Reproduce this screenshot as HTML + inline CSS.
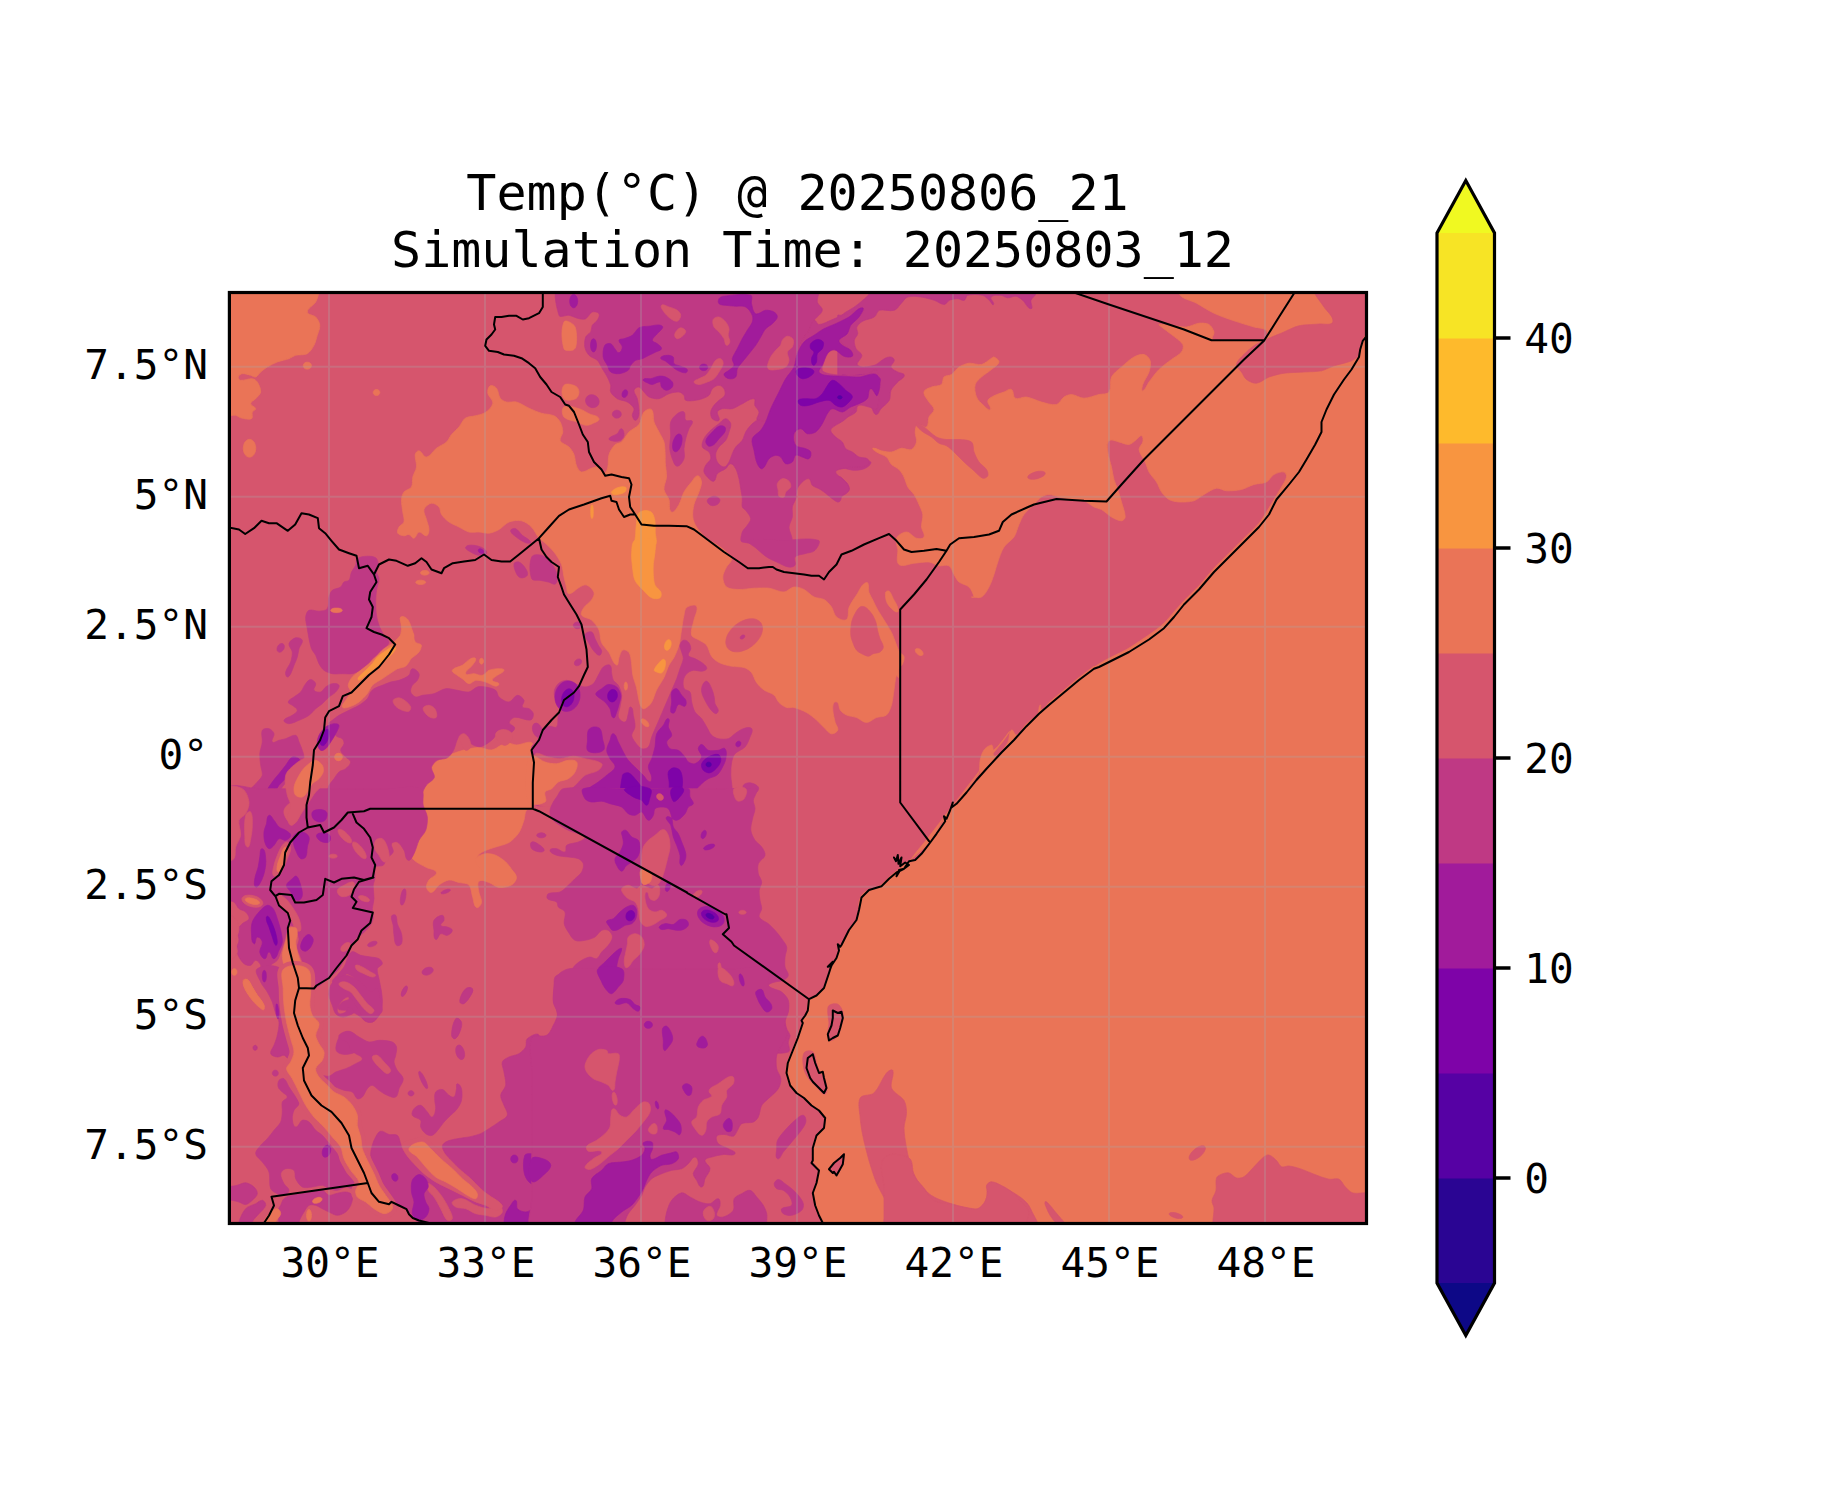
<!DOCTYPE html><html><head><meta charset="utf-8"><title>Temp map</title>
<style>html,body{margin:0;padding:0;background:#fff}svg{display:block}text{font-family:"DejaVu Sans Mono","Liberation Mono",monospace;fill:#000}</style></head><body>
<svg width="1833" height="1500" viewBox="0 0 1833 1500">
<rect width="1833" height="1500" fill="#fff"/>
<defs><clipPath id="mc"><rect x="229.4" y="292.5" width="1137.1" height="931.0"/></clipPath></defs>
<g clip-path="url(#mc)">
<rect x="229.4" y="292.5" width="1137.1" height="931.0" fill="#d6556d"/>
<path d="M994.0,357.0C995.9,357.9 999.4,359.9 999.0,362.0C998.4,365.1 993.9,367.4 991.5,369.5C988.7,371.9 984.3,374.5 981.5,377.0C979.3,379.0 976.0,381.7 975.2,384.5C974.3,388.2 975.1,393.5 976.5,397.0C977.8,400.2 981.4,403.4 984.0,405.8C985.6,407.2 988.9,411.2 990.2,409.5C991.9,407.3 987.0,403.4 987.8,400.8C988.4,398.4 991.9,396.9 994.0,395.8C996.8,394.2 1001.0,393.1 1004.0,392.0C1006.2,391.2 1009.4,388.3 1011.5,389.5C1014.0,390.9 1012.7,397.0 1015.2,398.2C1018.3,399.8 1023.1,396.5 1026.5,397.0C1031.2,397.7 1036.9,400.8 1041.5,402.0C1045.9,403.1 1052.0,405.5 1056.5,404.5C1059.6,403.8 1061.4,398.8 1064.0,397.0C1066.0,395.7 1069.1,394.4 1071.5,394.5C1075.4,394.7 1080.1,398.2 1084.0,398.2C1088.6,398.2 1094.5,395.6 1099.0,394.5C1102.0,393.8 1107.2,394.5 1109.0,392.0C1111.7,388.3 1109.5,381.1 1111.5,377.0C1113.4,373.2 1118.3,369.8 1121.5,367.0C1125.1,363.8 1129.8,359.3 1134.0,357.0C1136.7,355.5 1141.0,353.8 1144.0,354.5C1146.6,355.1 1149.5,358.2 1150.2,360.8C1151.2,364.0 1150.0,368.8 1149.0,372.0C1147.7,376.0 1144.1,380.5 1142.8,384.5C1142.2,386.3 1141.0,391.4 1142.8,390.8C1145.7,389.6 1147.0,384.6 1149.0,382.0C1151.9,378.2 1155.6,372.9 1159.0,369.5C1162.4,366.1 1167.7,362.4 1171.5,359.5C1174.5,357.2 1179.2,355.0 1181.5,352.0C1182.9,350.2 1183.9,346.5 1182.8,344.5C1180.5,340.6 1175.0,337.4 1171.5,334.5C1168.6,332.1 1164.4,329.3 1161.5,327.0C1160.7,326.3 1157.9,324.6 1159.0,324.5C1163.5,324.1 1169.5,325.3 1174.0,325.8C1177.8,326.1 1182.8,327.4 1186.5,327.0C1190.4,326.6 1195.1,323.7 1199.0,323.2C1202.0,322.9 1206.4,323.0 1209.0,324.5C1211.3,325.9 1213.3,329.4 1214.0,332.0C1214.6,334.2 1210.7,338.6 1212.8,339.5C1218.6,342.0 1227.6,340.4 1234.0,340.5C1243.0,340.6 1255.4,342.8 1264.0,340.2C1266.8,339.4 1268.3,333.1 1266.5,330.8C1264.1,327.6 1257.7,328.2 1254.0,327.0C1248.0,325.2 1239.9,322.8 1234.0,320.8C1227.9,318.7 1219.8,316.0 1214.0,313.2C1208.5,310.7 1201.8,306.2 1196.5,303.2C1191.2,300.2 1180.9,299.0 1179.0,293.2C1174.9,280.9 1171.6,260.6 1179.0,250.0C1184.2,242.6 1200.1,250.0 1209.1,250.0C1218.2,250.0 1230.2,250.0 1239.2,250.0C1248.3,250.0 1260.3,250.0 1269.4,250.0C1278.4,250.0 1290.5,250.0 1299.5,250.0C1308.5,250.0 1320.6,250.0 1329.6,250.0C1338.7,250.0 1350.7,250.0 1359.8,250.0C1368.8,250.0 1380.8,250.0 1389.9,250.0C1398.9,250.0 1413.6,243.6 1420.0,250.0C1426.4,256.4 1420.0,271.2 1420.0,280.3C1420.0,289.4 1420.0,301.5 1420.0,310.6C1420.0,319.7 1420.0,331.8 1420.0,340.9C1420.0,350.0 1420.0,362.1 1420.0,371.2C1420.0,380.3 1420.0,392.4 1420.0,401.5C1420.0,410.6 1420.0,422.7 1420.0,431.8C1420.0,440.9 1420.0,453.0 1420.0,462.1C1420.0,471.1 1420.0,483.3 1420.0,492.4C1420.0,501.4 1420.0,513.6 1420.0,522.6C1420.0,531.7 1420.0,543.9 1420.0,552.9C1420.0,562.0 1420.0,574.1 1420.0,583.2C1420.0,592.3 1420.0,604.4 1420.0,613.5C1420.0,622.6 1420.0,634.7 1420.0,643.8C1420.0,652.9 1420.0,665.0 1420.0,674.1C1420.0,683.2 1420.0,695.3 1420.0,704.4C1420.0,713.5 1420.0,725.6 1420.0,734.7C1420.0,743.8 1420.0,755.9 1420.0,765.0C1420.0,774.1 1420.0,786.2 1420.0,795.3C1420.0,804.4 1420.0,816.5 1420.0,825.6C1420.0,834.7 1420.0,846.8 1420.0,855.9C1420.0,865.0 1420.0,877.1 1420.0,886.2C1420.0,895.3 1420.0,907.4 1420.0,916.5C1420.0,925.6 1420.0,937.7 1420.0,946.8C1420.0,955.9 1420.0,968.0 1420.0,977.1C1420.0,986.1 1420.0,998.3 1420.0,1007.4C1420.0,1016.4 1420.0,1028.6 1420.0,1037.6C1420.0,1046.7 1420.0,1058.9 1420.0,1067.9C1420.0,1077.0 1420.0,1089.1 1420.0,1098.2C1420.0,1107.3 1420.0,1119.4 1420.0,1128.5C1420.0,1137.6 1420.0,1149.7 1420.0,1158.8C1420.0,1167.9 1420.0,1180.0 1420.0,1189.1C1420.0,1198.2 1420.0,1210.3 1420.0,1219.4C1420.0,1228.5 1420.0,1240.6 1420.0,1249.7C1420.0,1258.8 1426.7,1273.9 1420.0,1280.0C1413.0,1286.4 1398.0,1278.8 1388.6,1278.3C1379.1,1277.8 1366.6,1277.1 1357.1,1276.6C1347.7,1276.1 1335.1,1275.5 1325.7,1274.9C1316.3,1274.4 1303.7,1273.8 1294.3,1273.3C1284.8,1272.8 1272.3,1272.1 1262.8,1271.6C1253.4,1271.1 1240.8,1270.4 1231.4,1269.9C1222.0,1269.4 1209.4,1268.7 1200.0,1268.2C1190.5,1267.7 1178.0,1267.0 1168.5,1266.5C1159.1,1266.0 1146.5,1265.3 1137.1,1264.8C1127.7,1264.3 1115.1,1263.7 1105.7,1263.2C1096.2,1262.7 1083.7,1262.0 1074.2,1261.5C1064.8,1261.0 1052.2,1260.3 1042.8,1259.8C1033.4,1259.3 1020.8,1258.6 1011.4,1258.1C1001.9,1257.6 989.4,1256.9 979.9,1256.4C970.5,1255.9 957.9,1255.2 948.5,1254.7C939.1,1254.2 926.5,1253.6 917.1,1253.1C907.6,1252.5 895.0,1251.9 885.6,1251.4C876.2,1250.9 863.6,1250.2 854.2,1249.7C844.8,1249.2 829.9,1254.1 822.8,1248.0C817.0,1243.1 823.6,1230.5 822.8,1223.0C822.5,1220.5 820.0,1217.8 819.0,1215.5C817.7,1212.6 816.1,1208.6 815.2,1205.5C814.2,1201.8 812.5,1196.8 812.8,1193.0C812.9,1189.8 815.6,1186.1 816.5,1183.0C817.5,1179.3 819.6,1174.3 819.0,1170.5C818.4,1167.0 813.7,1163.9 812.8,1160.5C811.7,1156.9 812.2,1151.7 812.8,1148.0C813.3,1144.1 814.6,1138.9 816.5,1135.5C818.1,1132.7 822.6,1130.8 824.0,1128.0C825.4,1125.3 826.1,1120.9 825.2,1118.0C824.4,1115.2 821.2,1112.5 819.0,1110.5C817.0,1108.7 813.6,1107.2 811.5,1105.5C809.1,1103.5 806.5,1100.0 804.0,1098.0C801.8,1096.2 798.1,1094.9 796.0,1093.0C793.8,1091.1 791.1,1088.1 789.8,1085.5C788.0,1082.0 786.4,1076.9 786.0,1073.0C785.7,1070.0 786.4,1065.9 787.2,1063.0C788.3,1059.1 790.8,1054.2 792.2,1050.5C793.8,1046.8 795.9,1041.8 797.2,1038.0C798.9,1033.5 800.6,1027.5 802.2,1023.0C803.6,1019.2 806.1,1014.4 807.2,1010.5C808.2,1007.2 807.2,1002.2 809.0,999.2C810.3,997.1 814.5,997.0 816.5,995.5C819.0,993.6 822.5,990.8 824.0,988.0C826.3,983.9 827.2,977.4 829.0,973.0C830.9,968.4 834.4,962.6 836.5,958.0C838.2,954.2 839.9,948.9 841.5,945.0C842.1,943.5 843.2,941.5 844.0,940.0C846.2,936.2 849.2,931.2 851.5,927.5C853.8,923.8 857.7,919.2 859.0,915.0C860.1,911.4 858.2,906.2 859.0,902.5C859.7,899.2 861.4,894.6 864.0,892.5C867.8,889.4 874.9,888.9 879.0,886.2C883.3,883.5 887.7,878.3 891.5,875.0C895.2,871.9 900.3,868.0 904.0,865.0C908.5,861.3 914.7,856.4 919.0,852.5C922.9,848.9 928.4,844.3 931.5,840.0C936.0,833.7 939.9,824.1 944.0,817.5C946.7,813.2 950.8,807.7 954.0,803.8C956.8,800.2 960.9,795.8 964.0,792.5C968.4,787.9 976.0,783.1 979.0,777.5C981.5,772.8 980.1,765.1 981.5,760.0C982.4,756.8 984.6,752.8 986.5,750.0C987.7,748.2 989.4,745.0 991.5,745.0C993.2,745.0 992.6,751.0 994.0,750.0C999.6,746.0 1012.5,726.5 1009.0,732.5C1004.0,741.0 995.0,750.7 989.0,758.5C983.0,766.3 975.0,776.7 969.0,784.5C963.0,792.3 955.0,802.7 949.0,810.5C943.0,818.3 935.0,828.7 929.0,836.5C923.0,844.3 914.0,854.0 909.0,862.5C908.0,864.2 913.6,861.2 915.2,860.0C917.4,858.5 919.8,855.8 921.5,853.8C924.3,850.5 927.8,846.0 930.2,842.5C932.3,839.6 934.6,835.5 936.5,832.5C938.4,829.5 941.3,825.7 942.8,822.5C943.6,820.8 943.0,817.9 944.0,816.2C945.0,814.7 947.7,813.9 949.0,812.5C951.5,809.7 954.2,805.5 956.5,802.5C959.4,798.7 963.5,793.8 966.5,790.0C969.1,786.6 972.8,782.2 975.2,778.8C976.5,777.0 978.4,774.6 979.0,772.5C980.0,768.9 979.4,763.7 980.2,760.0C980.9,756.9 982.1,752.6 984.0,750.0C985.3,748.2 988.3,745.2 990.2,746.2C993.2,747.9 992.0,757.0 995.2,756.2C1000.7,755.1 1004.8,747.2 1007.8,742.5C1009.8,739.2 1008.5,732.5 1011.5,730.0C1013.1,728.6 1014.5,735.8 1016.5,735.0C1020.7,733.3 1023.3,726.9 1026.5,723.8C1029.7,720.6 1035.1,717.4 1037.8,713.8C1039.4,711.5 1038.3,706.9 1040.2,705.0C1041.3,703.9 1040.0,710.4 1041.5,710.0C1044.6,709.1 1046.6,704.6 1049.0,702.5C1053.4,698.6 1059.5,693.8 1064.0,690.0C1068.5,686.2 1074.4,681.1 1079.0,677.5C1083.4,674.0 1089.4,669.5 1094.0,666.2C1094.2,666.1 1093.8,667.1 1094.0,667.0C1097.8,664.9 1102.6,661.6 1106.5,659.5C1112.4,656.3 1120.7,652.8 1126.5,649.5C1131.9,646.4 1138.8,641.7 1144.0,638.2C1147.8,635.7 1152.8,632.2 1156.5,629.5C1158.8,627.7 1161.9,625.3 1164.0,623.2C1167.2,620.1 1171.0,615.4 1174.0,612.0C1177.0,608.6 1180.9,604.0 1184.0,600.8C1188.4,596.1 1194.7,590.4 1199.0,585.8C1203.7,580.7 1209.3,573.3 1214.0,568.2C1218.3,563.6 1224.5,557.8 1229.0,553.2C1233.5,548.8 1239.5,542.8 1244.0,538.2C1248.5,533.8 1254.9,528.1 1259.0,523.2C1261.6,520.2 1264.3,515.4 1266.5,512.0C1268.8,508.3 1271.8,503.2 1274.0,499.5C1276.2,495.8 1279.4,490.8 1281.5,487.0C1283.1,484.1 1285.9,480.3 1286.5,477.0C1286.8,475.3 1285.6,472.3 1284.0,472.0C1281.0,471.4 1276.7,473.0 1274.0,474.5C1271.2,476.1 1269.3,480.6 1266.5,482.0C1263.1,483.7 1257.7,483.4 1254.0,484.5C1250.1,485.7 1245.4,488.6 1241.5,489.5C1237.1,490.5 1231.0,491.0 1226.5,490.8C1223.4,490.6 1219.6,487.7 1216.5,488.2C1212.4,488.9 1207.7,492.5 1204.0,494.5C1200.9,496.2 1197.4,499.7 1194.0,500.8C1189.7,502.0 1183.5,502.2 1179.0,502.0C1175.9,501.8 1171.7,501.0 1169.0,499.5C1166.2,497.9 1163.3,494.6 1161.5,492.0C1159.6,489.3 1158.3,484.8 1156.5,482.0C1154.5,478.8 1150.8,475.3 1149.0,472.0C1147.4,469.2 1146.6,464.9 1145.2,462.0C1143.5,458.2 1139.5,453.7 1139.0,449.5C1138.7,447.0 1142.3,444.5 1142.8,442.0C1143.1,440.1 1143.3,436.5 1141.5,435.8C1139.8,435.1 1138.0,438.4 1136.5,439.5C1134.3,441.1 1131.7,444.1 1129.0,444.5C1125.9,444.9 1122.0,442.6 1119.0,442.0C1116.0,441.4 1111.3,438.7 1109.0,440.8C1106.5,443.0 1107.4,448.6 1107.8,452.0C1108.2,456.6 1110.5,462.5 1111.5,467.0C1112.3,470.7 1113.0,475.8 1114.0,479.5C1114.9,482.6 1116.7,486.5 1117.8,489.5C1119.0,493.2 1120.5,498.2 1121.5,502.0C1122.7,506.5 1125.2,512.4 1125.2,517.0C1125.2,518.6 1123.1,520.8 1121.5,520.8C1118.3,520.8 1114.3,518.6 1111.5,517.0C1108.2,515.2 1104.8,511.4 1101.5,509.5C1099.4,508.3 1096.1,508.1 1094.0,507.0C1090.8,505.4 1087.4,501.9 1084.0,500.8C1080.4,499.6 1075.2,500.1 1071.5,499.5C1067.7,498.9 1062.7,497.8 1059.0,497.0C1056.0,496.3 1052.1,494.5 1049.0,494.5C1046.6,494.5 1043.5,495.7 1041.5,497.0C1038.9,498.8 1036.2,502.2 1034.0,504.5C1031.0,507.5 1026.5,511.1 1024.0,514.5C1022.0,517.2 1020.4,521.4 1019.0,524.5C1017.4,528.2 1016.2,533.6 1014.0,537.0C1011.6,540.5 1006.3,543.4 1004.0,547.0C1001.3,551.1 999.4,557.4 997.8,562.0C996.4,565.7 995.3,570.8 994.0,574.5C992.7,578.3 991.0,583.5 989.0,587.0C987.2,590.3 984.8,595.1 981.5,597.0C978.9,598.5 974.5,597.0 971.5,597.0C970.8,597.0 974.2,597.7 974.0,597.0C973.2,593.7 971.4,589.4 969.0,587.0C966.6,584.6 961.6,584.1 959.0,582.0C956.9,580.3 955.4,576.8 954.0,574.5C952.4,571.9 951.6,567.3 949.0,565.8C946.4,564.2 941.9,566.3 939.0,565.8C935.9,565.2 932.2,562.3 929.0,562.0C924.5,561.6 918.5,562.9 914.0,563.2C909.5,563.6 902.4,567.4 899.0,564.5C895.6,561.6 898.2,554.0 897.8,549.5C897.4,546.1 895.0,541.3 896.5,538.2C898.1,535.1 903.0,532.0 906.5,532.0C910.0,532.0 913.1,537.3 916.5,538.2C918.7,538.9 923.1,539.1 924.0,537.0C925.3,534.2 921.7,530.1 921.5,527.0C921.3,523.2 923.2,518.2 922.8,514.5C922.4,511.3 920.3,507.4 919.0,504.5C917.7,501.4 915.8,497.3 914.0,494.5C912.4,492.0 909.2,489.5 907.8,487.0C906.2,484.2 905.4,479.9 904.0,477.0C902.8,474.6 900.9,471.4 899.0,469.5C897.1,467.6 893.4,466.4 891.5,464.5C889.6,462.6 888.6,458.7 886.5,457.0C883.9,454.9 879.3,453.8 876.5,452.0C875.2,451.1 871.2,448.6 872.8,448.2C875.4,447.6 878.8,450.2 881.5,450.8C884.5,451.3 888.5,452.4 891.5,452.0C894.7,451.6 898.3,448.6 901.5,448.2C904.5,447.9 908.7,450.7 911.5,449.5C914.0,448.5 915.9,444.6 916.5,442.0C917.1,439.0 915.0,435.0 915.2,432.0C915.4,429.6 915.6,425.5 917.8,424.5C920.2,423.4 924.2,428.5 926.5,427.0C929.1,425.3 927.8,419.8 929.0,417.0C930.1,414.5 934.0,412.2 934.0,409.5C934.0,406.8 930.3,404.3 929.0,402.0C927.3,399.1 923.4,395.3 924.0,392.0C924.4,389.3 929.0,388.1 931.5,387.0C934.3,385.8 939.1,386.4 941.5,384.5C943.4,383.0 942.3,378.7 944.0,377.0C945.7,375.3 949.5,375.8 951.5,374.5C954.1,372.7 956.3,368.7 959.0,367.0C961.7,365.3 965.8,363.6 969.0,363.2C972.7,362.8 977.8,365.3 981.5,364.5C985.0,363.7 988.5,360.1 991.5,358.2C992.2,357.8 993.2,356.6 994.0,357.0Z" fill="#ea7457" stroke="#ea7457" stroke-width="0.7"/>
<path d="M1236.5,364.5C1237.0,360.8 1241.4,357.2 1244.0,354.5C1246.7,351.6 1250.7,348.0 1254.0,345.8C1256.8,343.8 1261.0,342.2 1264.0,340.8C1265.5,340.0 1267.5,338.9 1269.0,338.2C1273.5,336.3 1279.5,333.9 1284.0,332.0C1288.5,330.1 1294.2,326.8 1299.0,325.8C1304.9,324.4 1313.0,324.7 1319.0,324.0C1323.1,323.5 1331.6,326.0 1332.8,322.0C1334.2,317.0 1326.8,311.4 1324.0,307.0C1321.1,302.4 1316.1,297.0 1314.0,292.0C1312.2,287.8 1307.3,278.9 1311.5,277.0C1321.4,272.6 1336.9,277.0 1347.8,277.0C1358.6,277.0 1378.1,267.9 1384.0,277.0C1393.1,291.2 1388.9,317.1 1384.0,333.2C1382.5,338.1 1371.8,331.6 1367.0,333.2C1364.4,334.1 1363.1,338.3 1362.0,340.8C1360.9,343.2 1360.4,346.9 1359.8,349.5C1359.3,351.4 1359.6,354.2 1358.5,355.8C1357.0,357.8 1353.8,359.6 1351.5,360.8C1349.4,361.8 1346.3,362.6 1344.0,363.2C1341.0,364.1 1336.9,364.8 1334.0,365.8C1330.2,367.0 1325.5,369.9 1321.5,370.8C1316.3,371.8 1309.3,371.6 1304.0,372.0C1298.0,372.4 1290.0,372.4 1284.0,373.2C1279.4,373.9 1273.4,375.4 1269.0,377.0C1265.1,378.4 1260.7,382.8 1256.5,383.2C1253.3,383.6 1249.1,381.4 1246.5,379.5C1244.3,377.9 1243.0,374.2 1241.5,372.0C1240.0,369.8 1236.1,367.2 1236.5,364.5Z" fill="#d6556d" stroke="#d6556d" stroke-width="0.7"/>
<path d="M916.5,423.2C917.9,421.2 921.9,425.6 924.0,427.0C928.0,429.7 932.3,434.7 936.5,437.0C939.2,438.5 943.4,439.2 946.5,439.5C950.2,439.9 955.3,439.1 959.0,439.5C962.8,439.9 968.6,439.6 971.5,442.0C973.9,444.0 972.9,449.1 974.0,452.0C975.2,455.1 977.1,459.3 979.0,462.0C980.8,464.6 984.8,466.8 986.5,469.5C987.5,471.1 988.5,474.0 987.8,475.8C987.1,477.3 984.3,478.8 982.8,478.2C979.5,477.1 976.6,473.0 974.0,470.8C971.0,468.1 966.9,464.7 964.0,462.0C960.9,459.1 957.1,454.9 954.0,452.0C951.9,450.0 949.0,447.2 946.5,445.8C944.5,444.6 941.0,444.4 939.0,443.2C936.5,441.8 933.9,438.7 931.5,437.0C928.6,434.9 924.1,433.1 921.5,430.8C919.5,428.9 915.0,425.5 916.5,423.2Z" fill="#d6556d" stroke="#d6556d" stroke-width="0.7"/>
<path d="M1045.2,472.9C1045.4,473.7 1044.7,474.8 1044.1,475.4C1043.0,476.3 1041.3,477.2 1040.0,477.7C1038.5,478.4 1036.3,479.0 1034.7,479.2C1033.3,479.4 1031.4,479.4 1030.0,479.1C1029.2,478.9 1028.0,478.4 1027.8,477.6C1027.6,476.8 1028.3,475.7 1028.9,475.1C1030.0,474.2 1031.7,473.3 1033.0,472.8C1034.5,472.1 1036.7,471.5 1038.3,471.3C1039.7,471.1 1041.6,471.1 1043.0,471.4C1043.8,471.6 1045.0,472.1 1045.2,472.9Z" fill="#d6556d" stroke="#d6556d" stroke-width="0.7"/>
<path d="M860.2,1098.0C862.4,1094.2 870.8,1096.0 874.0,1093.0C879.1,1088.1 882.0,1078.4 886.5,1073.0C887.8,1071.4 892.1,1068.6 892.8,1070.5C894.4,1075.5 889.7,1083.1 891.5,1088.0C893.4,1093.0 901.3,1096.0 904.0,1100.5C906.0,1103.8 906.5,1109.2 906.5,1113.0C906.5,1117.6 904.0,1123.4 904.0,1128.0C904.0,1134.0 905.4,1142.1 906.5,1148.0C907.6,1154.1 909.4,1162.2 911.5,1168.0C913.2,1172.7 916.0,1178.9 919.0,1183.0C922.1,1187.3 927.1,1192.6 931.5,1195.5C936.3,1198.7 943.6,1201.2 949.0,1203.0C954.9,1205.0 962.9,1207.1 969.0,1208.0C972.7,1208.6 978.2,1209.9 981.5,1208.0C984.4,1206.3 985.5,1201.2 986.5,1198.0C987.8,1193.6 985.8,1186.2 989.0,1183.0C991.2,1180.8 996.1,1184.4 999.0,1185.5C1003.7,1187.4 1009.7,1190.3 1014.0,1193.0C1018.2,1195.6 1023.7,1199.3 1027.0,1203.0C1029.9,1206.2 1031.9,1211.8 1034.0,1215.5C1037.0,1220.8 1039.9,1228.5 1044.0,1233.0C1047.6,1237.0 1057.1,1237.9 1059.0,1243.0C1062.2,1251.4 1065.7,1267.0 1059.0,1273.0C1051.5,1279.7 1035.5,1273.0 1025.5,1273.0C1015.5,1273.0 1002.0,1273.0 992.0,1273.0C982.0,1273.0 968.5,1273.0 958.5,1273.0C948.5,1273.0 935.0,1273.0 925.0,1273.0C915.0,1273.0 897.1,1281.3 891.5,1273.0C883.2,1260.5 892.6,1238.0 891.5,1223.0C891.1,1216.8 888.7,1208.8 886.5,1203.0C884.1,1196.7 879.1,1189.2 876.5,1183.0C873.8,1176.4 871.0,1167.3 869.0,1160.5C866.9,1153.1 864.3,1143.1 862.8,1135.5C861.7,1130.3 860.6,1123.3 860.2,1118.0C859.9,1112.0 857.4,1103.3 860.2,1098.0Z" fill="#d6556d" stroke="#d6556d" stroke-width="0.7"/>
<path d="M909.0,1158.0C913.7,1160.8 911.6,1170.6 914.0,1175.5C916.1,1179.8 921.0,1184.2 924.0,1188.0C927.0,1191.8 929.9,1198.1 934.0,1200.5C938.6,1203.2 946.3,1203.0 951.5,1204.2C956.0,1205.3 962.0,1207.1 966.5,1208.0C969.5,1208.6 973.6,1210.1 976.5,1209.2C979.3,1208.4 982.3,1205.4 984.0,1203.0C985.8,1200.4 987.3,1196.2 987.8,1193.0C988.1,1190.7 985.8,1187.7 986.5,1185.5C987.1,1183.7 989.6,1181.8 991.5,1181.8C994.7,1181.8 998.6,1184.1 1001.5,1185.5C1004.7,1187.1 1008.8,1189.5 1011.5,1191.8C1014.8,1194.4 1018.7,1198.6 1021.5,1201.8C1024.0,1204.6 1028.1,1208.1 1029.0,1211.8C1029.8,1215.1 1026.7,1219.6 1026.5,1223.0C1026.0,1230.5 1032.6,1243.7 1026.5,1248.0C1017.8,1254.1 1001.6,1248.0 990.9,1248.0C980.2,1248.0 965.9,1248.0 955.2,1248.0C944.6,1248.0 930.3,1248.0 919.6,1248.0C908.9,1248.0 892.2,1254.9 884.0,1248.0C877.1,1242.2 884.0,1227.0 884.0,1218.0C884.0,1209.0 884.0,1197.0 884.0,1188.0C884.0,1179.0 878.2,1164.9 884.0,1158.0C888.8,1152.2 902.5,1154.2 909.0,1158.0Z" fill="#d6556d" stroke="#d6556d" stroke-width="0.7"/>
<path d="M1045.2,1201.8C1046.0,1200.6 1048.0,1203.3 1049.0,1204.2C1051.1,1206.3 1053.4,1209.5 1055.2,1211.8C1057.1,1214.0 1059.7,1216.9 1061.5,1219.2C1062.3,1220.3 1065.1,1222.2 1064.0,1223.0C1062.2,1224.3 1058.5,1224.1 1056.5,1223.0C1053.9,1221.6 1051.9,1217.9 1050.2,1215.5C1048.9,1213.4 1047.4,1210.4 1046.5,1208.0C1045.8,1206.2 1044.2,1203.3 1045.2,1201.8Z" fill="#d6556d" stroke="#d6556d" stroke-width="0.7"/>
<path d="M1216.5,1178.0C1217.1,1176.2 1219.8,1174.9 1221.5,1174.2C1223.6,1173.4 1226.8,1172.4 1229.0,1173.0C1231.6,1173.7 1233.9,1177.3 1236.5,1178.0C1238.7,1178.6 1242.1,1178.0 1244.0,1176.8C1247.6,1174.5 1251.0,1169.8 1254.0,1166.8C1257.0,1163.8 1260.7,1159.4 1264.0,1156.8C1265.3,1155.8 1267.5,1154.5 1269.0,1155.0C1271.7,1155.8 1274.5,1158.6 1276.5,1160.5C1278.2,1162.1 1279.3,1165.8 1281.5,1166.8C1283.6,1167.7 1286.8,1165.7 1289.0,1166.0C1292.8,1166.5 1297.8,1168.0 1301.5,1169.2C1305.3,1170.5 1310.2,1172.9 1314.0,1174.2C1318.5,1175.9 1324.3,1178.3 1329.0,1179.2C1331.9,1179.8 1336.3,1178.0 1339.0,1179.2C1341.7,1180.5 1343.2,1184.7 1345.2,1186.8C1347.3,1188.8 1349.9,1192.3 1352.8,1193.0C1356.9,1194.1 1362.7,1192.6 1367.0,1192.5C1372.1,1192.4 1382.5,1187.6 1384.0,1192.5C1388.9,1208.4 1392.7,1233.8 1384.0,1248.0C1378.6,1256.7 1360.0,1248.0 1349.8,1248.0C1339.5,1248.0 1325.8,1248.0 1315.5,1248.0C1305.2,1248.0 1291.5,1248.0 1281.2,1248.0C1271.0,1248.0 1257.3,1248.0 1247.0,1248.0C1236.7,1248.0 1221.0,1254.1 1212.8,1248.0C1206.7,1243.6 1212.5,1230.5 1212.8,1223.0C1212.9,1218.5 1214.2,1212.5 1214.0,1208.0C1213.9,1205.7 1211.7,1202.8 1212.0,1200.5C1212.4,1197.3 1215.4,1193.7 1216.0,1190.5C1216.7,1186.8 1215.3,1181.6 1216.5,1178.0Z" fill="#d6556d" stroke="#d6556d" stroke-width="0.7"/>
<path d="M1204.9,1146.6C1205.5,1147.3 1205.5,1148.9 1205.1,1149.8C1204.7,1151.3 1203.4,1153.1 1202.4,1154.3C1201.1,1155.7 1199.2,1157.3 1197.6,1158.3C1196.3,1159.1 1194.3,1160.0 1192.8,1160.2C1191.8,1160.4 1190.2,1160.2 1189.6,1159.4C1189.0,1158.7 1189.0,1157.1 1189.4,1156.2C1189.8,1154.7 1191.1,1152.9 1192.1,1151.7C1193.4,1150.3 1195.3,1148.7 1196.9,1147.7C1198.2,1146.9 1200.2,1146.0 1201.7,1145.8C1202.7,1145.6 1204.3,1145.8 1204.9,1146.6Z" fill="#d6556d" stroke="#d6556d" stroke-width="0.7"/>
<path d="M1182.8,1217.3C1182.6,1217.9 1181.7,1218.3 1181.1,1218.4C1180.0,1218.6 1178.5,1218.5 1177.5,1218.4C1176.2,1218.2 1174.5,1217.7 1173.3,1217.2C1172.3,1216.8 1171.0,1216.2 1170.1,1215.5C1169.7,1215.1 1169.1,1214.3 1169.2,1213.7C1169.4,1213.1 1170.3,1212.7 1170.9,1212.6C1172.0,1212.4 1173.5,1212.5 1174.5,1212.6C1175.8,1212.8 1177.5,1213.3 1178.7,1213.8C1179.7,1214.2 1181.0,1214.8 1181.9,1215.5C1182.3,1215.9 1182.9,1216.7 1182.8,1217.3Z" fill="#d6556d" stroke="#d6556d" stroke-width="0.7"/>
<path d="M465.2,418.2C467.8,416.5 472.3,416.5 475.2,415.8C477.9,415.0 481.6,414.5 484.0,413.2C486.1,412.2 488.8,410.1 490.2,408.2C491.5,406.7 493.1,404.0 492.8,402.0C492.3,399.0 488.2,396.2 487.8,393.2C487.4,390.9 488.2,386.9 490.2,385.8C492.0,384.7 495.2,386.7 496.5,388.2C498.5,390.8 498.4,395.7 500.2,398.2C501.5,400.0 504.4,401.5 506.5,402.0C509.4,402.7 513.6,401.2 516.5,402.0C520.5,403.1 525.2,406.5 529.0,408.2C532.7,409.9 537.6,412.1 541.5,413.2C545.2,414.3 550.5,414.1 554.0,415.8C556.4,416.9 559.0,419.7 560.2,422.0C561.7,424.7 562.8,428.9 562.8,432.0C562.8,434.7 559.2,438.2 560.2,440.8C561.5,443.7 566.7,444.7 569.0,447.0C570.9,448.9 573.0,452.0 574.0,454.5C575.3,457.7 575.1,462.6 576.5,465.8C577.4,468.0 579.1,471.6 581.5,472.0C584.7,472.5 588.4,469.1 591.5,468.2C593.7,467.6 596.9,466.2 599.0,467.0C601.2,467.9 601.6,473.2 604.0,473.2C606.2,473.2 607.2,469.1 607.8,467.0C608.7,463.4 607.8,458.1 609.0,454.5C610.1,451.1 612.7,447.0 615.2,444.5C616.7,443.1 620.0,443.4 621.5,442.0C624.3,439.5 626.3,434.7 629.0,432.0C631.7,429.3 636.8,427.5 639.0,424.5C641.4,421.3 641.4,415.1 644.0,412.0C645.5,410.2 649.8,407.8 651.5,409.5C654.2,412.2 652.8,418.4 654.0,422.0C655.1,425.2 657.5,429.0 659.0,432.0C660.5,435.0 663.1,438.8 664.0,442.0C665.0,445.6 665.0,450.7 665.2,454.5C665.4,456.7 665.1,459.8 665.2,462.0C665.5,466.5 666.7,472.5 666.5,477.0C666.3,480.8 663.6,485.7 664.0,489.5C664.4,492.8 667.9,496.3 669.0,499.5C670.2,503.1 668.1,510.3 671.5,512.0C674.3,513.4 677.3,507.2 679.0,504.5C681.1,501.1 682.0,495.5 684.0,492.0C685.8,488.7 689.1,484.9 691.5,482.0C693.2,480.0 695.1,475.8 697.8,475.8C699.9,475.8 701.3,479.8 701.5,482.0C701.7,485.1 700.0,489.1 699.0,492.0C697.7,495.8 695.0,500.6 694.0,504.5C693.1,508.2 692.3,513.3 692.8,517.0C693.1,520.2 694.8,524.3 696.5,527.0C699.0,530.8 703.1,535.3 706.5,538.2C709.2,540.6 713.6,542.5 716.5,544.5C719.6,546.6 723.8,549.3 726.5,552.0C728.4,553.9 731.5,556.8 731.5,559.5C731.5,562.2 727.7,564.6 726.5,567.0C725.1,569.9 722.8,573.8 722.8,577.0C722.8,580.2 724.0,585.0 726.5,587.0C729.5,589.3 735.2,589.3 739.0,589.5C743.5,589.7 749.5,588.4 754.0,588.2C758.5,588.1 764.5,587.7 769.0,588.2C773.6,588.8 779.4,592.2 784.0,592.0C787.3,591.8 790.7,587.4 794.0,587.0C797.1,586.6 801.2,588.1 804.0,589.5C807.4,591.2 810.6,595.3 814.0,597.0C816.8,598.4 821.3,598.0 824.0,599.5C826.8,601.1 829.7,604.4 831.5,607.0C833.4,609.7 833.9,614.9 836.5,617.0C838.9,619.0 844.0,621.4 846.5,619.5C849.4,617.3 847.6,610.9 849.0,607.5C850.7,603.5 854.0,598.6 856.5,595.0C859.3,591.1 861.8,583.4 866.5,582.5C869.5,581.9 868.0,589.6 869.0,592.5C869.8,594.9 871.6,597.8 872.8,600.0C874.2,603.0 876.1,607.1 877.8,610.0C879.5,613.1 882.2,617.0 884.0,620.0C886.3,623.7 889.5,628.6 891.5,632.5C893.3,636.1 895.0,641.3 896.5,645.0C897.4,647.1 898.3,650.1 899.5,652.0C900.5,653.6 903.5,654.6 904.0,656.5C904.6,658.7 903.4,661.9 902.5,664.0C901.8,665.7 899.5,667.2 899.0,669.0C898.3,671.4 899.5,675.1 898.5,677.5C898.1,678.4 896.8,674.1 896.5,675.0C895.0,679.3 894.8,685.5 894.0,690.0C893.2,694.5 892.8,700.6 891.5,705.0C890.5,708.2 889.1,712.9 886.5,715.0C884.1,717.0 879.4,716.4 876.5,717.5C873.4,718.7 869.9,722.5 866.5,722.5C863.1,722.5 859.6,718.7 856.5,717.5C853.6,716.4 849.3,716.3 846.5,715.0C844.3,714.0 841.6,712.0 840.2,710.0C838.9,708.1 839.3,704.3 837.8,702.5C837.0,701.6 834.6,701.6 834.0,702.5C832.7,704.4 832.6,707.7 832.8,710.0C833.0,713.8 834.3,718.8 835.2,722.5C835.8,724.8 838.5,727.8 837.8,730.0C837.1,732.1 833.7,734.1 831.5,733.8C828.6,733.2 826.2,729.5 824.0,727.5C821.7,725.3 818.9,722.1 816.5,720.0C813.7,717.6 809.8,714.3 806.5,712.5C803.0,710.5 797.9,708.5 794.0,707.5C791.8,707.0 788.6,708.2 786.5,707.5C783.9,706.6 780.9,704.4 779.0,702.5C777.1,700.6 776.1,696.7 774.0,695.0C771.4,692.9 766.7,691.9 764.0,690.0C761.4,688.2 758.3,685.1 756.5,682.5C754.6,679.8 753.6,675.1 751.5,672.5C749.8,670.4 746.6,668.3 744.0,667.5C740.4,666.4 735.2,667.0 731.5,666.2C727.7,665.5 722.5,664.3 719.0,662.5C716.4,661.2 713.2,658.6 711.5,656.2C709.4,653.2 708.8,647.9 706.5,645.0C704.9,642.9 701.2,641.5 699.0,640.0C696.8,638.5 692.2,637.6 691.5,635.0C690.4,630.6 693.2,624.5 694.0,620.0C694.7,615.9 698.7,609.8 696.5,606.2C694.9,603.7 689.0,605.8 686.5,607.5C684.6,608.9 684.5,612.7 684.0,615.0C683.0,619.5 682.2,625.5 681.5,630.0C680.8,634.5 680.2,640.6 679.0,645.0C677.9,648.9 675.8,653.9 674.0,657.5C672.8,659.9 670.2,662.6 669.0,665.0C667.2,668.6 665.8,673.9 664.0,677.5C662.0,681.4 658.5,686.1 656.5,690.0C654.7,693.6 653.7,699.1 651.5,702.5C649.9,704.9 646.9,708.1 644.0,708.8C642.4,709.1 640.8,706.5 640.2,705.0C638.5,699.9 637.8,692.7 636.5,687.5C635.6,683.7 633.5,678.8 632.8,675.0C632.0,671.3 632.1,666.2 631.5,662.5C631.0,659.4 630.8,655.0 629.0,652.5C627.8,650.8 624.6,649.1 622.8,650.0C620.5,651.1 620.0,655.2 619.0,657.5C618.1,659.7 618.6,666.1 616.5,665.0C612.6,663.0 611.4,656.1 609.0,652.5C606.9,649.4 603.0,645.9 601.5,642.5C599.9,639.0 600.6,633.5 599.0,630.0C597.5,626.6 594.3,622.4 591.5,620.0C589.0,617.8 583.2,617.9 581.5,615.0C580.3,613.0 582.7,609.5 584.0,607.5C585.8,604.9 589.7,602.6 591.5,600.0C592.8,598.0 594.8,594.8 594.0,592.5C593.0,589.5 589.5,586.0 586.5,585.0C584.2,584.2 581.1,586.4 579.0,587.5C575.8,589.1 572.5,593.9 569.0,593.8C566.8,593.7 567.1,589.1 566.5,587.0C565.6,584.0 564.7,580.0 564.0,577.0C563.2,573.3 562.9,568.1 561.5,564.5C559.9,560.4 556.7,555.5 554.0,552.0C551.4,548.7 547.1,544.9 544.0,542.0C542.6,540.7 540.2,539.7 539.0,538.2C536.4,535.1 534.4,529.9 531.5,527.0C529.0,524.5 525.0,521.5 521.5,520.8C517.8,519.9 512.5,520.6 509.0,522.0C505.5,523.4 502.3,527.7 499.0,529.5C496.2,531.1 492.2,532.9 489.0,533.2C486.0,533.6 482.0,532.2 479.0,532.0C476.0,531.8 471.9,532.7 469.0,532.0C465.7,531.2 462.0,528.5 459.0,527.0C456.0,525.5 451.7,523.9 449.0,522.0C446.4,520.2 443.3,517.1 441.5,514.5C440.2,512.5 440.6,508.8 439.0,507.0C437.3,505.1 434.0,502.8 431.5,503.2C428.6,503.7 424.9,506.7 424.0,509.5C423.1,512.5 425.8,516.5 426.5,519.5C427.2,522.5 429.0,526.4 429.0,529.5C429.0,531.5 428.5,535.3 426.5,535.8C424.1,536.4 421.5,531.5 419.0,532.0C416.6,532.5 416.3,537.7 414.0,538.2C412.2,538.7 410.8,535.0 409.0,534.5C407.5,534.1 405.5,535.9 404.0,535.8C402.0,535.5 398.8,535.0 397.8,533.2C396.8,531.6 398.1,528.7 399.0,527.0C400.0,525.1 403.5,524.1 404.0,522.0C404.7,519.1 403.1,515.0 402.8,512.0C402.3,508.3 401.3,503.3 401.5,499.5C401.6,497.1 402.5,493.9 404.0,492.0C405.7,489.9 410.1,489.3 411.5,487.0C413.0,484.4 412.0,479.9 412.8,477.0C413.5,473.9 416.1,470.2 416.5,467.0C416.9,463.3 414.7,458.2 415.2,454.5C415.5,452.9 417.4,450.4 419.0,450.8C421.9,451.4 423.6,457.4 426.5,457.0C430.4,456.4 433.3,450.6 436.5,448.2C439.3,446.1 443.9,444.4 446.5,442.0C448.5,440.2 449.8,436.6 451.5,434.5C453.5,432.1 456.9,429.4 459.0,427.0C461.1,424.5 462.6,420.1 465.2,418.2Z" fill="#ea7457" stroke="#ea7457" stroke-width="0.7"/>
<path d="M219.0,282.0C226.2,274.9 242.5,282.0 252.6,282.0C262.7,282.0 276.1,282.0 286.2,282.0C296.3,282.0 310.2,279.1 319.8,282.0C322.7,282.9 319.6,289.1 319.0,292.0C318.4,295.1 317.3,299.3 315.7,302.0C313.7,305.4 307.3,308.1 307.3,312.0C307.3,314.9 313.7,314.9 315.7,317.0C317.6,319.0 319.6,322.5 319.8,325.3C320.1,328.4 318.2,332.4 317.3,335.3C316.4,338.4 315.5,342.6 314.0,345.3C312.5,348.1 310.1,352.1 307.3,353.7C304.2,355.4 299.1,354.4 295.7,355.3C293.5,355.9 291.1,357.9 289.0,358.7C285.6,359.9 280.7,360.7 277.3,362.0C274.2,363.2 270.2,365.3 267.3,367.0C265.2,368.3 262.6,370.4 260.7,372.0C259.1,373.4 257.7,376.3 255.7,377.0C254.2,377.5 252.2,375.7 250.7,375.3C248.2,374.7 244.9,373.3 242.3,373.7C240.7,373.9 238.6,375.4 238.2,377.0C237.9,378.2 239.4,380.2 240.7,380.3C244.2,380.7 248.8,378.3 252.3,378.7C254.1,378.8 256.4,380.5 257.3,382.0C259.0,384.7 261.0,388.9 260.7,392.0C260.4,394.5 257.3,396.8 255.7,398.7C254.3,400.3 250.7,401.5 250.7,403.7C250.7,405.8 255.3,406.6 255.7,408.7C255.9,410.1 252.9,410.7 252.3,412.0C251.6,413.9 253.3,417.8 251.5,418.7C248.6,420.1 243.9,418.5 240.7,417.8C239.0,417.5 237.3,415.5 235.7,415.3C230.7,414.8 221.2,419.8 219.0,415.3C214.5,406.4 219.0,392.0 219.0,382.0C219.0,372.0 219.0,358.7 219.0,348.7C219.0,338.7 219.0,325.3 219.0,315.3C219.0,305.3 211.9,289.0 219.0,282.0Z" fill="#ea7457" stroke="#ea7457" stroke-width="0.7"/>
<path d="M311.5,365.7C311.5,366.3 311.1,367.2 310.7,367.7C310.2,368.3 309.3,368.8 308.6,369.0C307.9,369.2 306.8,369.2 306.0,369.0C305.3,368.8 304.4,368.3 304.0,367.7C303.5,367.2 303.2,366.3 303.2,365.7C303.2,365.0 303.5,364.1 304.0,363.6C304.4,363.1 305.3,362.5 306.0,362.3C306.8,362.1 307.9,362.1 308.6,362.3C309.3,362.5 310.2,363.1 310.7,363.6C311.1,364.1 311.5,365.0 311.5,365.7Z" fill="#ea7457" stroke="#ea7457" stroke-width="0.7"/>
<path d="M379.8,392.5C379.8,393.1 379.6,393.8 379.2,394.3C378.8,394.7 378.1,395.2 377.5,395.4C376.9,395.5 376.1,395.5 375.5,395.4C374.9,395.2 374.2,394.7 373.8,394.3C373.4,393.8 373.2,393.1 373.2,392.5C373.2,391.9 373.4,391.2 373.8,390.7C374.2,390.3 374.9,389.8 375.5,389.6C376.1,389.5 376.9,389.5 377.5,389.6C378.1,389.8 378.8,390.3 379.2,390.7C379.6,391.2 379.8,391.9 379.8,392.5Z" fill="#ea7457" stroke="#ea7457" stroke-width="0.7"/>
<path d="M510.7,530.3C511.1,528.8 514.2,528.0 515.7,528.7C518.3,529.8 520.2,533.5 522.3,535.3C524.7,537.5 529.4,539.1 530.7,542.0C531.3,543.4 527.1,543.4 525.7,542.8C521.8,541.3 517.2,538.0 514.0,535.3C512.6,534.2 510.2,532.1 510.7,530.3Z" fill="#bf3984" stroke="#bf3984" stroke-width="0.7"/>
<path d="M255.8,448.2C255.8,449.9 255.3,452.1 254.6,453.5C253.9,454.8 252.7,456.2 251.4,456.8C250.4,457.3 248.6,457.3 247.6,456.8C246.3,456.2 245.1,454.8 244.4,453.5C243.7,452.1 243.2,449.9 243.2,448.2C243.2,446.6 243.7,444.4 244.4,443.0C245.1,441.7 246.3,440.3 247.6,439.7C248.6,439.2 250.4,439.2 251.4,439.7C252.7,440.3 253.9,441.7 254.6,443.0C255.3,444.4 255.8,446.6 255.8,448.2Z" fill="#ea7457" stroke="#ea7457" stroke-width="0.7"/>
<path d="M401.5,617.0C402.6,615.3 406.5,617.9 407.8,619.5C410.2,622.7 411.5,628.2 412.8,632.0C413.7,634.9 413.6,639.4 415.2,642.0C416.4,643.8 421.8,643.6 421.5,645.8C421.1,648.7 415.8,649.7 414.0,652.0C412.0,654.7 410.9,659.2 409.0,662.0C407.8,663.8 406.1,666.5 404.0,667.0C399.6,668.1 391.8,670.5 389.0,667.0C386.5,663.8 392.5,658.2 394.0,654.5C395.5,650.8 397.8,645.9 399.0,642.0C400.1,638.3 401.1,633.3 401.5,629.5C401.9,625.8 399.5,620.2 401.5,617.0Z" fill="#ea7457" stroke="#ea7457" stroke-width="0.7"/>
<path d="M851.7,622.0C852.2,619.4 853.7,616.0 855.0,613.7C856.2,611.5 857.9,608.4 860.0,607.0C861.2,606.2 863.7,606.3 865.0,607.0C867.5,608.4 870.0,611.4 871.7,613.7C873.3,615.9 874.9,619.4 875.8,622.0C876.7,624.4 876.9,627.9 877.5,630.3C878.1,632.9 879.1,636.2 880.0,638.7C880.9,641.2 883.3,644.3 883.3,647.0C883.3,648.8 881.5,651.0 880.0,652.0C878.3,653.1 875.3,653.0 873.3,653.7C871.8,654.2 870.0,656.2 868.3,656.2C866.2,656.2 863.6,654.6 861.7,653.7C860.1,652.9 857.8,651.7 856.7,650.3C855.2,648.6 854.1,645.8 853.3,643.7C852.4,641.2 851.0,637.9 850.8,635.3C850.5,631.3 850.9,625.9 851.7,622.0Z" fill="#d6556d" stroke="#d6556d" stroke-width="0.7"/>
<path d="M885.8,592.0C886.3,591.1 888.4,590.5 889.2,591.2C891.1,592.9 892.1,596.4 893.3,598.7C894.6,601.1 896.7,604.3 897.5,607.0C897.9,608.4 898.9,611.6 897.5,612.0C895.6,612.6 893.2,610.0 891.7,608.7C890.2,607.4 888.5,605.4 887.5,603.7C886.7,602.3 886.1,600.2 885.8,598.7C885.6,596.7 885.0,593.8 885.8,592.0Z" fill="#ea7457" stroke="#ea7457" stroke-width="0.7"/>
<path d="M922.7,655.0C922.4,655.4 921.6,655.6 921.1,655.6C920.3,655.6 919.3,655.2 918.6,654.9C917.9,654.4 917.0,653.7 916.4,653.0C915.9,652.4 915.4,651.5 915.3,650.8C915.2,650.2 915.2,649.4 915.6,649.0C915.9,648.6 916.7,648.4 917.3,648.4C918.0,648.4 919.0,648.8 919.7,649.1C920.4,649.6 921.4,650.3 921.9,651.0C922.4,651.6 922.9,652.5 923.1,653.2C923.2,653.8 923.1,654.6 922.7,655.0Z" fill="#ea7457" stroke="#ea7457" stroke-width="0.7"/>
<path d="M837.7,315.3C837.8,314.3 840.1,315.7 841.0,315.3C842.7,314.7 844.5,313.0 846.0,312.0C848.5,310.5 851.9,308.7 854.3,307.0C857.0,305.2 860.3,302.5 862.7,300.3C864.8,298.5 867.9,296.1 869.3,293.7C870.1,292.4 867.8,288.9 869.3,288.7C879.2,287.2 892.7,288.7 902.7,288.7C912.7,288.7 926.0,288.7 936.0,288.7C946.0,288.7 959.3,288.7 969.3,288.7C979.3,288.7 992.7,288.7 1002.7,288.7C1012.7,288.7 1026.1,287.2 1036.0,288.7C1037.5,288.9 1036.6,292.3 1036.0,293.7C1035.0,296.0 1031.8,298.0 1031.0,300.3C1030.2,302.7 1033.5,308.7 1031.0,308.7C1027.5,308.7 1025.4,302.6 1022.7,300.3C1020.9,298.8 1018.3,296.6 1016.0,296.2C1013.5,295.7 1010.2,298.0 1007.7,297.8C1005.5,297.7 1003.1,295.4 1001.0,295.3C998.0,295.2 992.9,294.6 991.0,297.0C989.5,298.8 994.6,302.4 993.5,304.5C992.7,306.1 990.7,301.5 989.3,300.3C987.4,298.7 985.1,295.9 982.7,295.3C978.3,294.3 972.0,294.1 967.7,295.3C965.9,295.8 966.0,299.8 964.3,300.3C962.4,301.0 959.7,298.7 957.7,298.7C955.1,298.7 951.7,299.3 949.3,300.3C947.5,301.1 946.3,304.5 944.3,304.5C941.1,304.5 937.4,301.3 934.3,300.3C930.4,299.1 925.1,297.5 921.0,297.0C917.0,296.5 911.5,295.7 907.7,297.0C905.0,297.9 903.0,301.7 901.0,303.7C899.0,305.7 897.0,309.5 894.3,310.3C890.0,311.7 883.6,308.9 879.3,310.3C877.0,311.1 876.4,315.6 874.3,317.0C871.2,319.0 865.9,319.3 862.7,321.2C860.5,322.4 857.8,324.7 856.8,327.0C856.1,328.9 858.0,331.7 857.7,333.7C857.3,335.9 854.6,338.1 854.3,340.3C854.1,342.9 854.9,346.4 856.0,348.7C857.2,351.0 861.6,352.7 861.8,355.3C862.2,358.6 855.1,363.3 857.7,365.3C861.6,368.5 869.5,366.5 874.3,365.3C877.8,364.5 881.1,360.3 884.3,358.7C886.2,357.7 889.0,356.7 891.0,357.0C892.4,357.2 894.3,358.9 894.3,360.3C894.3,362.6 890.4,364.8 891.0,367.0C891.7,369.4 895.5,370.7 897.7,372.0C899.6,373.2 904.3,373.1 904.3,375.3C904.3,378.2 899.5,379.9 897.7,382.0C895.5,384.4 892.3,387.4 891.0,390.3C889.7,393.1 890.8,397.7 889.3,400.3C887.6,403.4 883.4,406.1 881.0,408.7C879.4,410.3 878.3,414.9 876.0,414.5C873.3,414.1 873.0,408.8 871.0,407.0C869.4,405.5 866.6,403.9 864.3,403.7C862.3,403.4 859.1,403.9 857.7,405.3C856.2,406.8 857.3,410.4 856.0,412.0C854.1,414.2 850.2,415.6 847.7,417.0C844.7,418.6 838.7,425.2 837.7,422.0C834.3,411.9 837.7,397.1 837.7,386.4C837.7,375.8 837.7,361.6 837.7,350.9C837.7,340.2 836.7,326.0 837.7,315.3Z" fill="#bf3984" stroke="#bf3984" stroke-width="0.7"/>
<path d="M837.7,450.3C839.8,447.8 844.6,454.0 847.7,455.3C850.6,456.5 854.6,457.8 857.7,458.7C860.1,459.3 863.6,459.6 866.0,460.3C867.6,460.8 871.3,461.2 871.0,462.8C870.5,465.4 866.8,467.6 864.3,468.7C861.6,469.9 857.4,470.3 854.3,470.3C851.8,470.3 848.5,469.2 846.0,468.7C843.5,468.2 838.7,469.3 837.7,467.0C835.6,462.4 834.4,454.1 837.7,450.3Z" fill="#bf3984" stroke="#bf3984" stroke-width="0.7"/>
<path d="M837.7,477.0C839.1,474.5 843.9,479.9 846.0,482.0C847.6,483.6 849.3,486.4 849.3,488.7C849.3,490.5 847.5,492.7 846.0,493.7C843.8,495.1 838.8,498.5 837.7,496.2C835.1,491.0 834.8,482.0 837.7,477.0Z" fill="#bf3984" stroke="#bf3984" stroke-width="0.7"/>
<path d="M841.0,376.2C842.7,373.7 848.0,376.4 851.0,376.2C854.5,375.9 859.1,374.6 862.7,374.5C866.2,374.4 870.9,374.5 874.3,375.3C876.3,375.8 879.3,376.8 880.2,378.7C880.9,380.3 879.7,383.2 878.5,384.5C876.8,386.4 872.3,386.4 871.0,388.7C869.5,391.3 871.4,395.9 870.2,398.7C869.6,399.9 867.3,400.6 866.0,400.3C864.2,400.0 862.8,396.7 861.0,397.0C858.5,397.4 856.2,400.4 854.3,402.0C852.2,403.9 850.0,407.1 847.7,408.7C845.9,409.8 841.9,412.6 841.0,410.7C838.7,405.6 840.2,397.6 840.2,392.0C840.2,387.2 838.3,380.1 841.0,376.2Z" fill="#a11b9b" stroke="#a11b9b" stroke-width="0.7"/>
<path d="M564.0,385.3C566.4,382.8 572.5,384.7 575.7,386.2C577.5,387.0 579.0,390.0 579.0,392.0C579.0,394.2 577.7,397.8 575.7,398.7C572.5,400.1 566.3,401.3 564.0,398.7C561.4,395.7 561.3,388.3 564.0,385.3Z" fill="#ea7457" stroke="#ea7457" stroke-width="0.7"/>
<path d="M564.0,407.0C568.0,404.8 574.6,407.5 579.0,408.7C582.2,409.5 586.0,412.2 589.0,413.7C592.0,415.2 597.9,415.5 599.0,418.7C599.8,421.0 594.6,422.5 592.3,423.7C590.5,424.6 587.7,425.6 585.7,425.3C583.0,425.0 579.8,423.0 577.3,422.0C573.3,420.5 566.8,420.2 564.0,417.0C562.0,414.8 561.4,408.5 564.0,407.0Z" fill="#ea7457" stroke="#ea7457" stroke-width="0.7"/>
<path d="M564.0,322.0C565.2,319.1 571.8,323.0 574.0,325.3C576.1,327.6 576.3,332.3 576.5,335.3C576.8,338.8 576.6,343.6 575.7,347.0C575.3,348.4 573.7,350.1 572.3,350.3C569.8,350.7 564.7,351.1 564.0,348.7C561.7,341.0 560.8,329.4 564.0,322.0Z" fill="#ea7457" stroke="#ea7457" stroke-width="0.7"/>
<path d="M559.0,282.0C565.8,275.0 581.8,282.0 591.5,282.0C601.2,282.0 614.2,282.0 624.0,282.0C633.8,282.0 646.8,282.0 656.5,282.0C666.2,282.0 679.2,282.0 689.0,282.0C698.8,282.0 711.8,282.0 721.5,282.0C731.2,282.0 744.2,282.0 754.0,282.0C763.8,282.0 776.8,282.0 786.5,282.0C796.2,282.0 809.7,279.1 819.0,282.0C821.9,282.9 819.2,289.0 819.0,292.0C818.7,295.0 816.8,299.0 817.3,302.0C817.9,304.9 822.9,307.5 822.3,310.3C821.6,314.2 816.2,317.1 814.0,320.3C812.1,323.1 810.7,327.4 809.0,330.3C807.2,333.4 803.9,337.1 802.3,340.3C800.3,344.6 798.8,350.8 797.3,355.3C795.8,359.8 794.3,366.0 792.3,370.3C790.2,375.0 786.4,380.8 784.0,385.3C781.4,390.3 778.1,397.0 775.7,402.0C773.1,407.5 771.6,416.1 767.3,420.3C765.2,422.5 759.5,422.5 757.3,420.3C755.5,418.5 759.4,414.5 759.0,412.0C758.6,409.7 755.7,407.5 754.8,405.3C754.1,403.4 756.0,398.9 754.0,398.7C750.2,398.2 745.8,402.1 742.3,403.7C739.3,405.1 735.6,407.9 732.3,408.7C729.4,409.4 725.3,408.0 722.3,408.7C720.6,409.1 717.8,410.3 717.3,412.0C716.6,414.5 720.5,418.3 719.0,420.3C717.8,422.0 713.8,420.1 712.3,418.7C710.9,417.2 710.4,414.0 710.7,412.0C710.9,409.8 712.7,407.2 714.0,405.3C715.2,403.6 717.4,401.8 719.0,400.3C720.7,398.8 723.9,397.5 724.8,395.3C725.6,393.5 725.0,390.4 724.0,388.7C723.1,387.1 720.8,385.3 719.0,385.3C716.8,385.3 713.9,387.1 712.3,388.7C710.8,390.2 710.6,393.8 709.0,395.3C707.4,396.9 704.4,397.9 702.3,398.7C700.4,399.4 697.7,400.1 695.7,400.3C692.7,400.6 688.4,401.5 685.7,400.3C684.2,399.7 685.0,396.6 684.0,395.3C682.9,393.9 680.8,392.2 679.0,392.0C676.0,391.7 671.9,392.7 669.0,393.7C665.8,394.7 662.3,398.1 659.0,398.7C656.0,399.2 651.8,398.2 649.0,397.0C647.1,396.1 645.5,393.5 644.0,392.0C642.5,390.5 641.1,387.3 639.0,387.0C637.2,386.7 634.3,388.5 634.0,390.3C633.6,393.0 636.8,396.0 637.3,398.7C638.3,403.1 639.3,409.2 639.0,413.7C638.8,415.9 637.8,419.8 635.7,420.3C633.9,420.8 632.6,417.1 632.3,415.3C632.0,413.3 634.7,410.6 634.0,408.7C633.0,406.0 629.8,403.5 627.3,402.0C624.6,400.4 620.0,400.3 617.3,398.7C614.9,397.2 611.9,394.5 610.7,392.0C609.8,390.2 611.1,387.3 610.7,385.3C610.1,382.7 608.5,379.4 607.3,377.0C606.0,374.4 603.8,371.2 602.3,368.7C600.8,366.2 599.4,362.4 597.3,360.3C595.3,358.3 591.0,357.5 589.0,355.3C587.1,353.3 585.3,349.8 584.8,347.0C584.3,344.0 584.6,339.8 585.7,337.0C586.4,335.0 589.6,333.8 590.7,332.0C591.7,330.2 591.3,327.1 592.3,325.3C593.4,323.5 596.3,322.2 597.3,320.3C598.4,318.5 600.1,315.4 599.0,313.7C597.9,311.9 594.3,311.3 592.3,312.0C589.7,313.0 588.2,317.4 585.7,318.7C583.9,319.6 581.0,319.1 579.0,318.7C575.9,318.0 572.1,315.9 569.0,315.3C566.0,314.8 559.9,318.2 559.0,315.3C556.1,305.8 552.0,289.2 559.0,282.0Z" fill="#bf3984" stroke="#bf3984" stroke-width="0.7"/>
<path d="M767.3,420.3C771.6,416.1 773.1,407.5 775.7,402.0C778.1,397.0 781.4,390.3 784.0,385.3C786.4,380.8 790.2,375.0 792.3,370.3C794.3,366.0 795.8,359.8 797.3,355.3C798.8,350.8 800.3,344.6 802.3,340.3C803.9,337.1 807.2,333.4 809.0,330.3C810.7,327.4 811.1,322.0 814.0,320.3C815.7,319.3 817.0,324.5 819.0,324.5C822.7,324.5 827.2,321.7 830.7,320.3C834.2,318.9 838.8,316.7 842.3,315.3C845.3,314.2 849.4,313.1 852.3,312.0C855.4,310.9 859.1,308.3 862.3,307.8C863.2,307.7 864.3,309.5 864.0,310.3C863.1,312.7 860.6,315.1 859.0,317.0C857.1,319.1 854.1,321.4 852.3,323.7C850.5,326.0 849.1,329.7 847.3,332.0C845.6,334.2 841.8,336.1 840.7,338.7C840.0,340.1 841.3,342.5 842.3,343.7C843.9,345.6 847.4,346.8 849.0,348.7C850.5,350.4 853.2,353.3 852.3,355.3C851.6,357.2 847.6,357.6 845.7,357.0C842.2,356.0 839.1,351.4 835.7,350.3C833.7,349.7 830.5,350.5 829.0,352.0C826.6,354.4 825.1,358.8 824.0,362.0C823.1,364.4 821.3,368.0 822.3,370.3C823.2,372.4 826.8,373.1 829.0,373.7C832.9,374.6 838.3,375.1 842.3,375.3C846.3,375.6 851.7,375.6 855.7,375.3C859.2,375.1 863.9,374.5 867.3,373.7C870.4,373.0 876.5,367.3 877.3,370.3C880.5,381.4 879.9,397.5 877.3,408.7C876.8,411.2 871.5,407.5 869.0,407.0C866.0,406.5 861.9,404.5 859.0,405.3C856.3,406.1 854.3,410.0 852.3,412.0C849.8,414.5 846.8,418.1 844.0,420.3C841.7,422.2 838.0,423.6 835.7,425.3C834.0,426.6 830.7,428.2 830.7,430.3C830.7,432.8 833.9,435.2 835.7,437.0C837.4,438.8 840.7,440.1 842.3,442.0C843.8,443.7 844.1,447.1 845.7,448.7C847.2,450.2 850.4,450.8 852.3,452.0C854.5,453.3 856.7,456.0 859.0,457.0C861.3,458.0 865.2,457.3 867.3,458.7C868.6,459.5 869.8,462.3 869.0,463.7C867.8,465.6 864.5,466.6 862.3,467.0C859.4,467.6 855.3,466.8 852.3,467.0C849.3,467.3 845.2,467.8 842.3,468.7C840.2,469.3 835.7,469.8 835.7,472.0C835.7,474.8 840.3,476.7 842.3,478.7C843.8,480.2 846.3,481.8 847.3,483.7C848.4,485.5 849.8,488.4 849.0,490.3C848.0,492.6 844.0,493.4 842.3,495.3C840.9,497.0 841.1,501.3 839.0,502.0C836.9,502.7 834.2,499.9 832.3,498.7C829.7,496.9 826.6,493.9 824.0,492.0C822.6,490.9 820.6,489.6 819.0,488.7C817.1,487.6 813.9,486.9 812.3,485.3C810.8,483.8 811.1,479.4 809.0,478.7C806.9,478.0 804.0,480.5 802.3,482.0C800.4,483.6 798.3,486.3 797.3,488.7C796.2,491.5 796.5,495.7 795.7,498.7C795.0,501.3 792.8,504.4 792.3,507.0C791.8,510.0 792.8,514.0 792.3,517.0C791.8,520.1 789.2,523.8 789.0,527.0C788.7,531.5 795.0,540.6 790.7,542.0C776.9,546.4 756.5,544.9 742.3,542.0C739.4,541.4 741.5,534.9 742.3,532.0C743.1,529.6 746.0,527.5 747.3,525.3C748.5,523.4 750.9,520.9 750.7,518.7C750.3,515.8 747.4,512.7 745.7,510.3C744.8,509.2 742.7,508.4 742.3,507.0C741.6,504.6 742.6,501.2 742.3,498.7C742.1,495.6 741.2,491.7 740.7,488.7C740.2,485.7 739.7,481.6 739.0,478.7C738.2,475.6 737.2,471.4 735.7,468.7C734.6,466.8 732.8,463.7 730.7,463.7C728.5,463.7 727.4,467.4 725.7,468.7C723.3,470.4 719.3,471.5 717.3,473.7C715.7,475.5 716.1,479.9 714.0,481.2C712.6,482.0 710.2,479.8 709.0,478.7C707.2,477.0 704.6,474.4 704.0,472.0C703.5,470.0 704.7,467.2 705.7,465.3C706.8,463.1 710.1,461.1 710.7,458.7C711.2,456.7 710.2,453.7 709.0,452.0C707.5,450.0 703.2,449.3 702.3,447.0C701.4,444.6 702.9,440.9 704.0,438.7C705.4,435.8 708.4,432.6 710.7,430.3C712.9,428.1 716.5,425.6 719.0,423.7C721.0,422.1 723.2,418.7 725.7,418.7C727.8,418.7 730.2,421.6 730.7,423.7C731.3,426.1 729.7,429.6 729.0,432.0C728.2,434.6 727.2,438.1 725.7,440.3C724.1,442.7 720.7,444.7 719.0,447.0C717.7,448.8 715.9,451.4 715.7,453.7C715.4,456.2 716.0,459.8 717.3,462.0C718.7,464.1 721.5,467.0 724.0,467.0C726.1,467.0 727.9,463.8 729.0,462.0C730.4,459.7 731.2,456.1 732.3,453.7C733.2,451.6 734.3,448.8 735.7,447.0C737.4,444.7 740.8,442.7 742.3,440.3C743.8,438.1 744.4,434.4 745.7,432.0C746.9,429.8 748.9,427.1 750.7,425.3C752.4,423.6 754.9,421.1 757.3,420.3C760.2,419.5 765.2,422.5 767.3,420.3Z" fill="#bf3984" stroke="#bf3984" stroke-width="0.7"/>
<path d="M598.4,404.7C597.8,405.7 596.5,406.8 595.4,407.2C594.2,407.7 592.4,407.8 591.2,407.5C589.9,407.2 588.3,406.2 587.4,405.3C586.6,404.4 585.8,402.8 585.6,401.6C585.4,400.4 585.7,398.7 586.3,397.7C586.9,396.6 588.2,395.5 589.3,395.1C590.5,394.7 592.3,394.6 593.5,394.9C594.7,395.2 596.3,396.1 597.2,397.0C598.1,397.9 598.9,399.5 599.1,400.8C599.3,401.9 599.0,403.6 598.4,404.7Z" fill="#bf3984" stroke="#bf3984" stroke-width="0.7"/>
<path d="M621.3,414.2C621.3,414.9 620.9,415.9 620.5,416.5C620.0,417.1 619.0,417.7 618.2,418.0C617.4,418.2 616.2,418.2 615.4,418.0C614.7,417.7 613.7,417.1 613.2,416.5C612.7,415.9 612.3,414.9 612.3,414.2C612.3,413.4 612.7,412.4 613.2,411.8C613.7,411.2 614.7,410.6 615.4,410.4C616.2,410.1 617.4,410.1 618.2,410.4C619.0,410.6 620.0,411.2 620.5,411.8C620.9,412.4 621.3,413.4 621.3,414.2Z" fill="#bf3984" stroke="#bf3984" stroke-width="0.7"/>
<path d="M609.0,438.7C610.2,436.0 615.1,435.5 617.3,433.7C618.9,432.4 619.6,428.2 621.5,428.7C623.6,429.2 624.2,433.2 624.0,435.3C623.9,437.1 622.2,439.4 620.7,440.3C618.9,441.3 616.0,441.5 614.0,441.2C612.3,440.9 608.3,440.2 609.0,438.7Z" fill="#bf3984" stroke="#bf3984" stroke-width="0.7"/>
<path d="M670.7,422.0C671.6,418.9 674.8,415.6 677.3,413.7C679.0,412.4 682.4,410.7 684.0,412.0C686.0,413.6 684.0,418.4 685.7,420.3C687.0,421.8 691.6,419.3 692.3,421.2C693.2,423.5 689.9,426.4 689.0,428.7C687.9,431.6 686.4,435.6 685.7,438.7C684.9,441.6 684.3,445.6 684.0,448.7C683.8,451.7 685.1,455.9 684.0,458.7C682.9,461.5 680.3,466.2 677.3,466.2C674.6,466.2 673.4,461.2 672.3,458.7C671.1,455.8 670.1,451.8 669.8,448.7C669.5,444.7 670.5,439.3 670.7,435.3C670.8,431.3 669.5,425.8 670.7,422.0Z" fill="#bf3984" stroke="#bf3984" stroke-width="0.7"/>
<path d="M707.3,500.3C708.1,498.1 711.6,496.3 714.0,496.2C716.0,496.0 719.1,497.6 719.8,499.5C720.5,501.1 718.7,503.6 717.3,504.5C715.6,505.6 712.5,506.1 710.7,505.3C709.0,504.6 706.7,502.0 707.3,500.3Z" fill="#bf3984" stroke="#bf3984" stroke-width="0.7"/>
<path d="M661.5,305.3C663.1,303.7 666.8,306.3 669.0,307.0C671.6,307.8 675.1,308.8 677.3,310.3C678.8,311.4 680.7,313.5 680.7,315.3C680.7,317.3 679.2,320.5 677.3,321.2C675.3,321.8 672.4,319.9 670.7,318.7C668.3,317.1 665.6,314.3 664.0,312.0C662.8,310.2 660.0,306.8 661.5,305.3Z" fill="#d6556d" stroke="#d6556d" stroke-width="0.7"/>
<path d="M713.2,319.5C714.0,317.8 717.1,316.6 719.0,317.0C721.5,317.5 724.0,320.1 725.7,322.0C727.1,323.7 728.6,326.5 729.0,328.7C729.4,330.6 728.0,333.3 728.2,335.3C728.3,337.4 730.2,340.0 729.8,342.0C729.6,343.4 727.7,346.0 726.5,345.3C724.6,344.3 725.0,340.5 724.0,338.7C722.8,336.5 720.6,333.9 719.0,332.0C717.6,330.4 714.9,328.9 714.0,327.0C713.0,324.9 712.2,321.5 713.2,319.5Z" fill="#d6556d" stroke="#d6556d" stroke-width="0.7"/>
<path d="M675.7,332.0C676.8,330.4 678.7,328.0 680.7,327.8C682.5,327.7 685.3,329.4 685.7,331.2C686.0,332.9 683.7,335.0 682.3,336.2C681.1,337.3 679.0,338.7 677.3,338.7C676.3,338.7 675.1,337.2 674.8,336.2C674.5,334.9 674.9,333.0 675.7,332.0Z" fill="#d6556d" stroke="#d6556d" stroke-width="0.7"/>
<path d="M782.3,340.3C783.5,338.8 785.4,336.3 787.3,336.2C789.3,336.0 792.3,337.7 793.2,339.5C794.1,341.6 793.3,344.9 792.3,347.0C791.4,348.9 787.8,349.9 787.3,352.0C786.7,354.5 789.3,357.8 789.0,360.3C788.8,362.6 787.4,365.6 785.7,367.0C783.6,368.6 779.9,369.3 777.3,369.5C774.6,369.8 769.7,370.9 768.2,368.7C766.4,366.2 768.7,361.5 769.8,358.7C771.0,355.8 773.7,352.7 775.7,350.3C777.0,348.7 779.5,347.1 780.7,345.3C781.5,344.0 781.4,341.6 782.3,340.3Z" fill="#d6556d" stroke="#d6556d" stroke-width="0.7"/>
<path d="M715.7,360.3C716.8,359.2 719.2,358.0 720.7,358.7C722.2,359.3 723.4,362.0 723.2,363.7C722.8,366.4 720.5,369.6 719.0,372.0C717.7,374.1 715.9,377.0 714.0,378.7C712.3,380.1 709.4,381.2 707.3,382.0C704.9,382.9 701.6,384.5 699.0,384.5C697.3,384.5 694.0,383.7 694.0,382.0C694.0,380.2 697.4,379.6 699.0,378.7C700.9,377.6 704.0,376.8 705.7,375.3C707.6,373.7 709.3,370.7 710.7,368.7C712.3,366.2 713.6,362.4 715.7,360.3Z" fill="#d6556d" stroke="#d6556d" stroke-width="0.7"/>
<path d="M777.3,483.7C778.0,481.7 780.3,479.1 782.3,478.7C784.4,478.2 787.5,479.7 789.0,481.2C790.3,482.5 791.2,485.3 790.7,487.0C790.0,489.0 786.8,490.2 785.7,492.0C784.8,493.3 785.3,496.2 784.0,497.0C782.7,497.8 780.0,497.3 779.0,496.2C777.8,494.8 778.4,492.1 778.2,490.3C777.9,488.3 776.7,485.6 777.3,483.7Z" fill="#d6556d" stroke="#d6556d" stroke-width="0.7"/>
<path d="M604.8,345.3C605.7,343.7 608.9,343.1 610.7,343.7C612.5,344.3 613.5,347.2 614.8,348.7C616.0,350.0 617.3,353.2 619.0,352.8C621.0,352.4 622.3,349.0 622.3,347.0C622.3,344.8 618.6,342.5 619.0,340.3C619.3,338.8 622.5,339.2 624.0,338.7C626.5,337.7 630.2,336.9 632.3,335.3C634.8,333.6 636.4,329.3 639.0,327.8C641.7,326.4 646.0,326.4 649.0,326.2C653.0,325.9 659.4,323.5 662.3,326.2C664.3,328.0 658.9,331.5 657.3,333.7C655.9,335.7 652.3,337.8 652.3,340.3C652.3,342.1 656.0,342.5 657.3,343.7C658.8,345.0 661.9,346.8 661.5,348.7C661.1,350.6 657.4,351.1 655.7,352.0C653.7,353.1 651.0,354.3 649.0,355.3C647.0,356.3 644.4,357.9 642.3,358.7C640.4,359.4 637.5,359.3 635.7,360.3C633.8,361.4 631.9,363.6 630.7,365.3C629.7,366.7 629.5,369.4 628.2,370.3C625.8,372.0 621.9,373.4 619.0,373.7C616.5,373.9 612.7,373.5 610.7,372.0C608.8,370.7 608.3,367.3 607.3,365.3C606.1,362.8 603.5,359.8 603.2,357.0C602.7,353.5 603.1,348.4 604.8,345.3Z" fill="#a11b9b" stroke="#a11b9b" stroke-width="0.7"/>
<path d="M596.5,345.3C596.5,346.5 596.3,348.1 595.9,349.3C595.7,350.1 595.1,351.2 594.4,351.7C594.0,352.0 593.0,352.0 592.6,351.7C591.9,351.2 591.3,350.1 591.1,349.3C590.7,348.1 590.5,346.5 590.5,345.3C590.5,344.1 590.7,342.5 591.1,341.4C591.3,340.6 591.9,339.5 592.6,339.0C593.0,338.7 594.0,338.7 594.4,339.0C595.1,339.5 595.7,340.6 595.9,341.4C596.3,342.5 596.5,344.1 596.5,345.3Z" fill="#a11b9b" stroke="#a11b9b" stroke-width="0.7"/>
<path d="M577.7,301.2C577.7,302.4 577.4,304.0 576.9,305.1C576.5,305.9 575.7,307.1 574.9,307.5C574.3,307.9 573.1,307.9 572.4,307.5C571.6,307.1 570.8,305.9 570.4,305.1C570.0,304.0 569.7,302.4 569.7,301.2C569.7,300.0 570.0,298.3 570.4,297.2C570.8,296.4 571.6,295.3 572.4,294.8C573.1,294.5 574.3,294.5 574.9,294.8C575.7,295.3 576.5,296.4 576.9,297.2C577.4,298.3 577.7,300.0 577.7,301.2Z" fill="#a11b9b" stroke="#a11b9b" stroke-width="0.7"/>
<path d="M719.0,298.7C719.9,297.3 722.3,296.3 724.0,296.2C732.0,295.3 742.9,293.2 750.7,295.3C753.1,296.0 750.8,301.2 751.5,303.7C752.4,306.8 752.7,312.3 755.7,313.7C758.5,315.0 762.5,310.6 765.7,310.3C768.2,310.1 771.8,310.7 774.0,312.0C775.6,312.9 777.6,315.2 777.3,317.0C777.0,319.5 774.1,321.9 772.3,323.7C770.6,325.4 767.3,326.8 765.7,328.7C763.7,330.9 762.2,334.5 760.7,337.0C759.2,339.5 757.3,342.9 755.7,345.3C753.8,348.0 751.0,351.2 749.0,353.7C747.0,356.2 744.3,359.5 742.3,362.0C740.8,364.0 738.3,366.4 737.3,368.7C736.3,371.0 737.3,375.0 735.7,377.0C734.3,378.6 731.0,379.1 729.0,378.7C727.1,378.3 724.0,376.5 724.0,374.5C724.0,372.5 727.6,371.7 729.0,370.3C730.6,368.9 733.4,367.4 734.0,365.3C734.6,363.4 731.9,360.7 732.3,358.7C733.0,355.4 735.8,351.7 737.3,348.7C738.8,345.7 740.7,341.6 742.3,338.7C743.7,336.1 745.8,332.8 747.3,330.3C748.8,327.8 751.4,324.8 752.3,322.0C753.0,320.1 753.1,317.2 752.3,315.3C751.0,312.4 748.5,308.5 745.7,307.0C743.0,305.5 738.7,306.4 735.7,306.2C732.7,305.9 728.6,305.8 725.7,305.3C723.6,305.0 720.5,305.1 719.0,303.7C717.9,302.6 718.2,299.9 719.0,298.7Z" fill="#a11b9b" stroke="#a11b9b" stroke-width="0.7"/>
<path d="M660.7,357.8C661.3,355.8 665.2,355.5 667.3,355.3C669.1,355.2 672.0,355.6 673.2,357.0C674.4,358.6 672.7,362.1 674.0,363.7C675.4,365.3 678.7,365.3 680.7,366.2C682.7,367.1 686.0,367.7 687.3,369.5C688.0,370.4 686.8,372.7 685.7,372.8C683.1,373.1 679.7,371.5 677.3,370.3C675.1,369.2 672.6,366.9 670.7,365.3C669.1,364.1 667.2,362.3 665.7,361.2C664.2,360.1 660.2,359.6 660.7,357.8Z" fill="#a11b9b" stroke="#a11b9b" stroke-width="0.7"/>
<path d="M643.2,379.5C644.6,377.7 648.5,379.1 650.7,378.7C653.2,378.1 656.4,376.5 659.0,376.2C661.0,375.9 663.8,376.2 665.7,377.0C668.0,378.0 670.9,379.9 672.3,382.0C673.2,383.2 673.2,385.8 672.3,387.0C671.2,388.7 668.5,390.3 666.5,390.3C664.7,390.3 662.6,388.4 661.5,387.0C660.5,385.8 661.4,382.4 659.8,382.0C657.5,381.4 654.7,384.3 652.3,384.5C650.8,384.6 648.7,383.6 647.3,382.8C645.9,382.1 642.2,380.8 643.2,379.5Z" fill="#a11b9b" stroke="#a11b9b" stroke-width="0.7"/>
<path d="M707.8,367.3C707.8,368.0 707.5,368.8 707.0,369.3C706.6,369.8 705.7,370.3 705.0,370.5C704.2,370.7 703.1,370.7 702.4,370.5C701.7,370.3 700.8,369.8 700.3,369.3C699.9,368.8 699.5,368.0 699.5,367.3C699.5,366.7 699.9,365.8 700.3,365.4C700.8,364.8 701.7,364.3 702.4,364.2C703.1,364.0 704.2,364.0 705.0,364.2C705.7,364.3 706.6,364.8 707.0,365.4C707.5,365.8 707.8,366.7 707.8,367.3Z" fill="#a11b9b" stroke="#a11b9b" stroke-width="0.7"/>
<path d="M757.3,463.7C755.6,459.9 754.8,454.4 754.0,450.3C753.3,446.9 751.2,442.0 752.3,438.7C753.5,435.3 758.5,433.1 760.7,430.3C762.5,428.1 764.4,424.6 765.7,422.0C767.5,418.1 768.9,412.6 770.7,408.7C772.9,403.6 776.5,397.0 779.0,392.0C781.0,388.0 783.4,382.5 785.7,378.7C787.9,375.0 792.2,370.9 794.0,367.0C795.7,363.3 795.8,357.5 797.3,353.7C798.8,349.9 801.3,345.0 804.0,342.0C806.4,339.3 811.0,337.3 814.0,335.3C817.0,333.3 820.8,330.4 824.0,328.7C827.4,326.9 832.2,325.3 835.7,323.7C839.7,321.8 845.2,319.3 849.0,317.0C853.2,314.5 857.5,307.8 862.3,307.8C865.3,307.8 860.6,314.6 859.0,317.0C857.0,319.9 852.7,322.4 850.7,325.3C849.1,327.5 849.0,331.5 847.3,333.7C845.4,336.2 840.3,337.4 839.0,340.3C838.3,342.0 841.0,344.2 842.3,345.3C844.5,347.2 848.7,348.2 850.7,350.3C851.9,351.7 853.7,355.0 852.3,356.2C850.5,357.8 846.3,357.0 844.0,356.2C840.6,354.9 837.6,350.0 834.0,349.5C831.7,349.2 828.7,351.8 827.3,353.7C825.1,356.7 823.9,361.9 822.3,365.3C821.4,367.4 818.3,369.9 819.0,372.0C819.7,374.1 823.5,374.9 825.7,375.3C830.6,376.2 837.3,375.9 842.3,376.2C847.3,376.4 854.0,377.1 859.0,377.0C864.5,376.9 873.4,371.4 877.3,375.3C881.6,379.6 880.0,390.0 877.3,395.3C876.1,397.9 873.3,387.8 870.7,388.7C867.7,389.7 869.3,396.2 867.3,398.7C865.5,401.0 861.6,402.4 859.0,403.7C856.6,404.9 853.1,405.8 850.7,407.0C848.1,408.3 845.2,411.7 842.3,412.0C839.2,412.3 835.5,408.3 832.3,408.7C830.2,408.9 828.5,411.9 827.3,413.7C825.5,416.5 824.1,420.8 822.3,423.7C820.6,426.4 818.3,430.2 815.7,432.0C813.5,433.4 809.8,434.2 807.3,433.7C804.9,433.1 803.2,428.7 800.7,428.7C798.2,428.7 794.7,431.3 794.0,433.7C793.0,437.1 793.5,442.5 795.7,445.3C797.6,447.8 802.8,447.4 805.7,448.7C807.3,449.4 810.1,450.3 810.7,452.0C811.3,454.0 810.8,457.6 809.0,458.7C807.2,459.7 804.3,457.5 802.3,457.0C800.3,456.5 797.5,454.4 795.7,455.3C793.7,456.3 794.1,460.6 792.3,462.0C790.7,463.3 787.6,464.5 785.7,463.7C783.4,462.7 782.6,458.6 780.7,457.0C779.5,456.0 777.2,455.1 775.7,455.3C773.5,455.6 770.6,457.1 769.0,458.7C766.5,461.2 765.6,467.2 762.3,468.7C760.4,469.5 758.2,465.6 757.3,463.7Z" fill="#a11b9b" stroke="#a11b9b" stroke-width="0.7"/>
<path d="M681.5,444.0C681.1,445.5 680.2,447.6 679.3,448.9C678.7,449.9 677.5,451.2 676.4,451.6C675.6,451.9 674.3,451.5 673.8,450.9C673.0,450.0 672.6,448.3 672.6,447.1C672.4,445.5 672.7,443.3 673.1,441.7C673.6,440.1 674.4,438.1 675.3,436.7C676.0,435.7 677.2,434.5 678.3,434.1C679.1,433.8 680.4,434.1 680.9,434.8C681.7,435.7 682.0,437.3 682.1,438.5C682.2,440.2 681.9,442.4 681.5,444.0Z" fill="#a11b9b" stroke="#a11b9b" stroke-width="0.7"/>
<path d="M706.5,438.7C707.8,436.4 710.5,433.9 712.3,432.0C714.2,430.1 716.5,427.2 719.0,426.2C720.6,425.5 723.6,425.8 724.8,427.0C725.9,428.1 725.5,430.7 724.8,432.0C723.6,434.4 720.7,436.7 719.0,438.7C717.5,440.4 715.8,443.1 714.0,444.5C712.7,445.4 710.5,446.5 709.0,446.2C707.7,445.9 706.4,444.1 706.0,442.8C705.6,441.6 705.9,439.8 706.5,438.7Z" fill="#a11b9b" stroke="#a11b9b" stroke-width="0.7"/>
<path d="M627.3,394.6C627.1,395.3 626.6,396.1 626.1,396.6C625.6,397.0 624.9,397.5 624.3,397.5C623.8,397.6 623.1,397.3 622.8,397.0C622.3,396.5 622.1,395.7 622.0,395.1C621.9,394.4 622.1,393.4 622.3,392.8C622.6,392.1 623.1,391.2 623.6,390.7C624.0,390.3 624.8,389.9 625.4,389.8C625.9,389.8 626.6,390.0 626.9,390.4C627.3,390.8 627.6,391.6 627.7,392.2C627.7,392.9 627.6,393.9 627.3,394.6Z" fill="#a11b9b" stroke="#a11b9b" stroke-width="0.7"/>
<path d="M810.7,343.7C812.1,341.8 815.0,339.8 817.3,339.5C819.2,339.2 822.3,340.3 823.2,342.0C824.1,343.8 823.2,346.9 822.3,348.7C821.4,350.6 818.2,351.7 817.3,353.7C816.3,356.0 817.3,359.6 816.5,362.0C816.0,363.3 814.3,366.1 813.2,365.3C811.5,364.2 811.4,360.7 811.5,358.7C811.6,356.5 814.2,354.1 814.0,352.0C813.9,350.6 811.2,350.0 810.7,348.7C810.1,347.3 809.8,344.9 810.7,343.7Z" fill="#7e03a8" stroke="#7e03a8" stroke-width="0.7"/>
<path d="M796.5,370.3C797.6,368.7 800.4,368.1 802.3,367.8C804.8,367.5 808.3,367.8 810.7,368.7C812.0,369.1 814.3,370.6 814.0,372.0C813.6,374.1 810.8,375.9 809.0,377.0C807.2,378.0 804.4,379.0 802.3,378.7C800.5,378.4 798.4,376.8 797.3,375.3C796.5,374.1 795.7,371.6 796.5,370.3Z" fill="#7e03a8" stroke="#7e03a8" stroke-width="0.7"/>
<path d="M798.2,400.3C799.5,398.5 803.4,398.9 805.7,398.7C808.7,398.4 812.8,399.5 815.7,398.7C818.1,397.9 820.6,395.5 822.3,393.7C823.9,391.9 825.1,388.9 826.5,387.0C828.1,384.9 829.8,381.0 832.3,380.3C834.5,379.8 837.2,382.3 839.0,383.7C841.3,385.4 843.6,388.4 845.7,390.3C847.6,392.2 851.6,393.6 852.3,396.2C852.9,398.1 850.4,400.5 849.0,402.0C847.3,403.8 844.8,406.4 842.3,407.0C840.3,407.5 837.5,406.3 835.7,405.3C833.4,404.2 831.5,400.8 829.0,400.3C826.0,399.7 822.0,401.3 819.0,402.0C815.9,402.8 812.1,404.8 809.0,405.3C806.5,405.8 802.9,406.4 800.7,405.3C799.1,404.6 797.2,401.7 798.2,400.3Z" fill="#7e03a8" stroke="#7e03a8" stroke-width="0.7"/>
<path d="M842.2,397.3C842.2,397.7 842.0,398.1 841.7,398.3C841.4,398.6 840.9,398.8 840.6,398.9C840.1,399.0 839.5,399.0 839.1,398.9C838.7,398.8 838.2,398.6 837.9,398.3C837.7,398.1 837.5,397.7 837.5,397.3C837.5,397.0 837.7,396.6 837.9,396.4C838.2,396.1 838.7,395.8 839.1,395.7C839.5,395.7 840.1,395.7 840.6,395.7C840.9,395.8 841.4,396.1 841.7,396.4C842.0,396.6 842.2,397.0 842.2,397.3Z" fill="#5601a4" stroke="#5601a4" stroke-width="0.7"/>
<path d="M638.2,513.7C639.2,512.0 642.0,510.9 644.0,510.7C646.3,510.4 649.8,510.8 651.5,512.3C653.4,514.1 654.4,517.8 654.8,520.3C655.5,523.8 655.2,528.5 655.2,532.0C655.2,536.0 658.1,543.0 654.8,545.3C650.4,548.5 641.2,548.2 636.5,545.3C633.5,543.5 635.7,537.2 635.7,533.7C635.7,530.7 636.1,526.7 636.5,523.7C636.9,520.6 636.6,516.3 638.2,513.7Z" fill="#f89540" stroke="#f89540" stroke-width="0.7"/>
<path d="M611.5,492.0C612.6,490.2 615.3,488.5 617.3,487.8C619.7,487.0 623.5,486.1 625.7,487.3C626.9,488.0 625.9,491.1 624.8,492.0C623.0,493.5 619.7,494.0 617.3,494.5C616.1,494.8 614.3,495.0 613.2,494.5C612.3,494.1 611.0,492.8 611.5,492.0Z" fill="#f89540" stroke="#f89540" stroke-width="0.7"/>
<path d="M593.3,511.7C593.3,512.9 593.2,514.6 593.1,515.8C593.0,516.6 592.8,517.6 592.4,518.3C592.3,518.5 591.7,518.5 591.6,518.3C591.2,517.6 591.0,516.6 590.9,515.8C590.8,514.6 590.7,512.9 590.7,511.7C590.7,510.4 590.8,508.8 590.9,507.6C591.0,506.8 591.2,505.7 591.6,505.0C591.7,504.8 592.3,504.8 592.4,505.0C592.8,505.7 593.0,506.8 593.1,507.6C593.2,508.8 593.3,510.4 593.3,511.7Z" fill="#f89540" stroke="#f89540" stroke-width="0.7"/>
<path d="M436.5,760.0C440.4,759.1 445.2,756.4 449.0,755.0C453.5,753.4 459.4,751.2 464.0,750.0C468.4,748.9 474.4,747.5 479.0,747.5C482.8,747.5 487.7,750.4 491.5,750.0C494.8,749.6 498.5,746.5 501.5,745.0C503.0,744.2 504.8,742.5 506.5,742.5C509.6,742.5 513.4,745.0 516.5,745.0C521.1,745.0 527.1,741.2 531.5,742.5C533.7,743.2 532.1,747.8 532.8,750.0C533.6,753.1 534.3,757.7 536.5,760.0C540.2,763.9 546.3,768.6 551.5,770.0C555.2,771.0 560.2,768.2 564.0,767.5C567.8,766.8 573.1,763.3 576.5,765.0C578.6,766.1 575.7,770.8 574.0,772.5C571.6,774.9 567.0,776.0 564.0,777.5C561.0,779.0 557.3,781.8 554.0,782.5C550.3,783.3 545.1,781.6 541.5,782.5C538.9,783.2 534.9,784.9 534.0,787.5C532.0,793.6 534.8,802.7 532.8,808.8C532.1,810.6 527.7,808.5 526.5,810.0C524.6,812.4 525.0,817.1 524.0,820.0C522.7,823.8 521.2,829.1 519.0,832.5C516.6,836.0 512.6,840.3 509.0,842.5C504.9,844.9 498.5,845.9 494.0,847.5C490.2,848.9 484.8,850.2 481.5,852.5C479.3,854.1 475.3,857.6 476.5,860.0C477.9,862.8 483.5,861.9 486.5,862.5C491.0,863.4 497.1,863.7 501.5,865.0C504.7,866.0 508.9,867.9 511.5,870.0C513.6,871.7 516.5,874.8 516.5,877.5C516.5,880.2 513.8,883.7 511.5,885.0C508.2,886.9 502.8,887.9 499.0,887.5C495.7,887.1 492.2,883.5 489.0,882.5C486.1,881.6 481.1,879.1 479.0,881.2C476.6,883.6 478.6,889.1 479.0,892.5C479.4,895.6 482.0,899.4 481.5,902.5C481.2,904.6 478.3,908.6 476.5,907.5C473.7,905.9 473.8,900.5 472.8,897.5C471.5,893.8 471.6,887.9 469.0,885.0C466.9,882.7 462.0,883.2 459.0,882.5C456.0,881.8 452.1,879.6 449.0,880.0C445.7,880.4 441.7,883.1 439.0,885.0C436.4,886.8 434.6,891.9 431.5,892.5C429.4,892.9 426.9,889.6 426.5,887.5C426.0,885.2 427.7,882.0 429.0,880.0C430.8,877.4 437.1,875.6 436.5,872.5C435.8,869.2 429.4,869.1 426.5,867.5C422.7,865.4 417.2,863.0 414.0,860.0C411.4,857.6 408.1,853.5 407.8,850.0C407.3,846.1 410.2,841.2 411.5,837.5C412.8,833.7 415.2,828.8 416.5,825.0C417.5,822.1 419.4,818.1 419.0,815.0C418.6,812.3 414.9,810.0 414.0,807.5C412.7,803.9 411.1,798.8 411.5,795.0C411.9,791.7 414.6,787.7 416.5,785.0C418.3,782.4 423.1,780.6 424.0,777.5C424.8,774.5 421.1,770.6 421.5,767.5C421.9,764.8 424.1,761.2 426.5,760.0C429.2,758.7 433.6,760.7 436.5,760.0Z" fill="#ea7457" stroke="#ea7457" stroke-width="0.7"/>
<path d="M357.3,558.7C359.8,556.8 364.2,556.3 367.3,556.2C369.9,556.1 373.6,556.4 375.7,557.8C377.2,558.9 378.1,561.8 378.2,563.7C378.3,566.2 376.4,569.5 376.5,572.0C376.6,574.1 379.0,576.5 379.0,578.7C379.0,582.2 377.0,586.8 376.5,590.3C376.0,593.8 375.7,598.5 375.7,602.0C375.7,606.0 375.9,611.4 376.5,615.3C376.9,618.4 377.9,622.4 379.0,625.3C380.2,628.5 382.3,632.5 384.0,635.3C385.3,637.5 388.6,639.5 389.0,642.0C389.3,643.8 386.8,645.6 385.7,647.0C383.8,649.1 381.1,651.8 379.0,653.7C377.1,655.3 374.1,656.9 372.3,658.7C370.6,660.4 369.1,663.6 367.3,665.3C365.6,667.1 362.9,669.1 360.7,670.3C358.3,671.6 355.0,673.2 352.3,673.7C349.4,674.2 345.3,673.7 342.3,673.7C339.3,673.7 335.3,674.2 332.3,673.7C329.7,673.2 326.2,671.9 324.0,670.3C322.0,668.8 320.2,665.9 319.0,663.7C317.7,661.3 316.9,657.7 315.7,655.3C314.6,653.2 312.4,650.9 311.5,648.7C310.4,645.8 309.6,641.7 309.0,638.7C308.4,635.7 307.8,631.7 307.3,628.7C306.8,625.2 305.3,620.5 305.7,617.0C305.9,614.8 307.0,611.2 309.0,610.3C311.8,609.1 316.0,611.4 319.0,611.2C321.6,610.9 325.8,610.8 327.3,608.7C329.4,605.8 328.1,600.4 329.0,597.0C329.6,594.8 330.6,591.8 332.3,590.3C334.4,588.6 338.5,588.6 340.7,587.0C342.1,586.0 342.6,583.1 344.0,582.0C345.2,581.0 348.1,581.6 349.0,580.3C350.6,578.2 350.4,574.4 351.5,572.0C352.5,569.8 354.7,567.5 355.7,565.3C356.5,563.4 355.7,559.9 357.3,558.7Z" fill="#bf3984" stroke="#bf3984" stroke-width="0.7"/>
<path d="M289.0,643.7C289.6,641.1 293.1,638.5 295.7,637.8C297.7,637.3 301.7,638.3 302.3,640.3C303.1,642.9 299.8,646.1 299.0,648.7C298.3,651.1 298.1,654.6 297.3,657.0C296.6,659.6 295.0,662.8 294.0,665.3C293.0,667.8 292.0,671.3 290.7,673.7C290.0,674.9 288.7,677.4 287.3,677.0C285.8,676.5 285.3,673.5 285.7,672.0C286.4,668.7 289.6,665.2 290.7,662.0C291.6,659.1 292.6,655.0 292.3,652.0C292.1,649.3 288.4,646.3 289.0,643.7Z" fill="#bf3984" stroke="#bf3984" stroke-width="0.7"/>
<path d="M283.6,649.5C283.1,650.2 282.3,651.1 281.6,651.6C281.0,651.9 280.0,652.3 279.3,652.2C278.7,652.1 277.9,651.7 277.6,651.2C277.1,650.6 276.9,649.6 277.0,648.9C277.0,648.0 277.4,646.9 277.8,646.2C278.2,645.4 279.0,644.6 279.7,644.1C280.3,643.7 281.3,643.4 282.0,643.5C282.6,643.5 283.4,644.0 283.8,644.5C284.2,645.1 284.4,646.1 284.4,646.8C284.3,647.7 284.0,648.8 283.6,649.5Z" fill="#bf3984" stroke="#bf3984" stroke-width="0.7"/>
<path d="M305.7,683.7C306.9,682.1 308.7,679.5 310.7,679.5C312.6,679.5 315.1,681.8 315.7,683.7C316.3,685.6 312.9,688.6 314.0,690.3C315.1,692.1 318.7,692.6 320.7,692.0C322.7,691.4 323.9,688.2 325.7,687.0C327.5,685.7 330.1,683.9 332.3,683.7C334.4,683.4 338.2,683.4 339.0,685.3C339.8,687.4 337.1,690.3 335.7,692.0C334.0,693.9 330.9,695.4 329.0,697.0C326.9,698.9 324.5,701.8 322.3,703.7C320.5,705.3 317.5,707.0 315.7,708.7C313.5,710.5 311.3,713.7 309.0,715.3C306.3,717.3 302.1,719.0 299.0,720.3C296.1,721.5 292.2,723.7 289.0,723.7C287.2,723.7 283.3,722.0 284.0,720.3C285.1,717.6 290.0,717.1 292.3,715.3C294.0,714.1 297.3,712.5 297.3,710.3C297.3,708.2 293.9,706.8 292.3,705.3C291.1,704.3 287.9,703.6 288.2,702.0C288.6,699.7 292.2,698.4 294.0,697.0C296.0,695.4 299.0,693.9 300.7,692.0C302.6,689.8 303.8,685.9 305.7,683.7Z" fill="#bf3984" stroke="#bf3984" stroke-width="0.7"/>
<path d="M370.7,692.0C371.5,690.8 372.8,689.4 374.0,688.7C376.3,687.3 379.8,686.3 382.3,685.3C384.8,684.3 388.1,682.8 390.7,682.0C393.1,681.3 396.6,681.2 399.0,680.3C402.2,679.2 406.5,677.5 409.0,675.3C410.7,673.9 410.1,669.0 412.3,668.7C414.8,668.3 418.0,671.4 419.0,673.7C419.8,675.6 418.4,678.5 417.3,680.3C416.3,682.2 413.4,683.5 412.3,685.3C411.3,687.1 410.1,690.0 410.7,692.0C411.2,694.0 413.6,696.4 415.7,697.0C417.6,697.6 420.3,695.7 422.3,695.3C425.8,694.7 430.6,694.6 434.0,693.7C437.7,692.6 441.9,689.2 445.7,688.7C449.2,688.2 453.8,689.8 457.3,690.3C460.8,690.8 465.5,692.6 469.0,692.0C471.9,691.5 474.5,687.8 477.3,687.0C479.7,686.3 483.2,686.6 485.7,687.0C488.8,687.6 493.1,688.4 495.7,690.3C497.5,691.7 497.3,695.5 499.0,697.0C501.5,699.2 505.7,702.3 509.0,702.0C512.2,701.7 514.2,695.7 517.3,695.3C519.8,695.1 523.0,698.0 524.0,700.3C524.8,702.2 521.3,705.2 522.3,707.0C523.4,708.8 527.2,707.6 529.0,708.7C530.7,709.7 533.0,711.7 533.3,713.7C533.6,715.7 532.7,719.6 530.7,720.0C525.9,720.9 519.5,716.7 514.7,717.3C512.4,717.6 509.3,720.4 509.3,722.7C509.3,724.9 514.7,725.7 514.7,728.0C514.7,730.3 511.6,733.0 509.3,733.3C506.1,733.9 501.8,729.6 498.7,730.7C495.9,731.6 495.5,736.8 493.3,738.7C489.8,741.7 484.6,746.2 480.0,746.7C475.7,747.1 470.5,743.4 466.7,741.3C464.4,740.1 462.1,734.5 460.0,736.0C456.0,738.8 455.8,746.5 453.3,750.7C451.9,753.1 449.7,756.4 447.3,757.8C444.7,759.4 440.0,758.7 437.3,760.3C435.0,761.8 432.0,764.8 431.5,767.5C431.0,770.6 435.2,774.5 434.3,777.5C433.4,780.6 428.4,782.4 426.5,785.0C424.5,787.7 422.6,791.8 421.5,795.0C420.8,797.0 422.7,801.5 420.7,802.0C411.5,804.0 398.9,802.0 389.6,802.0C380.2,802.0 367.8,802.0 358.4,802.0C349.1,802.0 336.2,804.9 327.3,802.0C324.5,801.1 327.0,795.0 327.3,792.0C327.5,789.9 328.1,787.2 329.0,785.3C330.1,783.1 332.5,780.7 334.0,778.7C335.5,776.7 337.1,773.6 339.0,772.0C340.7,770.5 344.0,770.1 345.7,768.7C347.6,767.0 350.7,764.5 350.7,762.0C350.7,759.9 347.0,758.6 345.7,757.0C344.0,755.1 341.0,752.8 340.7,750.3C340.4,748.1 343.7,745.9 344.0,743.7C344.2,742.1 343.5,739.8 342.3,738.7C340.8,737.1 336.4,737.5 335.7,735.3C335.0,733.2 338.7,730.9 339.0,728.7C339.2,727.1 338.7,724.4 337.3,723.7C335.1,722.5 331.1,725.1 329.0,723.7C327.8,722.9 331.2,721.2 332.3,720.3C334.3,718.7 336.9,716.6 339.0,715.3C341.9,713.6 346.0,711.8 349.0,710.3C352.0,708.8 356.2,707.1 359.0,705.3C361.7,703.6 365.2,701.1 367.3,698.7C368.8,697.0 369.4,693.9 370.7,692.0Z" fill="#bf3984" stroke="#bf3984" stroke-width="0.7"/>
<path d="M393.2,700.3C393.9,698.6 397.1,697.7 399.0,697.8C401.2,698.0 403.9,699.8 405.7,701.2C407.5,702.6 409.9,704.8 410.7,707.0C411.1,708.3 410.2,710.7 409.0,711.2C407.1,711.9 404.2,711.0 402.3,710.3C400.1,709.5 397.3,707.9 395.7,706.2C394.4,704.8 392.5,702.1 393.2,700.3Z" fill="#d6556d" stroke="#d6556d" stroke-width="0.7"/>
<path d="M423.2,707.8C423.9,706.1 427.1,705.2 429.0,705.3C431.0,705.5 433.7,707.0 434.8,708.7C436.2,710.8 437.4,714.6 436.5,717.0C436.0,718.4 433.0,718.3 431.5,717.8C429.4,717.2 427.0,715.3 425.7,713.7C424.4,712.2 422.5,709.6 423.2,707.8Z" fill="#d6556d" stroke="#d6556d" stroke-width="0.7"/>
<path d="M459.0,737.0C459.4,735.3 462.2,733.4 464.0,733.7C466.1,734.0 468.1,736.8 469.0,738.7C470.1,740.9 471.4,744.5 470.7,747.0C470.2,748.7 467.4,750.9 465.7,750.3C463.5,749.5 462.6,745.8 461.5,743.7C460.5,741.8 458.5,739.1 459.0,737.0Z" fill="#d6556d" stroke="#d6556d" stroke-width="0.7"/>
<path d="M495.7,733.7C496.3,731.4 500.0,729.8 502.3,729.5C504.9,729.2 508.7,730.2 510.7,732.0C512.2,733.4 513.1,736.7 512.3,738.7C511.3,741.3 508.4,744.6 505.7,745.3C503.5,745.9 500.5,743.7 499.0,742.0C497.2,740.0 495.0,736.3 495.7,733.7Z" fill="#d6556d" stroke="#d6556d" stroke-width="0.7"/>
<path d="M400.7,617.0C402.1,615.9 404.5,618.9 405.7,620.3C407.1,622.1 407.9,625.0 409.0,627.0C410.4,629.5 413.4,632.5 414.0,635.3C414.5,637.8 410.9,641.5 412.3,643.7C413.7,645.8 419.1,643.3 420.7,645.3C422.0,646.9 420.2,650.4 419.0,652.0C417.1,654.6 413.2,656.7 410.7,658.7C408.2,660.7 404.9,663.5 402.3,665.3C399.4,667.5 395.3,670.0 392.3,672.0C389.3,674.0 385.3,676.7 382.3,678.7C379.3,680.7 374.9,682.8 372.3,685.3C370.3,687.4 369.2,691.4 367.3,693.7C365.1,696.4 361.9,699.9 359.0,702.0C356.3,704.0 352.2,706.0 349.0,707.0C347.1,707.6 343.2,708.8 342.3,707.0C341.3,705.0 344.6,702.3 345.7,700.3C347.1,697.8 350.2,694.9 350.7,692.0C351.0,689.9 347.9,687.5 348.2,685.3C348.5,682.6 350.5,679.1 352.3,677.0C354.4,674.5 358.2,672.3 360.7,670.3C363.2,668.3 366.6,665.8 369.0,663.7C371.1,661.8 373.7,659.0 375.7,657.0C378.2,654.5 381.2,650.9 384.0,648.7C386.3,646.8 390.0,645.4 392.3,643.7C394.0,642.4 396.0,640.3 397.3,638.7C399.0,636.8 401.7,634.4 402.3,632.0C403.0,629.6 401.8,626.2 401.5,623.7C401.3,621.7 399.1,618.3 400.7,617.0Z" fill="#ea7457" stroke="#ea7457" stroke-width="0.7"/>
<path d="M377.3,657.0C379.1,655.2 381.9,653.4 384.0,652.0C386.7,650.2 390.0,647.1 393.2,646.2C394.2,645.9 396.0,647.7 395.7,648.7C394.5,651.7 391.3,654.7 389.0,657.0C386.7,659.3 383.2,661.7 380.7,663.7C378.2,665.7 374.9,668.4 372.3,670.3C370.4,671.9 367.7,673.8 365.7,675.3C363.7,676.8 361.4,679.5 359.0,680.3C358.2,680.6 357.7,678.5 358.2,677.8C359.9,675.2 363.4,672.6 365.7,670.3C367.7,668.3 370.5,665.8 372.3,663.7C374.0,661.8 375.6,658.8 377.3,657.0Z" fill="#f89540" stroke="#f89540" stroke-width="0.7"/>
<path d="M452.3,670.3C453.8,667.3 459.5,667.1 462.3,665.3C465.0,663.6 467.8,660.1 470.7,658.7C472.0,658.0 475.3,657.2 475.7,658.7C476.2,660.8 473.6,663.5 472.3,665.3C470.6,668.0 465.0,670.5 465.7,673.7C466.2,676.1 471.5,673.4 474.0,673.7C476.5,673.9 479.8,675.9 482.3,675.3C484.8,674.8 486.7,671.3 489.0,670.3C491.8,669.2 496.0,668.7 499.0,668.7C500.6,668.7 504.4,668.8 504.0,670.3C503.4,672.8 499.2,673.7 497.3,675.3C495.7,676.7 491.9,678.3 492.3,680.3C492.8,682.5 497.9,681.7 499.0,683.7C499.6,684.8 496.9,686.3 495.7,686.2C492.4,685.8 488.8,682.9 485.7,682.0C482.7,681.1 478.7,680.0 475.7,680.3C473.4,680.6 471.2,683.9 469.0,683.7C466.5,683.4 464.4,680.1 462.3,678.7C460.9,677.6 458.7,676.5 457.3,675.3C455.7,674.0 451.4,672.2 452.3,670.3Z" fill="#ea7457" stroke="#ea7457" stroke-width="0.7"/>
<path d="M429.2,572.8C429.2,573.3 428.7,573.9 428.3,574.2C427.8,574.6 426.9,574.9 426.2,575.1C425.4,575.2 424.3,575.2 423.5,575.1C422.8,574.9 421.9,574.6 421.3,574.2C420.9,573.9 420.5,573.3 420.5,572.8C420.5,572.4 420.9,571.7 421.3,571.5C421.9,571.0 422.8,570.7 423.5,570.6C424.3,570.5 425.4,570.5 426.2,570.6C426.9,570.7 427.8,571.0 428.3,571.5C428.7,571.7 429.2,572.4 429.2,572.8Z" fill="#ea7457" stroke="#ea7457" stroke-width="0.7"/>
<path d="M425.7,582.3C425.7,582.8 425.1,583.4 424.7,583.6C424.0,584.0 423.0,584.3 422.2,584.4C421.3,584.5 420.0,584.5 419.1,584.4C418.3,584.3 417.3,584.0 416.6,583.6C416.2,583.4 415.7,582.8 415.7,582.3C415.7,581.9 416.2,581.3 416.6,581.1C417.3,580.7 418.3,580.4 419.1,580.3C420.0,580.1 421.3,580.1 422.2,580.3C423.0,580.4 424.0,580.7 424.7,581.1C425.1,581.3 425.7,581.9 425.7,582.3Z" fill="#ea7457" stroke="#ea7457" stroke-width="0.7"/>
<path d="M342.3,610.3C342.3,610.9 341.7,611.4 341.2,611.7C340.4,612.1 339.2,612.4 338.3,612.6C337.2,612.7 335.8,612.7 334.7,612.6C333.8,612.4 332.6,612.1 331.8,611.7C331.3,611.4 330.7,610.9 330.7,610.3C330.7,609.8 331.3,609.2 331.8,609.0C332.6,608.5 333.8,608.2 334.7,608.1C335.8,608.0 337.2,608.0 338.3,608.1C339.2,608.2 340.4,608.5 341.2,609.0C341.7,609.2 342.3,609.8 342.3,610.3Z" fill="#ea7457" stroke="#ea7457" stroke-width="0.7"/>
<path d="M483.5,661.2C483.5,661.7 483.4,662.4 483.1,662.9C482.9,663.3 482.5,663.8 482.1,664.0C481.8,664.2 481.2,664.2 480.9,664.0C480.5,663.8 480.1,663.3 479.9,662.9C479.6,662.4 479.5,661.7 479.5,661.2C479.5,660.6 479.6,659.9 479.9,659.4C480.1,659.0 480.5,658.5 480.9,658.3C481.2,658.2 481.8,658.2 482.1,658.3C482.5,658.5 482.9,659.0 483.1,659.4C483.4,659.9 483.5,660.6 483.5,661.2Z" fill="#ea7457" stroke="#ea7457" stroke-width="0.7"/>
<path d="M319.0,735.3C320.4,732.5 323.1,729.0 325.7,727.0C327.8,725.3 331.3,724.0 334.0,723.7C335.6,723.5 338.7,723.8 339.0,725.3C339.4,728.0 336.9,731.3 335.7,733.7C334.4,736.3 332.3,739.6 330.7,742.0C329.3,744.1 327.6,747.1 325.7,748.7C324.5,749.7 322.0,751.1 320.7,750.3C318.7,749.2 317.6,745.9 317.3,743.7C317.1,741.1 317.9,737.6 319.0,735.3Z" fill="#a11b9b" stroke="#a11b9b" stroke-width="0.7"/>
<path d="M319.8,738.7C320.7,735.9 322.7,732.3 324.8,730.3C325.8,729.5 328.5,729.2 329.0,730.3C329.9,732.7 329.0,736.3 328.2,738.7C327.4,740.9 325.9,743.9 324.0,745.3C323.2,746.0 321.2,745.4 320.7,744.5C319.7,743.0 319.3,740.4 319.8,738.7Z" fill="#7e03a8" stroke="#7e03a8" stroke-width="0.7"/>
<path d="M262.3,730.3C263.3,728.5 267.0,728.1 269.0,728.7C271.0,729.2 273.5,731.6 274.0,733.7C274.6,736.1 270.8,740.0 272.3,742.0C273.6,743.6 277.0,740.8 279.0,740.3C281.0,739.8 283.7,739.3 285.7,738.7C288.7,737.8 292.6,734.6 295.7,735.3C297.8,735.9 298.1,740.0 299.0,742.0C300.1,744.5 301.6,747.8 302.3,750.3C303.1,752.8 304.3,756.1 304.0,758.7C303.8,760.9 301.9,763.4 300.7,765.3C299.3,767.5 297.3,770.1 295.7,772.0C293.8,774.1 290.9,776.6 289.0,778.7C286.9,781.1 284.3,784.4 282.3,787.0C281.3,788.4 280.8,791.7 279.0,792.0C270.6,793.3 258.4,795.6 250.7,792.0C247.4,790.5 255.3,785.0 257.3,782.0C258.8,780.0 261.8,777.8 262.3,775.3C262.9,772.4 261.0,768.4 260.7,765.3C260.3,761.8 259.6,757.2 259.8,753.7C260.1,750.1 262.0,745.6 262.3,742.0C262.7,738.5 260.8,733.5 262.3,730.3Z" fill="#bf3984" stroke="#bf3984" stroke-width="0.7"/>
<path d="M292.3,757.0C294.2,756.1 297.4,757.4 299.0,758.7C300.2,759.7 301.3,762.2 300.7,763.7C299.6,766.3 296.0,768.3 294.0,770.3C292.0,772.3 289.3,775.0 287.3,777.0C284.8,779.5 281.3,782.7 279.0,785.3C277.3,787.2 276.2,790.8 274.0,792.0C272.3,793.0 267.7,794.0 267.3,792.0C266.8,788.7 270.5,784.8 272.3,782.0C274.1,779.3 277.0,776.2 279.0,773.7C281.0,771.2 283.7,767.8 285.7,765.3C287.7,762.8 289.5,758.4 292.3,757.0Z" fill="#a11b9b" stroke="#a11b9b" stroke-width="0.7"/>
<path d="M342.2,757.0C342.2,757.7 341.9,758.6 341.5,759.2C341.1,759.7 340.3,760.3 339.6,760.5C339.0,760.7 338.0,760.7 337.4,760.5C336.7,760.3 335.9,759.7 335.5,759.2C335.1,758.6 334.8,757.7 334.8,757.0C334.8,756.3 335.1,755.4 335.5,754.8C335.9,754.3 336.7,753.7 337.4,753.5C338.0,753.3 339.0,753.3 339.6,753.5C340.3,753.7 341.1,754.3 341.5,754.8C341.9,755.4 342.2,756.3 342.2,757.0Z" fill="#ea7457" stroke="#ea7457" stroke-width="0.7"/>
<path d="M295.7,782.0C297.1,778.2 300.0,773.6 302.3,770.3C304.0,768.0 306.7,765.4 309.0,763.7C310.8,762.3 313.4,760.1 315.7,760.3C318.1,760.6 321.0,763.2 322.3,765.3C323.4,767.0 323.7,770.0 323.2,772.0C322.6,774.3 320.6,776.9 319.0,778.7C317.3,780.5 313.8,781.7 312.3,783.7C310.7,785.8 311.5,790.9 309.0,792.0C304.9,793.9 297.6,794.7 294.0,792.0C291.6,790.2 294.6,784.8 295.7,782.0Z" fill="#ea7457" stroke="#ea7457" stroke-width="0.7"/>
<path d="M465.7,547.0C466.8,544.7 471.5,545.1 474.0,545.3C477.1,545.6 481.4,546.9 484.0,548.7C485.4,549.6 487.5,552.3 486.5,553.7C485.1,555.5 481.3,555.6 479.0,555.3C476.3,555.1 472.9,553.4 470.7,552.0C468.9,550.9 464.7,548.9 465.7,547.0Z" fill="#bf3984" stroke="#bf3984" stroke-width="0.7"/>
<path d="M483.6,552.7C483.4,553.0 482.9,553.3 482.5,553.4C482.0,553.5 481.3,553.4 480.9,553.3C480.3,553.1 479.7,552.7 479.2,552.4C478.9,552.0 478.5,551.4 478.3,551.0C478.2,550.6 478.2,550.0 478.4,549.7C478.6,549.3 479.1,549.0 479.5,548.9C480.0,548.8 480.7,548.9 481.1,549.1C481.7,549.2 482.3,549.6 482.8,550.0C483.1,550.3 483.5,550.9 483.7,551.4C483.8,551.7 483.8,552.3 483.6,552.7Z" fill="#a11b9b" stroke="#a11b9b" stroke-width="0.7"/>
<path d="M514.0,563.7C514.3,562.1 517.5,561.4 519.0,562.0C521.6,563.1 524.2,566.3 525.7,568.7C526.8,570.4 528.3,573.5 527.3,575.3C526.3,577.2 522.8,578.2 520.7,577.8C518.9,577.6 517.3,575.3 516.5,573.7C515.2,570.9 513.4,566.7 514.0,563.7Z" fill="#bf3984" stroke="#bf3984" stroke-width="0.7"/>
<path d="M760.6,622.5C761.7,624.0 762.5,626.5 762.5,628.3C762.6,630.6 761.8,633.5 760.8,635.6C759.7,637.9 757.6,640.8 755.8,642.7C753.9,644.7 750.9,647.1 748.5,648.4C746.2,649.7 742.9,651.0 740.3,651.5C738.2,652.0 735.1,652.0 732.9,651.4C731.2,651.0 728.9,649.6 727.7,648.2C726.6,646.7 725.8,644.2 725.8,642.3C725.8,640.1 726.6,637.1 727.5,635.1C728.6,632.7 730.7,629.8 732.5,627.9C734.4,625.9 737.4,623.6 739.8,622.2C742.1,620.9 745.4,619.6 748.0,619.1C750.2,618.7 753.2,618.6 755.4,619.2C757.2,619.7 759.4,621.1 760.6,622.5Z" fill="#d6556d" stroke="#d6556d" stroke-width="0.7"/>
<path d="M744.5,635.3C744.8,635.5 744.8,636.0 744.8,636.4C744.7,636.8 744.4,637.3 744.2,637.7C743.8,638.1 743.3,638.5 742.9,638.7C742.5,639.0 741.9,639.1 741.5,639.1C741.1,639.1 740.7,639.0 740.5,638.7C740.2,638.5 740.2,638.0 740.2,637.6C740.3,637.2 740.6,636.7 740.8,636.3C741.2,635.9 741.7,635.5 742.1,635.3C742.5,635.0 743.1,634.9 743.5,634.9C743.9,634.9 744.3,635.0 744.5,635.3Z" fill="#bf3984" stroke="#bf3984" stroke-width="0.7"/>
<path d="M635.0,540.3C640.1,537.7 649.2,537.4 654.2,540.3C657.2,542.1 655.1,548.5 655.0,552.0C654.9,555.5 653.6,560.1 653.3,563.7C653.1,567.2 653.1,571.8 653.3,575.3C653.6,578.4 653.8,582.6 655.0,585.3C656.1,587.8 659.8,589.5 660.8,592.0C661.5,593.6 661.5,596.9 660.0,597.8C657.9,599.2 653.9,598.9 651.7,597.8C648.6,596.5 645.7,592.8 643.3,590.3C640.6,587.5 636.6,583.9 635.0,580.3C633.3,576.6 633.0,571.0 632.5,567.0C632.0,562.5 631.2,556.5 631.7,552.0C632.0,548.4 631.8,542.0 635.0,540.3Z" fill="#f89540" stroke="#f89540" stroke-width="0.7"/>
<path d="M670.9,645.8C670.6,646.8 670.1,648.0 669.5,648.8C669.0,649.4 668.2,650.1 667.4,650.3C666.9,650.5 666.0,650.2 665.5,649.8C665.0,649.3 664.6,648.2 664.5,647.5C664.4,646.5 664.5,645.1 664.8,644.2C665.0,643.2 665.6,642.0 666.2,641.2C666.7,640.6 667.5,639.9 668.2,639.7C668.8,639.5 669.7,639.8 670.1,640.2C670.7,640.7 671.0,641.8 671.1,642.5C671.3,643.5 671.1,644.9 670.9,645.8Z" fill="#f89540" stroke="#f89540" stroke-width="0.7"/>
<path d="M654.2,670.3C654.6,668.0 656.7,665.4 658.3,663.7C659.8,662.1 662.2,658.5 664.2,659.5C666.2,660.5 665.4,664.8 665.0,667.0C664.6,669.0 663.4,671.8 661.7,672.8C660.4,673.6 658.1,672.5 656.7,672.0C655.8,671.7 654.0,671.2 654.2,670.3Z" fill="#f89540" stroke="#f89540" stroke-width="0.7"/>
<path d="M627.5,686.2C627.5,686.9 627.4,687.9 627.2,688.6C627.0,689.1 626.8,689.8 626.3,690.1C626.1,690.3 625.6,690.3 625.3,690.1C624.9,689.8 624.6,689.1 624.5,688.6C624.3,687.9 624.2,686.9 624.2,686.2C624.2,685.4 624.3,684.4 624.5,683.7C624.6,683.2 624.9,682.5 625.3,682.2C625.6,682.0 626.1,682.0 626.3,682.2C626.8,682.5 627.0,683.2 627.2,683.7C627.4,684.4 627.5,685.4 627.5,686.2Z" fill="#ea7457" stroke="#ea7457" stroke-width="0.7"/>
<path d="M648.5,726.4C648.2,726.7 647.3,726.8 646.8,726.7C646.0,726.6 645.1,726.1 644.4,725.6C643.7,725.1 642.8,724.2 642.2,723.4C641.8,722.8 641.2,721.8 641.1,721.0C641.0,720.5 641.1,719.7 641.5,719.3C641.8,718.9 642.7,718.8 643.2,718.9C644.0,719.1 644.9,719.6 645.6,720.1C646.3,720.6 647.2,721.5 647.8,722.2C648.2,722.9 648.8,723.9 648.9,724.7C649.0,725.2 648.9,726.0 648.5,726.4Z" fill="#ea7457" stroke="#ea7457" stroke-width="0.7"/>
<path d="M531.7,557.0C532.9,554.2 538.8,554.4 541.7,555.3C545.4,556.6 549.2,560.6 551.7,563.7C553.8,566.3 556.0,570.4 556.7,573.7C557.3,576.6 558.0,581.5 555.8,583.7C554.2,585.3 550.6,582.5 548.3,582.0C545.8,581.5 542.5,580.8 540.0,580.3C537.5,579.8 532.5,581.1 531.7,578.7C529.5,572.5 529.1,563.0 531.7,557.0Z" fill="#bf3984" stroke="#bf3984" stroke-width="0.7"/>
<path d="M531.7,747.0C531.8,744.9 535.5,743.8 536.7,742.0C539.1,738.2 540.5,732.1 543.3,728.7C544.7,727.0 547.9,726.4 550.0,726.2C552.0,725.9 555.4,728.6 556.7,727.0C558.8,724.2 557.2,718.7 558.3,715.3C559.3,712.6 563.7,709.9 563.3,707.0C563.0,704.5 558.0,704.1 556.7,702.0C555.1,699.4 553.9,695.1 554.2,692.0C554.4,689.2 556.3,685.6 558.3,683.7C560.3,681.8 564.0,680.3 566.7,680.3C569.4,680.3 572.5,682.7 575.0,683.7C578.0,684.7 581.8,687.0 585.0,687.0C587.7,687.0 591.3,685.4 593.3,683.7C595.5,681.7 596.8,677.8 598.3,675.3C599.8,672.8 601.1,668.9 603.3,667.0C604.9,665.7 608.4,664.0 610.0,665.3C612.0,666.9 611.1,671.2 611.7,673.7C612.1,675.7 612.3,678.5 613.3,680.3C614.4,682.2 617.3,683.5 618.3,685.3C619.9,688.1 621.4,692.2 621.7,695.3C621.9,698.9 620.5,703.5 620.0,707.0C619.5,710.0 617.4,714.1 618.3,717.0C619.1,719.4 622.6,722.8 625.0,722.0C627.6,721.1 627.4,716.2 628.3,713.7C629.1,711.7 628.8,706.3 630.8,707.0C633.3,707.8 632.8,712.8 633.3,715.3C634.1,718.8 635.3,723.5 635.0,727.0C634.8,729.7 631.7,732.6 631.7,735.3C631.7,737.6 633.7,740.2 635.0,742.0C636.7,744.3 639.0,747.7 641.7,748.7C643.6,749.4 647.0,748.6 648.3,747.0C650.4,744.6 650.5,740.0 651.7,737.0C653.0,733.4 655.2,728.8 656.7,725.3C658.2,721.8 660.2,717.2 661.7,713.7C663.2,710.2 665.2,705.5 666.7,702.0C668.2,698.5 670.2,693.8 671.7,690.3C673.2,686.8 675.3,682.2 676.7,678.7C677.8,675.7 679.0,671.7 680.0,668.7C681.0,665.7 683.0,661.8 683.3,658.7C683.5,656.6 682.2,654.0 681.7,652.0C681.2,650.0 679.7,647.4 680.0,645.3C680.3,643.5 681.7,641.0 683.3,640.3C684.8,639.7 687.3,640.8 688.3,642.0C689.8,643.6 690.8,646.5 690.8,648.7C690.8,650.8 687.5,653.4 688.3,655.3C689.2,657.4 693.0,657.6 695.0,658.7C697.5,660.1 701.1,661.8 703.3,663.7C704.7,664.8 707.1,666.9 706.7,668.7C706.3,670.3 703.3,671.0 701.7,671.2C699.2,671.5 695.8,669.9 693.3,670.3C691.1,670.7 688.2,672.1 686.7,673.7C685.1,675.2 683.7,678.1 683.3,680.3C682.9,682.8 682.9,686.5 684.2,688.7C685.2,690.4 689.0,690.2 690.0,692.0C691.5,694.7 690.9,699.0 691.7,702.0C692.4,705.1 693.4,709.3 695.0,712.0C696.5,714.4 699.9,716.4 701.7,718.7C703.5,721.0 705.2,724.5 706.7,727.0C708.2,729.5 709.6,733.3 711.7,735.3C713.2,736.9 716.1,738.2 718.3,738.7C721.3,739.3 725.5,739.5 728.3,738.7C730.7,737.9 732.9,735.1 735.0,733.7C737.4,732.0 740.5,729.5 743.3,728.7C745.7,727.9 750.1,726.7 751.7,728.7C753.3,730.7 750.9,734.6 750.0,737.0C748.9,740.2 747.2,744.5 745.0,747.0C742.6,749.7 737.4,751.0 735.0,753.7C733.2,755.7 732.2,759.4 731.7,762.0C730.9,765.9 730.8,771.3 730.8,775.3C730.8,777.8 731.4,781.2 731.7,783.7C731.9,786.2 732.4,789.5 732.5,792.0C732.6,795.0 735.4,801.1 732.5,802.0C722.9,804.9 709.1,802.0 699.0,802.0C689.0,802.0 675.6,802.0 665.6,802.0C655.5,802.0 642.1,802.0 632.1,802.0C622.0,802.0 608.7,802.0 598.6,802.0C588.6,802.0 575.2,802.0 565.1,802.0C555.1,802.0 536.9,810.6 531.7,802.0C523.1,787.9 530.3,763.4 531.7,747.0Z" fill="#bf3984" stroke="#bf3984" stroke-width="0.7"/>
<path d="M702.5,685.3C703.2,683.7 705.0,680.6 706.7,681.2C709.2,682.1 710.5,686.2 711.7,688.7C712.8,691.0 713.6,694.5 714.2,697.0C714.6,699.0 714.4,701.7 715.0,703.7C715.7,705.8 718.1,708.1 718.3,710.3C718.4,711.6 717.1,713.9 715.8,713.7C713.6,713.2 711.5,710.5 710.0,708.7C708.2,706.4 706.3,702.9 705.0,700.3C703.8,697.9 702.1,694.7 701.7,692.0C701.3,690.0 701.7,687.2 702.5,685.3Z" fill="#bf3984" stroke="#bf3984" stroke-width="0.7"/>
<path d="M585.0,634.5C585.7,632.5 589.7,631.2 591.7,632.0C593.7,632.9 594.0,636.7 595.0,638.7C596.0,640.7 597.3,643.4 598.3,645.3C599.3,647.1 601.5,649.2 601.7,651.2C601.8,652.6 600.6,655.5 599.2,655.3C596.9,655.1 594.8,652.1 593.3,650.3C591.5,648.1 589.7,644.6 588.3,642.0C587.2,639.8 584.2,636.8 585.0,634.5Z" fill="#bf3984" stroke="#bf3984" stroke-width="0.7"/>
<path d="M581.7,625.3C581.7,626.0 581.3,626.8 580.9,627.3C580.4,627.8 579.5,628.3 578.8,628.5C578.0,628.7 577.0,628.7 576.2,628.5C575.5,628.3 574.6,627.8 574.1,627.3C573.7,626.8 573.3,626.0 573.3,625.3C573.3,624.7 573.7,623.8 574.1,623.4C574.6,622.8 575.5,622.3 576.2,622.2C577.0,622.0 578.0,622.0 578.8,622.2C579.5,622.3 580.4,622.8 580.9,623.4C581.3,623.8 581.7,624.7 581.7,625.3Z" fill="#bf3984" stroke="#bf3984" stroke-width="0.7"/>
<path d="M581.1,659.8C581.4,660.2 581.7,661.0 581.6,661.6C581.6,662.3 581.2,663.2 580.8,663.7C580.3,664.3 579.6,665.0 578.9,665.3C578.3,665.6 577.3,665.8 576.7,665.8C576.1,665.7 575.3,665.3 574.9,664.9C574.6,664.5 574.3,663.6 574.4,663.1C574.4,662.4 574.8,661.5 575.2,660.9C575.7,660.3 576.4,659.7 577.1,659.4C577.7,659.1 578.7,658.8 579.3,658.9C579.9,659.0 580.7,659.3 581.1,659.8Z" fill="#bf3984" stroke="#bf3984" stroke-width="0.7"/>
<path d="M748.3,540.3C745.0,541.4 754.1,546.3 756.7,548.7C759.6,551.3 763.4,554.8 766.7,557.0C769.5,558.9 773.6,560.6 776.7,562.0C780.1,563.6 784.6,566.3 788.3,567.0C790.4,567.4 793.9,567.0 795.0,565.3C796.4,563.3 793.4,558.9 795.0,557.0C797.1,554.6 802.0,554.7 805.0,553.7C808.0,552.7 812.8,552.6 815.0,550.3C817.2,548.1 821.3,541.3 818.3,540.3C808.3,537.2 793.8,540.3 783.3,540.3C772.8,540.3 758.4,537.2 748.3,540.3Z" fill="#bf3984" stroke="#bf3984" stroke-width="0.7"/>
<path d="M743.3,785.3C744.4,783.5 747.9,782.6 750.0,782.8C752.8,783.1 756.7,784.7 758.3,787.0C759.3,788.3 758.1,791.4 756.7,792.0C753.4,793.2 748.1,793.6 745.0,792.0C743.2,791.1 742.3,787.1 743.3,785.3Z" fill="#bf3984" stroke="#bf3984" stroke-width="0.7"/>
<path d="M541.9,728.7C542.3,730.0 542.7,731.8 542.6,733.2C542.5,734.3 542.0,735.7 541.3,736.5C540.7,737.2 539.4,737.6 538.6,737.5C537.5,737.4 536.2,736.5 535.5,735.8C534.5,734.8 533.6,733.2 533.1,731.9C532.7,730.7 532.3,728.8 532.4,727.5C532.5,726.4 533.0,724.9 533.7,724.1C534.3,723.5 535.6,723.0 536.4,723.1C537.5,723.3 538.8,724.1 539.5,724.9C540.5,725.9 541.4,727.5 541.9,728.7Z" fill="#bf3984" stroke="#bf3984" stroke-width="0.7"/>
<path d="M535.0,754.5C536.2,750.6 544.3,756.3 548.3,757.0C551.8,757.6 556.5,758.8 560.0,758.7C564.1,758.5 569.3,756.2 573.3,756.2C576.9,756.2 581.5,757.8 585.0,758.7C590.0,760.0 597.7,760.2 601.7,763.7C603.3,765.1 600.2,769.1 598.3,770.3C594.8,772.8 588.6,773.1 585.0,775.3C582.0,777.2 579.2,781.2 576.7,783.7C574.2,786.2 569.8,788.8 568.3,792.0C567.1,794.7 571.2,801.1 568.3,802.0C558.8,804.9 540.7,810.2 535.0,802.0C526.8,790.3 531.0,768.2 535.0,754.5Z" fill="#d6556d" stroke="#d6556d" stroke-width="0.7"/>
<path d="M528.3,753.7C528.6,751.6 533.1,755.2 535.0,756.2C538.1,757.7 541.7,760.9 545.0,762.0C548.3,763.2 553.1,763.9 556.7,763.7C560.3,763.4 564.7,760.6 568.3,760.3C570.9,760.1 575.4,759.8 576.7,762.0C578.2,764.6 576.4,769.3 575.0,772.0C573.7,774.5 570.8,777.2 568.3,778.7C565.6,780.3 561.0,780.4 558.3,782.0C555.9,783.5 553.9,787.0 551.7,788.7C549.9,790.0 546.0,790.0 545.0,792.0C543.7,794.7 547.6,800.5 545.0,802.0C540.7,804.6 530.0,806.7 528.3,802.0C523.6,788.3 526.2,768.0 528.3,753.7Z" fill="#ea7457" stroke="#ea7457" stroke-width="0.7"/>
<path d="M579.8,698.3C579.4,700.7 578.2,703.7 576.8,705.6C575.6,707.4 573.3,709.4 571.3,710.3C569.6,711.2 566.8,711.6 564.8,711.3C562.9,710.9 560.4,709.6 559.0,708.2C557.5,706.6 556.1,703.9 555.5,701.8C554.9,699.6 554.8,696.3 555.2,694.0C555.6,691.7 556.8,688.7 558.2,686.7C559.4,685.0 561.7,682.9 563.7,682.0C565.4,681.2 568.2,680.7 570.2,681.1C572.1,681.4 574.6,682.8 576.0,684.2C577.5,685.7 578.9,688.4 579.5,690.5C580.1,692.8 580.2,696.0 579.8,698.3Z" fill="#a11b9b" stroke="#a11b9b" stroke-width="0.7"/>
<path d="M595.8,693.7C596.4,691.4 599.8,690.0 601.7,688.7C603.6,687.3 606.0,684.8 608.3,684.5C610.9,684.2 614.7,685.3 616.7,687.0C618.8,688.8 620.4,692.6 620.8,695.3C621.2,697.9 619.8,701.2 619.2,703.7C618.5,706.2 617.7,709.6 616.7,712.0C615.9,713.9 615.1,718.7 613.3,717.8C610.7,716.5 611.4,711.3 610.0,708.7C608.8,706.5 606.8,703.8 605.0,702.0C603.5,700.5 600.8,699.3 599.2,697.8C598.0,696.8 595.4,695.2 595.8,693.7Z" fill="#a11b9b" stroke="#a11b9b" stroke-width="0.7"/>
<path d="M588.3,730.3C589.1,728.7 591.5,727.3 593.3,727.0C595.4,726.7 598.7,727.0 600.0,728.7C601.9,731.1 602.0,735.6 602.5,738.7C603.0,742.1 606.0,748.0 603.3,750.3C600.0,753.3 592.1,753.6 588.3,751.2C585.6,749.4 587.5,743.6 587.5,740.3C587.5,737.3 587.1,733.1 588.3,730.3Z" fill="#a11b9b" stroke="#a11b9b" stroke-width="0.7"/>
<path d="M606.7,750.3C606.7,747.2 608.8,743.3 610.0,740.3C610.8,738.3 611.1,733.2 613.3,733.7C616.2,734.2 616.9,739.4 618.3,742.0C619.9,744.9 621.7,749.1 623.3,752.0C624.7,754.6 626.5,758.1 628.3,760.3C630.5,763.1 634.2,766.2 636.7,768.7C638.7,770.7 641.3,773.3 643.3,775.3C645.3,777.3 647.2,781.4 650.0,782.0C651.6,782.3 651.8,778.6 651.7,777.0C651.3,773.9 648.3,770.2 648.3,767.0C648.3,764.3 650.8,761.2 651.7,758.7C652.8,755.2 654.3,750.6 655.0,747.0C655.8,743.0 655.2,737.4 656.7,733.7C657.8,730.7 661.4,727.9 663.3,725.3C664.9,723.4 666.0,717.9 668.3,718.7C670.7,719.5 667.8,724.5 668.3,727.0C668.9,729.6 672.0,732.7 671.7,735.3C671.4,737.8 667.0,739.5 666.7,742.0C666.4,744.2 668.2,747.4 670.0,748.7C672.1,750.1 676.1,749.1 678.3,750.3C680.8,751.7 683.2,754.9 685.0,757.0C686.2,758.4 686.8,761.0 688.3,762.0C690.0,763.1 693.1,764.4 695.0,763.7C697.6,762.7 701.1,759.8 701.7,757.0C702.3,754.4 698.3,751.4 698.3,748.7C698.3,747.1 700.1,744.2 701.7,744.5C704.3,744.9 705.8,749.5 708.3,750.3C711.2,751.3 715.3,750.6 718.3,750.3C720.4,750.1 723.6,747.1 725.0,748.7C727.0,750.9 726.3,755.7 725.8,758.7C725.3,761.9 723.2,765.8 721.7,768.7C720.5,770.9 718.7,773.8 716.7,775.3C714.5,776.9 710.7,777.4 708.3,778.7C706.1,779.9 703.4,781.9 701.7,783.7C699.4,785.9 696.1,789.0 695.0,792.0C694.0,794.8 697.9,801.2 695.0,802.0C684.4,804.9 669.3,802.0 658.3,802.0C647.3,802.0 632.7,802.0 621.7,802.0C610.7,802.0 595.6,804.9 585.0,802.0C582.1,801.2 583.3,794.5 585.0,792.0C587.8,787.8 594.4,785.0 598.3,782.0C600.9,780.0 604.3,777.5 606.7,775.3C609.3,773.0 614.3,770.5 615.0,767.0C615.6,764.1 611.3,761.3 610.0,758.7C608.8,756.3 606.7,753.0 606.7,750.3Z" fill="#a11b9b" stroke="#a11b9b" stroke-width="0.7"/>
<path d="M671.7,692.0C672.3,690.3 675.0,688.1 676.7,688.7C679.0,689.5 680.1,693.4 681.7,695.3C682.9,696.9 685.3,698.5 685.8,700.3C686.4,702.0 686.5,705.3 685.0,706.2C683.2,707.2 680.1,703.4 678.3,704.5C676.0,706.0 676.1,710.9 674.2,712.8C673.4,713.6 671.1,713.0 670.8,712.0C670.2,709.1 671.5,705.0 671.7,702.0C671.8,699.0 670.6,694.8 671.7,692.0Z" fill="#a11b9b" stroke="#a11b9b" stroke-width="0.7"/>
<path d="M740.4,745.2C740.1,745.6 739.6,746.2 739.1,746.5C738.7,746.7 738.0,746.9 737.5,746.8C737.1,746.8 736.5,746.5 736.3,746.1C736.0,745.7 735.8,745.1 735.8,744.6C735.8,744.0 736.0,743.3 736.3,742.8C736.6,742.4 737.1,741.8 737.6,741.5C738.0,741.3 738.7,741.1 739.1,741.2C739.6,741.2 740.1,741.5 740.4,741.9C740.7,742.3 740.9,742.9 740.8,743.4C740.8,744.0 740.6,744.7 740.4,745.2Z" fill="#a11b9b" stroke="#a11b9b" stroke-width="0.7"/>
<path d="M573.6,699.4C573.2,701.0 572.2,703.0 571.1,704.3C570.3,705.3 568.7,706.5 567.4,706.7C566.3,707.0 564.6,706.5 563.8,705.8C562.8,704.9 562.0,703.1 561.8,701.8C561.5,700.2 561.6,697.9 562.0,696.3C562.5,694.7 563.5,692.6 564.5,691.4C565.4,690.3 567.0,689.2 568.3,688.9C569.4,688.7 571.0,689.2 571.9,689.9C572.9,690.8 573.7,692.6 573.9,693.9C574.2,695.5 574.1,697.8 573.6,699.4Z" fill="#7e03a8" stroke="#7e03a8" stroke-width="0.7"/>
<path d="M617.3,696.5C617.1,697.6 616.4,699.1 615.7,700.0C615.1,700.8 613.9,701.6 612.9,701.9C612.1,702.1 610.7,701.8 610.0,701.3C609.1,700.8 608.3,699.6 608.0,698.7C607.6,697.6 607.5,696.0 607.7,694.8C607.9,693.7 608.6,692.2 609.3,691.3C609.9,690.5 611.1,689.7 612.1,689.5C612.9,689.3 614.3,689.5 615.0,690.0C615.9,690.5 616.7,691.7 617.0,692.7C617.4,693.8 617.5,695.4 617.3,696.5Z" fill="#7e03a8" stroke="#7e03a8" stroke-width="0.7"/>
<path d="M701.7,763.7C702.7,761.0 705.9,758.4 708.3,757.0C711.0,755.5 715.3,753.7 718.3,754.5C720.2,755.0 721.0,758.4 720.8,760.3C720.7,762.6 719.0,765.3 717.5,767.0C715.6,769.2 712.8,772.2 710.0,772.8C707.9,773.3 704.8,771.9 703.3,770.3C701.9,768.8 700.9,765.6 701.7,763.7Z" fill="#7e03a8" stroke="#7e03a8" stroke-width="0.7"/>
<path d="M622.5,775.3C622.8,773.5 626.5,772.3 628.3,772.8C630.9,773.5 633.2,776.7 635.0,778.7C637.2,781.0 639.7,784.4 641.7,787.0C642.7,788.4 644.6,790.2 645.0,792.0C645.7,794.9 647.7,800.7 645.0,802.0C639.1,804.7 627.5,807.0 623.3,802.0C618.2,795.9 621.1,783.2 622.5,775.3Z" fill="#7e03a8" stroke="#7e03a8" stroke-width="0.7"/>
<path d="M668.3,772.0C668.9,770.1 671.4,768.1 673.3,767.8C675.4,767.5 678.7,768.6 680.0,770.3C681.8,772.8 682.3,777.3 682.5,780.3C682.8,783.8 681.8,788.5 681.7,792.0C681.6,795.0 683.9,800.0 681.7,802.0C679.3,804.2 672.6,804.8 670.8,802.0C667.6,796.9 669.7,788.0 669.2,782.0C668.9,779.0 667.5,774.9 668.3,772.0Z" fill="#7e03a8" stroke="#7e03a8" stroke-width="0.7"/>
<path d="M711.3,764.5C711.3,764.9 711.1,765.5 710.8,765.9C710.5,766.2 709.9,766.6 709.5,766.7C709.0,766.9 708.3,766.9 707.8,766.7C707.4,766.6 706.8,766.2 706.5,765.9C706.2,765.5 706.0,764.9 706.0,764.5C706.0,764.1 706.2,763.5 706.5,763.1C706.8,762.8 707.4,762.4 707.8,762.3C708.3,762.1 709.0,762.1 709.5,762.3C709.9,762.4 710.5,762.8 710.8,763.1C711.1,763.5 711.3,764.1 711.3,764.5Z" fill="#5601a4" stroke="#5601a4" stroke-width="0.7"/>
<path d="M225.7,788.7C232.1,781.4 248.4,788.7 258.2,788.7C267.9,788.7 280.9,788.7 290.7,788.7C300.4,788.7 313.4,788.7 323.2,788.7C332.9,788.7 345.9,788.7 355.7,788.7C365.4,788.7 378.4,788.7 388.2,788.7C397.9,788.7 411.9,784.5 420.7,788.7C425.2,790.8 422.0,800.4 423.2,805.3C424.0,809.0 427.0,813.3 427.3,817.0C427.7,821.0 427.0,826.5 425.7,830.3C424.5,833.7 420.6,837.1 419.0,840.3C417.1,844.2 416.0,849.9 414.0,853.7C412.7,856.0 410.7,861.2 408.2,860.3C405.1,859.3 405.7,853.1 404.0,850.3C402.4,847.6 400.2,843.5 397.3,842.0C395.7,841.1 392.2,842.0 391.5,843.7C390.5,846.0 394.0,849.6 393.2,852.0C392.3,854.7 388.2,856.4 386.5,858.7C385.2,860.5 384.9,864.0 383.2,865.3C381.3,866.7 376.9,865.0 375.7,867.0C373.8,870.0 375.3,875.2 374.8,878.7C374.6,880.7 373.3,883.3 373.2,885.3C373.0,889.3 374.1,894.7 374.0,898.7C373.9,901.7 372.5,905.6 372.3,908.7C372.2,911.7 373.7,915.7 373.2,918.7C372.7,921.4 370.6,924.7 369.0,927.0C367.3,929.3 364.5,931.8 362.3,933.7C360.5,935.3 357.4,936.8 355.7,938.7C354.1,940.4 352.5,943.2 351.5,945.3C350.4,947.7 350.2,951.3 349.0,953.7C347.9,955.9 345.4,958.3 344.0,960.3C342.4,962.8 340.8,966.4 339.0,968.7C337.3,970.9 334.4,973.5 332.3,975.3C329.9,977.5 326.6,980.2 324.0,982.0C321.6,983.7 318.6,987.0 315.7,987.0C313.5,987.0 311.8,983.8 310.7,982.0C309.2,979.7 308.3,976.2 307.3,973.7C306.3,971.2 305.0,967.8 304.0,965.3C303.0,962.8 301.6,959.5 300.7,957.0C299.6,954.0 297.6,950.1 297.3,947.0C297.1,944.5 299.3,941.2 299.0,938.7C298.7,936.0 297.1,932.6 295.7,930.3C294.5,928.5 292.8,925.3 290.7,925.3C288.9,925.3 288.0,928.7 287.3,930.3C286.0,933.7 285.1,938.5 284.0,942.0C283.1,945.0 281.7,949.0 280.7,952.0C279.7,954.5 278.9,958.2 277.3,960.3C275.8,962.3 272.2,963.4 270.7,965.3C268.9,967.5 267.8,971.2 266.5,973.7C265.2,976.2 265.1,982.0 262.3,982.0C259.7,982.0 260.1,976.3 259.8,973.7C259.6,971.2 261.4,967.7 260.7,965.3C260.0,963.3 257.8,960.3 255.7,960.3C253.5,960.3 252.7,964.8 250.7,965.3C248.7,965.9 245.7,964.9 244.0,963.7C242.0,962.2 240.1,959.2 239.0,957.0C237.8,954.7 236.5,951.3 236.5,948.7C236.5,946.1 238.9,942.9 239.0,940.3C239.1,937.3 236.7,933.3 237.3,930.3C237.8,927.9 240.6,925.4 242.3,923.7C244.1,921.9 248.3,921.1 249.0,918.7C249.6,916.5 247.2,913.6 245.7,912.0C244.1,910.4 240.7,910.1 239.0,908.7C237.1,907.0 236.0,903.5 234.0,902.0C231.8,900.4 226.2,901.3 225.7,898.7C223.4,887.9 225.7,873.0 225.7,862.0C225.7,851.0 225.7,836.3 225.7,825.3C225.7,814.3 218.4,796.9 225.7,788.7Z" fill="#bf3984" stroke="#bf3984" stroke-width="0.7"/>
<path d="M225.7,788.7C227.8,784.1 238.0,786.2 242.3,788.7C246.2,790.9 248.4,797.6 249.0,802.0C249.5,805.6 247.4,810.5 245.7,813.7C244.3,816.1 239.6,817.6 239.0,820.3C238.0,824.7 241.2,830.8 240.7,835.3C240.2,839.1 236.7,843.3 235.7,847.0C234.7,850.4 236.1,855.8 234.0,858.7C232.5,860.7 226.3,862.8 225.7,860.3C223.1,849.9 225.7,835.2 225.7,824.5C225.7,813.8 221.1,798.4 225.7,788.7Z" fill="#d6556d" stroke="#d6556d" stroke-width="0.7"/>
<path d="M284.0,810.3C284.9,806.9 288.9,803.0 292.3,802.0C294.9,801.2 299.6,802.9 300.7,805.3C302.1,808.6 300.2,813.7 299.0,817.0C298.1,819.3 296.4,823.0 294.0,823.7C291.8,824.3 288.7,822.1 287.3,820.3C285.4,817.8 283.2,813.4 284.0,810.3Z" fill="#d6556d" stroke="#d6556d" stroke-width="0.7"/>
<path d="M292.3,788.7C294.0,786.2 300.0,786.7 302.3,788.7C304.3,790.3 303.7,794.9 302.3,797.0C301.2,798.7 297.3,800.0 295.7,798.7C293.2,796.6 290.6,791.3 292.3,788.7Z" fill="#d6556d" stroke="#d6556d" stroke-width="0.7"/>
<path d="M245.7,815.3C246.1,813.6 249.7,810.5 250.7,812.0C252.9,815.4 252.3,821.3 252.3,825.3C252.3,829.4 251.6,834.7 250.7,838.7C250.1,841.3 249.7,848.3 247.3,847.0C244.2,845.2 245.0,838.9 244.8,835.3C244.5,829.3 244.2,821.2 245.7,815.3Z" fill="#d6556d" stroke="#d6556d" stroke-width="0.7"/>
<path d="M351.3,842.6C350.8,843.2 349.4,843.0 348.7,842.8C347.3,842.3 345.7,841.3 344.6,840.4C343.3,839.4 341.6,837.7 340.6,836.4C339.7,835.3 338.7,833.7 338.2,832.3C338.0,831.6 337.8,830.2 338.4,829.7C338.9,829.1 340.2,829.3 341.0,829.5C342.3,830.0 344.0,831.0 345.1,831.9C346.4,833.0 348.0,834.6 349.1,835.9C350.0,837.0 351.0,838.7 351.5,840.0C351.7,840.8 351.9,842.1 351.3,842.6Z" fill="#d6556d" stroke="#d6556d" stroke-width="0.7"/>
<path d="M365.7,858.5C365.0,859.0 363.6,858.6 362.8,858.2C361.3,857.5 359.7,856.1 358.6,855.0C357.2,853.6 355.6,851.6 354.6,850.0C353.8,848.6 352.8,846.6 352.5,845.1C352.3,844.2 352.3,842.7 353.0,842.2C353.7,841.7 355.1,842.0 355.9,842.4C357.3,843.1 359.0,844.5 360.1,845.7C361.5,847.0 363.0,849.1 364.0,850.7C364.9,852.1 365.8,854.0 366.2,855.6C366.4,856.5 366.4,857.9 365.7,858.5Z" fill="#d6556d" stroke="#d6556d" stroke-width="0.7"/>
<path d="M337.3,856.2C337.3,856.6 336.9,857.1 336.5,857.3C336.0,857.7 335.1,858.0 334.5,858.1C333.7,858.2 332.6,858.2 331.9,858.1C331.2,858.0 330.3,857.7 329.8,857.3C329.4,857.1 329.0,856.6 329.0,856.2C329.0,855.7 329.4,855.2 329.8,855.0C330.3,854.6 331.2,854.4 331.9,854.3C332.6,854.1 333.7,854.1 334.5,854.3C335.1,854.4 336.0,854.6 336.5,855.0C336.9,855.2 337.3,855.7 337.3,856.2Z" fill="#d6556d" stroke="#d6556d" stroke-width="0.7"/>
<path d="M375.7,840.3C376.9,838.7 380.5,837.6 382.3,838.7C384.9,840.1 386.4,844.2 387.3,847.0C388.5,850.4 389.8,855.2 389.0,858.7C388.6,860.4 385.7,862.6 384.0,862.0C381.6,861.2 380.4,857.4 379.0,855.3C377.7,853.4 375.3,851.0 374.8,848.7C374.3,846.2 374.2,842.3 375.7,840.3Z" fill="#d6556d" stroke="#d6556d" stroke-width="0.7"/>
<path d="M337.3,890.3C338.1,887.9 341.8,886.5 344.0,885.3C346.6,884.0 350.4,881.1 353.2,882.0C355.1,882.6 354.6,886.7 354.0,888.7C353.3,891.1 351.2,894.1 349.0,895.3C346.8,896.6 343.0,897.2 340.7,896.2C338.8,895.4 336.7,892.3 337.3,890.3Z" fill="#d6556d" stroke="#d6556d" stroke-width="0.7"/>
<path d="M369.5,900.7C369.3,901.2 368.5,901.6 367.9,901.7C367.0,901.8 365.8,901.7 364.9,901.5C363.8,901.3 362.4,900.8 361.5,900.3C360.7,899.9 359.6,899.1 359.1,898.4C358.7,898.0 358.3,897.2 358.5,896.7C358.7,896.2 359.5,895.8 360.1,895.7C361.0,895.5 362.2,895.6 363.1,895.8C364.2,896.0 365.6,896.5 366.5,897.0C367.3,897.5 368.4,898.2 368.9,898.9C369.3,899.3 369.7,900.1 369.5,900.7Z" fill="#d6556d" stroke="#d6556d" stroke-width="0.7"/>
<path d="M350.1,943.3C350.6,943.8 350.7,944.8 350.5,945.5C350.3,946.4 349.7,947.5 349.1,948.3C348.4,949.1 347.3,950.1 346.3,950.6C345.5,951.1 344.3,951.5 343.3,951.5C342.6,951.6 341.6,951.3 341.2,950.7C340.8,950.2 340.7,949.2 340.8,948.5C341.0,947.6 341.6,946.5 342.2,945.7C342.9,944.9 344.1,943.9 345.0,943.4C345.8,942.9 347.1,942.5 348.0,942.5C348.7,942.4 349.7,942.7 350.1,943.3Z" fill="#d6556d" stroke="#d6556d" stroke-width="0.7"/>
<path d="M274.0,865.3C274.6,862.2 276.1,858.3 277.3,855.3C278.6,852.2 280.3,848.0 282.3,845.3C283.4,843.9 285.7,841.3 287.3,842.0C289.4,842.8 290.7,846.4 290.7,848.7C290.7,851.8 288.4,855.7 287.3,858.7C286.4,861.2 285.2,864.6 284.0,867.0C282.7,869.6 281.3,873.6 279.0,875.3C277.6,876.4 273.9,876.9 273.2,875.3C271.8,872.6 273.4,868.3 274.0,865.3Z" fill="#d6556d" stroke="#d6556d" stroke-width="0.7"/>
<path d="M277.3,865.3C277.8,862.2 279.5,858.3 280.7,855.3C281.7,852.7 282.6,848.7 284.8,847.0C285.8,846.2 287.3,849.1 287.3,850.3C287.3,852.9 285.7,856.2 284.8,858.7C283.9,861.2 282.7,864.6 281.5,867.0C280.7,868.6 279.8,872.7 278.2,872.0C276.3,871.3 277.0,867.3 277.3,865.3Z" fill="#ea7457" stroke="#ea7457" stroke-width="0.7"/>
<path d="M279.0,895.3C280.6,893.8 284.0,897.2 285.7,898.7C288.1,900.8 290.6,904.3 292.3,907.0C294.6,910.4 297.6,914.9 299.0,918.7C300.2,922.0 301.6,926.9 300.7,930.3C300.3,931.8 296.7,931.4 295.7,930.3C293.8,928.4 293.6,924.4 292.3,922.0C290.6,918.8 287.9,914.8 285.7,912.0C283.9,909.8 280.1,908.0 279.0,905.3C277.9,902.5 276.9,897.5 279.0,895.3Z" fill="#d6556d" stroke="#d6556d" stroke-width="0.7"/>
<path d="M262.8,904.0C262.5,905.1 261.0,906.2 259.9,906.7C258.3,907.3 255.9,907.4 254.2,907.2C252.2,907.1 249.5,906.3 247.7,905.5C246.1,904.8 244.1,903.5 243.0,902.1C242.3,901.2 241.6,899.5 241.9,898.4C242.2,897.2 243.6,896.1 244.7,895.7C246.4,895.1 248.8,894.9 250.5,895.1C252.5,895.3 255.1,896.0 257.0,896.8C258.5,897.6 260.6,898.9 261.7,900.2C262.4,901.1 263.1,902.8 262.8,904.0Z" fill="#d6556d" stroke="#d6556d" stroke-width="0.7"/>
<path d="M259.6,903.1C259.4,903.7 258.4,904.2 257.8,904.3C256.6,904.6 255.0,904.5 253.9,904.4C252.5,904.2 250.7,903.7 249.4,903.2C248.3,902.7 246.9,902.0 246.0,901.2C245.6,900.8 244.9,899.9 245.1,899.2C245.3,898.6 246.3,898.1 246.9,898.0C248.0,897.7 249.6,897.8 250.8,898.0C252.2,898.2 254.0,898.6 255.3,899.2C256.4,899.6 257.8,900.3 258.6,901.1C259.1,901.6 259.7,902.5 259.6,903.1Z" fill="#ea7457" stroke="#ea7457" stroke-width="0.7"/>
<path d="M225.7,915.3C226.4,912.3 233.4,916.4 235.7,918.7C237.9,920.9 239.0,925.5 239.0,928.7C239.0,932.8 236.0,937.9 235.7,942.0C235.4,945.0 237.9,949.0 237.3,952.0C236.8,954.5 234.5,957.4 232.3,958.7C230.6,959.7 226.0,960.6 225.7,958.7C223.7,945.8 222.5,927.9 225.7,915.3Z" fill="#d6556d" stroke="#d6556d" stroke-width="0.7"/>
<path d="M269.0,815.3C270.9,814.5 272.6,818.7 274.0,820.3C275.6,822.2 277.1,825.4 279.0,827.0C280.7,828.5 283.8,829.0 285.7,830.3C287.4,831.6 290.7,833.2 290.7,835.3C290.7,837.5 287.7,839.8 285.7,840.3C283.7,840.9 280.9,837.9 279.0,838.7C276.7,839.7 275.8,843.6 274.0,845.3C272.7,846.6 270.7,849.3 269.0,848.7C266.8,847.9 265.5,844.3 264.8,842.0C264.0,839.1 263.7,835.0 264.0,832.0C264.2,829.4 265.8,826.2 266.5,823.7C267.2,821.2 266.6,816.4 269.0,815.3Z" fill="#a11b9b" stroke="#a11b9b" stroke-width="0.7"/>
<path d="M294.0,835.3C295.8,833.3 299.7,831.7 302.3,832.0C304.8,832.3 308.2,834.6 309.0,837.0C310.0,839.9 307.8,844.0 307.3,847.0C306.8,850.0 307.2,854.4 305.7,857.0C304.9,858.4 302.0,859.5 300.7,858.7C298.2,857.0 296.9,853.0 295.7,850.3C294.6,848.0 293.5,844.6 293.2,842.0C292.9,840.0 292.6,836.8 294.0,835.3Z" fill="#a11b9b" stroke="#a11b9b" stroke-width="0.7"/>
<path d="M312.3,812.0C313.5,810.2 316.9,809.5 319.0,809.5C321.4,809.5 325.2,810.0 326.5,812.0C327.8,813.9 326.9,817.6 325.7,819.5C324.6,821.1 321.7,822.1 319.8,822.0C317.6,821.9 314.5,820.5 313.2,818.7C312.0,817.1 311.3,813.7 312.3,812.0Z" fill="#a11b9b" stroke="#a11b9b" stroke-width="0.7"/>
<path d="M316.5,835.3C316.9,833.5 320.4,832.8 322.3,832.8C324.7,832.8 328.4,833.4 329.8,835.3C331.0,837.0 330.7,840.9 329.0,842.0C326.9,843.3 322.9,842.3 320.7,841.2C318.8,840.2 316.1,837.4 316.5,835.3Z" fill="#a11b9b" stroke="#a11b9b" stroke-width="0.7"/>
<path d="M286.5,885.3C286.8,882.7 290.4,880.5 292.3,878.7C293.4,877.7 295.4,875.3 296.5,876.2C298.9,878.1 299.8,882.4 300.7,885.3C301.6,888.2 302.7,892.3 302.3,895.3C302.1,897.1 300.7,899.7 299.0,900.3C297.5,900.9 295.1,899.8 294.0,898.7C292.4,897.1 291.8,893.9 290.7,892.0C289.5,889.9 286.2,887.7 286.5,885.3Z" fill="#a11b9b" stroke="#a11b9b" stroke-width="0.7"/>
<path d="M252.3,922.0C253.5,918.6 256.6,914.7 259.0,912.0C261.1,909.6 264.2,906.1 267.3,905.3C269.3,904.9 272.0,907.1 273.2,908.7C275.1,911.3 276.3,915.6 277.3,918.7C278.5,922.1 279.9,926.8 280.7,930.3C281.4,933.8 282.6,938.5 282.3,942.0C282.1,944.7 280.2,947.9 279.0,950.3C277.7,952.9 276.9,958.2 274.0,958.7C271.5,959.1 271.5,952.0 269.0,952.0C266.6,952.0 267.2,958.7 264.8,958.7C262.3,958.7 260.2,954.5 259.8,952.0C259.4,948.9 262.8,945.1 262.3,942.0C262.0,939.9 259.4,936.6 257.3,937.0C255.1,937.4 255.9,944.8 254.0,943.7C251.3,942.1 251.7,936.7 251.5,933.7C251.2,930.2 251.2,925.3 252.3,922.0Z" fill="#a11b9b" stroke="#a11b9b" stroke-width="0.7"/>
<path d="M267.3,916.2C268.9,916.2 269.9,918.9 270.7,920.3C272.2,923.2 273.9,927.2 274.8,930.3C275.9,933.8 277.1,938.4 277.3,942.0C277.4,943.1 276.5,946.1 275.7,945.3C273.8,943.4 273.3,939.5 272.3,937.0C271.3,934.0 270.0,930.0 269.0,927.0C268.3,925.0 266.8,922.4 266.5,920.3C266.3,919.1 266.1,916.2 267.3,916.2Z" fill="#7e03a8" stroke="#7e03a8" stroke-width="0.7"/>
<path d="M300.7,945.3C301.2,942.9 302.5,939.8 304.0,937.8C305.1,936.4 307.2,934.2 309.0,934.5C310.9,934.8 312.9,937.6 313.2,939.5C313.5,941.9 311.9,945.0 310.7,947.0C309.6,948.6 307.6,950.7 305.7,951.2C304.4,951.5 302.4,950.5 301.5,949.5C300.7,948.5 300.4,946.6 300.7,945.3Z" fill="#a11b9b" stroke="#a11b9b" stroke-width="0.7"/>
<path d="M262.3,848.7C265.4,849.5 265.3,855.5 265.7,858.7C266.1,862.2 265.6,866.9 264.8,870.3C264.1,874.0 262.5,878.7 260.7,882.0C259.6,883.9 257.5,888.1 255.7,887.0C253.5,885.8 254.5,881.2 254.8,878.7C255.3,875.1 257.3,870.5 258.2,867.0C258.9,864.0 259.2,860.0 259.8,857.0C260.4,854.5 259.8,847.9 262.3,848.7Z" fill="#a11b9b" stroke="#a11b9b" stroke-width="0.7"/>
<path d="M289.0,928.7C290.3,927.1 293.9,926.8 295.7,927.8C297.2,928.8 297.3,931.8 297.3,933.7C297.3,936.2 295.7,939.5 295.7,942.0C295.7,945.0 296.6,949.0 297.3,952.0C298.1,955.1 299.5,959.1 300.7,962.0C302.0,965.1 304.2,969.0 305.7,972.0C307.2,975.0 309.6,978.8 310.7,982.0C311.6,984.9 312.3,989.0 312.3,992.0C312.3,995.0 310.7,999.0 310.7,1002.0C310.7,1005.0 311.3,1009.1 312.3,1012.0C313.3,1014.7 316.3,1017.6 317.3,1020.3C318.3,1022.7 319.0,1026.1 319.0,1028.7C319.0,1032.7 317.6,1038.0 317.3,1042.0C317.1,1045.0 320.1,1050.8 317.3,1052.0C310.9,1054.8 300.4,1054.8 294.0,1052.0C291.2,1050.8 294.7,1044.9 294.0,1042.0C293.2,1038.7 290.3,1035.1 289.0,1032.0C287.8,1029.1 286.4,1025.1 285.7,1022.0C284.9,1019.0 283.9,1015.0 284.0,1012.0C284.1,1008.9 285.8,1005.0 286.5,1002.0C287.2,999.0 288.4,995.0 289.0,992.0C289.6,989.0 290.9,985.0 290.7,982.0C290.4,979.3 288.3,976.2 287.3,973.7C286.3,971.2 284.7,967.9 284.0,965.3C283.2,962.4 282.3,958.4 282.3,955.3C282.3,952.8 283.4,949.5 284.0,947.0C284.6,944.5 285.8,941.2 286.5,938.7C287.3,935.7 287.0,931.0 289.0,928.7Z" fill="#ea7457" stroke="#ea7457" stroke-width="0.7"/>
<path d="M243.2,980.3C243.4,979.1 246.3,978.8 247.3,979.5C249.5,981.1 250.9,984.7 252.3,987.0C253.9,989.5 255.7,992.9 257.3,995.3C258.7,997.4 261.1,999.8 262.3,1002.0C263.1,1003.4 265.1,1005.9 264.0,1007.0C262.9,1008.1 260.3,1006.3 259.0,1005.3C256.7,1003.7 254.2,1000.8 252.3,998.7C250.2,996.3 247.1,993.2 245.7,990.3C244.3,987.6 242.7,983.4 243.2,980.3Z" fill="#ea7457" stroke="#ea7457" stroke-width="0.7"/>
<path d="M237.0,972.0C237.0,972.6 236.8,973.4 236.5,974.0C236.2,974.4 235.7,975.0 235.2,975.2C234.7,975.4 234.0,975.4 233.5,975.2C233.0,975.0 232.4,974.4 232.2,974.0C231.9,973.4 231.7,972.6 231.7,972.0C231.7,971.4 231.9,970.6 232.2,970.0C232.4,969.6 233.0,969.0 233.5,968.8C234.0,968.6 234.7,968.6 235.2,968.8C235.7,969.0 236.2,969.6 236.5,970.0C236.8,970.6 237.0,971.4 237.0,972.0Z" fill="#ea7457" stroke="#ea7457" stroke-width="0.7"/>
<path d="M475.7,858.7C477.6,855.9 482.4,854.2 485.7,853.7C488.7,853.2 492.9,854.2 495.7,855.3C499.0,856.7 503.0,859.6 505.7,862.0C508.0,864.1 510.6,867.7 512.3,870.3C513.6,872.2 516.0,874.8 515.7,877.0C515.4,879.1 512.4,880.7 510.7,882.0C508.3,883.7 505.2,886.4 502.3,887.0C500.3,887.4 497.4,886.4 495.7,885.3C493.3,883.8 490.9,880.8 489.0,878.7C486.9,876.3 484.4,872.7 482.3,870.3C480.9,868.7 478.4,867.2 477.3,865.3C476.3,863.5 474.5,860.3 475.7,858.7Z" fill="#ea7457" stroke="#ea7457" stroke-width="0.7"/>
<path d="M351.5,952.0C353.9,950.3 357.8,954.6 360.7,955.3C363.6,956.1 367.7,956.5 370.7,957.0C373.2,957.5 376.8,957.4 379.0,958.7C380.6,959.6 382.6,961.9 382.3,963.7C382.0,965.8 377.8,966.6 377.3,968.7C376.7,971.6 378.5,975.7 379.0,978.7C379.7,982.7 381.0,988.0 381.5,992.0C382.0,995.5 382.6,1000.2 382.3,1003.7C382.1,1006.7 381.2,1010.9 379.8,1013.7C378.6,1016.2 376.4,1019.6 374.0,1021.2C372.3,1022.3 369.3,1022.6 367.3,1022.0C364.9,1021.3 362.7,1018.4 360.7,1017.0C358.7,1015.7 356.2,1013.8 354.0,1012.8C351.6,1011.8 348.2,1011.0 345.7,1010.3C343.4,1009.7 339.0,1010.8 338.2,1008.7C337.3,1006.5 340.6,1003.6 342.3,1002.0C344.0,1000.5 348.3,1000.8 349.0,998.7C349.7,996.3 347.2,993.1 345.7,991.2C344.1,989.2 341.1,987.6 339.0,986.2C337.1,984.8 332.7,984.3 332.3,982.0C332.0,979.5 335.8,977.3 337.3,975.3C339.3,972.8 342.3,969.7 344.0,967.0C346.6,962.7 347.4,954.9 351.5,952.0Z" fill="#bf3984" stroke="#bf3984" stroke-width="0.7"/>
<path d="M345.7,975.3C346.6,973.5 350.5,976.0 352.3,977.0C355.1,978.6 358.4,981.4 360.7,983.7C362.9,985.9 365.6,989.3 367.3,992.0C369.1,994.8 372.0,998.7 372.3,1002.0C372.5,1003.8 370.7,1007.6 369.0,1007.0C366.0,1006.0 364.3,1001.2 362.3,998.7C360.3,996.2 357.8,992.7 355.7,990.3C353.8,988.2 350.6,986.0 349.0,983.7C347.5,981.4 344.5,977.7 345.7,975.3Z" fill="#d6556d" stroke="#d6556d" stroke-width="0.7"/>
<path d="M355.7,965.3C357.4,964.2 360.4,966.2 362.3,967.0C365.0,968.2 368.2,970.5 370.7,972.0C372.2,973.0 375.1,973.6 375.7,975.3C376.0,976.4 373.4,977.2 372.3,977.0C369.7,976.6 366.5,974.8 364.0,973.7C362.0,972.8 358.9,971.9 357.3,970.3C356.2,969.2 354.4,966.2 355.7,965.3Z" fill="#d6556d" stroke="#d6556d" stroke-width="0.7"/>
<path d="M391.5,916.2C391.8,914.9 394.9,914.3 395.7,915.3C397.2,917.3 396.6,921.2 397.3,923.7C398.3,926.8 400.8,930.5 401.5,933.7C402.1,936.6 402.7,940.9 401.5,943.7C400.9,945.1 397.6,946.5 396.5,945.3C394.4,943.0 394.5,938.4 394.0,935.3C393.5,932.4 393.6,928.3 393.2,925.3C392.8,922.6 390.8,918.9 391.5,916.2Z" fill="#bf3984" stroke="#bf3984" stroke-width="0.7"/>
<path d="M434.0,920.3C435.4,917.8 439.4,915.3 442.3,915.3C443.9,915.3 444.3,918.8 444.0,920.3C443.7,922.1 439.9,923.7 440.7,925.3C441.6,927.2 445.4,926.2 447.3,927.0C449.0,927.7 452.3,928.5 452.3,930.3C452.3,932.5 449.4,934.8 447.3,935.3C445.4,935.9 442.6,933.0 440.7,933.7C438.5,934.4 437.7,940.5 435.7,939.5C433.2,938.2 434.2,933.1 434.0,930.3C433.7,927.3 432.5,923.0 434.0,920.3Z" fill="#bf3984" stroke="#bf3984" stroke-width="0.7"/>
<path d="M459.8,1000.3C460.3,996.4 462.8,991.3 465.7,988.7C467.1,987.3 471.1,987.1 472.3,988.7C473.6,990.3 471.7,993.6 470.7,995.3C469.1,997.9 466.7,1001.6 464.0,1002.8C462.7,1003.4 459.7,1001.8 459.8,1000.3Z" fill="#bf3984" stroke="#bf3984" stroke-width="0.7"/>
<path d="M433.1,969.2C433.4,969.9 433.2,970.9 432.8,971.6C432.4,972.4 431.4,973.3 430.6,973.8C429.6,974.4 428.2,974.9 427.2,975.1C426.2,975.2 424.9,975.1 424.0,974.8C423.3,974.5 422.4,973.8 422.2,973.2C421.9,972.5 422.1,971.4 422.5,970.8C423.0,969.9 424.0,969.0 424.8,968.5C425.7,967.9 427.1,967.4 428.2,967.3C429.1,967.1 430.5,967.2 431.4,967.5C432.0,967.8 432.9,968.5 433.1,969.2Z" fill="#bf3984" stroke="#bf3984" stroke-width="0.7"/>
<path d="M451.5,1035.3C451.7,1030.2 452.6,1022.8 455.7,1018.7C456.9,1017.1 460.9,1020.1 461.5,1022.0C462.4,1024.9 461.0,1029.2 459.8,1032.0C458.9,1034.3 457.2,1037.7 454.8,1038.7C453.5,1039.2 451.4,1036.7 451.5,1035.3Z" fill="#bf3984" stroke="#bf3984" stroke-width="0.7"/>
<path d="M406.1,992.0C405.7,992.9 405.1,994.0 404.5,994.7C404.1,995.2 403.4,995.8 402.7,996.0C402.4,996.1 401.8,995.8 401.6,995.5C401.4,994.9 401.4,994.0 401.5,993.3C401.7,992.4 402.1,991.2 402.5,990.3C402.9,989.5 403.6,988.4 404.2,987.6C404.6,987.1 405.3,986.5 405.9,986.3C406.3,986.2 406.9,986.5 407.0,986.8C407.3,987.4 407.2,988.4 407.1,989.0C407.0,989.9 406.5,991.2 406.1,992.0Z" fill="#bf3984" stroke="#bf3984" stroke-width="0.7"/>
<path d="M405.6,897.4C405.4,898.9 404.9,900.8 404.3,902.2C403.9,903.1 403.3,904.3 402.6,904.9C402.2,905.2 401.3,905.1 401.0,904.7C400.5,903.8 400.4,902.5 400.3,901.5C400.3,900.0 400.4,898.0 400.7,896.6C401.0,895.1 401.5,893.2 402.0,891.8C402.4,890.9 403.0,889.7 403.8,889.1C404.2,888.8 405.1,888.9 405.3,889.3C405.8,890.2 406.0,891.5 406.0,892.5C406.1,894.0 405.9,896.0 405.6,897.4Z" fill="#bf3984" stroke="#bf3984" stroke-width="0.7"/>
<path d="M339.0,1037.0C340.0,1034.7 343.2,1032.6 345.7,1032.0C347.7,1031.5 350.9,1032.2 352.3,1033.7C354.2,1035.6 355.2,1039.4 355.7,1042.0C356.2,1045.0 358.3,1050.6 355.7,1052.0C350.8,1054.6 341.4,1055.7 337.3,1052.0C334.0,1049.0 337.3,1041.2 339.0,1037.0Z" fill="#bf3984" stroke="#bf3984" stroke-width="0.7"/>
<path d="M377.0,942.3C377.2,942.8 376.9,943.5 376.6,943.9C376.1,944.5 375.2,945.2 374.5,945.6C373.7,946.0 372.5,946.4 371.6,946.6C370.9,946.8 369.8,946.8 369.0,946.7C368.5,946.6 367.8,946.2 367.6,945.7C367.5,945.2 367.8,944.5 368.1,944.1C368.5,943.5 369.4,942.8 370.1,942.4C370.9,942.0 372.1,941.6 373.0,941.4C373.8,941.2 374.9,941.2 375.7,941.3C376.2,941.4 376.9,941.8 377.0,942.3Z" fill="#bf3984" stroke="#bf3984" stroke-width="0.7"/>
<path d="M450.4,889.8C450.5,890.2 450.1,890.7 449.8,891.0C449.3,891.6 448.4,892.1 447.7,892.5C446.8,892.9 445.7,893.3 444.8,893.5C444.0,893.7 443.0,893.9 442.2,893.8C441.8,893.8 441.1,893.6 441.0,893.2C440.8,892.8 441.2,892.3 441.5,892.0C442.1,891.4 443.0,890.9 443.7,890.5C444.5,890.1 445.7,889.7 446.6,889.5C447.3,889.3 448.4,889.1 449.1,889.2C449.5,889.2 450.2,889.4 450.4,889.8Z" fill="#bf3984" stroke="#bf3984" stroke-width="0.7"/>
<path d="M285.7,775.3C286.8,770.9 292.1,766.6 295.7,763.7C298.7,761.1 303.5,758.4 307.3,757.0C310.7,755.8 315.6,754.5 319.0,755.3C322.1,756.1 325.8,759.2 327.3,762.0C329.0,765.1 329.5,770.2 329.0,773.7C328.5,777.0 326.0,781.0 324.0,783.7C321.9,786.5 317.9,789.3 315.7,792.0C313.4,794.8 311.0,799.0 309.0,802.0C307.0,805.0 304.3,809.0 302.3,812.0C300.3,815.0 298.0,819.3 295.7,822.0C294.5,823.4 292.2,826.3 290.7,825.3C288.4,823.9 287.3,819.7 287.3,817.0C287.3,813.4 290.7,809.0 290.7,805.3C290.7,802.2 287.9,798.5 287.3,795.3C286.3,789.4 284.1,781.2 285.7,775.3Z" fill="#d6556d" stroke="#d6556d" stroke-width="0.7"/>
<path d="M295.7,782.0C297.3,778.3 300.0,773.6 302.3,770.3C304.0,768.0 306.7,765.4 309.0,763.7C310.8,762.3 313.4,760.1 315.7,760.3C318.1,760.6 321.0,763.2 322.3,765.3C323.4,767.0 323.7,770.0 323.2,772.0C322.6,774.3 320.6,776.9 319.0,778.7C317.3,780.5 314.0,781.8 312.3,783.7C310.4,785.9 309.1,789.7 307.3,792.0C306.1,793.7 304.4,796.4 302.3,797.0C300.4,797.6 297.1,796.8 295.7,795.3C294.2,793.9 294.0,790.7 294.0,788.7C294.0,786.6 294.8,783.9 295.7,782.0Z" fill="#ea7457" stroke="#ea7457" stroke-width="0.7"/>
<path d="M342.2,757.0C342.2,757.7 341.9,758.6 341.5,759.2C341.1,759.7 340.3,760.3 339.6,760.5C339.0,760.7 338.0,760.7 337.4,760.5C336.7,760.3 335.9,759.7 335.5,759.2C335.1,758.6 334.8,757.7 334.8,757.0C334.8,756.3 335.1,755.4 335.5,754.8C335.9,754.3 336.7,753.7 337.4,753.5C338.0,753.3 339.0,753.3 339.6,753.5C340.3,753.7 341.1,754.3 341.5,754.8C341.9,755.4 342.2,756.3 342.2,757.0Z" fill="#ea7457" stroke="#ea7457" stroke-width="0.7"/>
<path d="M756.7,788.7C757.7,788.8 756.9,791.0 756.7,792.0C755.9,794.6 753.6,797.7 753.3,800.3C753.1,802.9 755.1,806.1 755.0,808.7C754.9,811.8 753.1,815.6 752.5,818.7C751.8,822.1 750.4,826.8 750.8,830.3C751.2,833.6 753.2,837.6 755.0,840.3C756.5,842.7 760.1,844.6 761.7,847.0C763.2,849.2 765.5,852.7 765.0,855.3C764.4,858.5 759.4,860.7 758.3,863.7C757.3,866.5 757.8,870.7 758.3,873.7C758.8,876.3 761.5,879.3 761.7,882.0C761.8,884.6 759.4,887.7 759.2,890.3C758.9,893.3 759.6,897.4 760.0,900.3C760.3,902.9 761.8,906.1 761.7,908.7C761.5,911.3 758.1,914.6 759.2,917.0C760.5,920.1 765.7,921.5 768.3,923.7C770.5,925.5 773.1,928.2 775.0,930.3C777.1,932.7 779.8,936.0 781.7,938.7C783.3,941.1 786.1,944.1 786.7,947.0C787.2,950.0 785.3,954.0 785.0,957.0C784.8,960.0 784.5,964.0 785.0,967.0C785.5,969.6 788.7,972.7 788.3,975.3C788.1,977.4 785.2,979.4 783.3,980.3C781.1,981.5 777.4,981.2 775.0,982.0C772.9,982.7 769.3,983.3 768.3,985.3C767.4,987.2 768.7,990.4 770.0,992.0C771.9,994.2 775.8,995.5 778.3,997.0C780.8,998.5 784.9,999.7 786.7,1002.0C788.2,1004.0 788.6,1007.8 788.3,1010.3C788.1,1013.0 785.2,1016.0 785.0,1018.7C784.7,1021.7 785.8,1025.8 786.7,1028.7C787.3,1030.8 789.7,1033.1 790.0,1035.3C790.3,1037.4 788.5,1039.9 788.3,1042.0C788.0,1045.0 791.2,1051.1 788.3,1052.0C779.7,1054.8 767.0,1052.0 757.9,1052.0C748.8,1052.0 736.6,1052.0 727.5,1052.0C718.4,1052.0 706.2,1052.0 697.1,1052.0C688.0,1052.0 675.8,1052.0 666.7,1052.0C657.5,1052.0 645.4,1052.0 636.2,1052.0C627.1,1052.0 615.0,1052.0 605.8,1052.0C596.7,1052.0 584.5,1052.0 575.4,1052.0C566.3,1052.0 553.7,1054.8 545.0,1052.0C542.2,1051.1 544.3,1044.9 545.0,1042.0C545.4,1040.2 547.4,1038.5 548.3,1037.0C549.9,1034.5 552.0,1031.3 553.3,1028.7C554.8,1025.8 556.9,1021.9 557.5,1018.7C557.9,1016.2 557.2,1012.8 556.7,1010.3C556.0,1007.2 553.7,1003.5 553.3,1000.3C552.9,996.8 553.9,992.2 554.2,988.7C554.4,985.2 553.4,980.1 555.0,977.0C556.0,975.0 559.5,974.4 561.7,973.7C564.1,972.9 567.8,973.4 570.0,972.0C572.1,970.7 573.2,967.1 575.0,965.3C576.8,963.6 579.5,961.5 581.7,960.3C584.0,959.0 587.3,957.3 590.0,957.0C592.0,956.8 594.8,959.5 596.7,958.7C599.0,957.7 600.0,953.9 601.7,952.0C603.5,949.9 606.7,947.6 608.3,945.3C610.0,943.1 612.5,939.8 612.5,937.0C612.5,934.6 610.3,931.6 608.3,930.3C606.6,929.3 603.5,929.4 601.7,930.3C599.1,931.6 597.4,935.5 595.0,937.0C592.3,938.6 588.1,939.8 585.0,940.3C582.0,940.8 577.7,941.7 575.0,940.3C572.1,938.9 570.1,934.7 568.3,932.0C566.8,929.7 564.6,926.4 564.2,923.7C563.6,920.2 566.2,915.3 565.0,912.0C564.2,909.6 559.9,908.9 558.3,907.0C557.3,905.8 557.9,903.0 556.7,902.0C554.3,900.2 549.6,900.7 547.5,898.7C546.4,897.6 547.0,894.4 548.3,893.7C551.5,892.0 556.7,893.4 560.0,892.0C563.0,890.8 565.9,887.5 568.3,885.3C570.4,883.5 573.0,880.7 575.0,878.7C577.0,876.7 580.3,874.5 581.7,872.0C582.9,869.8 584.0,866.1 583.3,863.7C582.8,861.6 580.3,859.5 578.3,858.7C575.6,857.4 571.3,857.5 568.3,857.0C564.8,856.5 560.0,856.5 556.7,855.3C554.3,854.5 550.0,852.8 550.0,850.3C550.0,848.3 554.6,848.4 556.7,848.7C559.3,849.0 562.4,852.9 565.0,852.0C567.0,851.3 565.0,846.6 566.7,845.3C569.6,843.1 575.0,843.5 578.3,842.0C580.6,841.0 585.0,839.5 585.0,837.0C585.0,834.8 580.4,834.5 578.3,833.7C575.4,832.5 571.2,831.6 568.3,830.3C565.7,829.1 562.4,827.0 560.0,825.3C557.4,823.5 553.4,821.3 551.7,818.7C550.3,816.5 549.7,812.9 550.0,810.3C550.3,807.7 552.1,804.4 553.3,802.0C554.1,800.4 555.6,798.4 556.7,797.0C558.6,794.4 560.2,789.3 563.3,788.7C572.8,786.6 585.9,788.7 595.6,788.7C605.2,788.7 618.1,788.7 627.8,788.7C637.4,788.7 650.3,788.7 660.0,788.7C669.7,788.7 682.6,788.7 692.2,788.7C701.9,788.7 714.8,788.7 724.4,788.7C734.1,788.7 747.1,787.7 756.7,788.7Z" fill="#bf3984" stroke="#bf3984" stroke-width="0.7"/>
<path d="M546.0,835.3C546.0,835.8 545.5,836.5 545.1,836.8C544.5,837.2 543.5,837.6 542.8,837.7C541.9,837.9 540.7,837.9 539.9,837.7C539.2,837.6 538.2,837.2 537.6,836.8C537.1,836.5 536.7,835.8 536.7,835.3C536.7,834.8 537.1,834.2 537.6,833.9C538.2,833.4 539.2,833.1 539.9,833.0C540.7,832.8 541.9,832.8 542.8,833.0C543.5,833.1 544.5,833.4 545.1,833.9C545.5,834.2 546.0,834.8 546.0,835.3Z" fill="#bf3984" stroke="#bf3984" stroke-width="0.7"/>
<path d="M531.7,842.0C534.2,841.0 537.8,843.8 540.0,845.3C541.6,846.4 544.2,848.4 544.2,850.3C544.2,851.7 541.3,852.2 540.0,852.0C537.3,851.6 533.4,850.7 531.7,848.7C530.4,847.1 529.8,842.7 531.7,842.0Z" fill="#bf3984" stroke="#bf3984" stroke-width="0.7"/>
<path d="M663.3,829.5C665.6,829.5 667.5,833.2 668.3,835.3C669.6,838.6 670.1,843.5 670.0,847.0C669.9,850.6 668.3,855.2 667.5,858.7C666.8,861.7 665.9,865.7 665.0,868.7C664.1,871.7 663.1,875.8 661.7,878.7C660.5,880.9 658.9,884.2 656.7,885.3C654.9,886.2 651.8,885.4 650.0,884.5C647.6,883.3 644.7,881.0 643.3,878.7C642.0,876.5 641.9,872.9 641.7,870.3C641.4,866.8 641.4,862.2 641.7,858.7C641.9,855.1 642.1,850.3 643.3,847.0C644.2,844.7 646.6,842.1 648.3,840.3C650.1,838.6 653.0,836.8 655.0,835.3C657.5,833.5 660.3,829.5 663.3,829.5Z" fill="#d6556d" stroke="#d6556d" stroke-width="0.7"/>
<path d="M640.8,870.3C641.8,868.9 645.1,869.6 646.7,870.3C648.6,871.2 651.1,873.3 651.7,875.3C652.2,877.3 651.4,880.5 650.0,882.0C648.6,883.6 645.3,885.2 643.3,884.5C641.5,883.8 641.2,880.5 640.8,878.7C640.4,876.2 639.4,872.4 640.8,870.3Z" fill="#ea7457" stroke="#ea7457" stroke-width="0.7"/>
<path d="M621.7,888.7C622.8,886.7 626.1,885.3 628.3,885.3C631.0,885.3 634.0,888.7 636.7,888.7C638.5,888.7 639.9,885.3 641.7,885.3C644.8,885.3 648.5,888.7 651.7,888.7C653.9,888.7 656.7,883.8 658.3,885.3C660.6,887.3 659.8,892.4 659.2,895.3C658.7,897.2 656.8,899.7 655.0,900.3C653.5,900.9 651.1,899.8 650.0,898.7C648.4,897.1 648.9,892.0 646.7,892.0C644.6,892.0 644.8,896.6 645.0,898.7C645.3,901.8 646.4,906.1 648.3,908.7C649.7,910.5 652.8,911.7 655.0,912.0C657.0,912.3 659.7,909.8 661.7,910.3C663.7,910.9 667.0,913.2 666.7,915.3C666.3,917.8 662.1,918.9 660.0,920.3C657.6,922.0 654.4,924.3 651.7,925.3C649.8,926.1 646.9,927.0 645.0,926.2C642.9,925.3 640.8,922.5 640.0,920.3C638.7,917.0 639.3,912.1 638.3,908.7C637.7,906.5 636.6,903.6 635.0,902.0C633.4,900.4 630.2,900.0 628.3,898.7C626.6,897.4 624.5,895.4 623.3,893.7C622.5,892.4 620.9,890.0 621.7,888.7Z" fill="#d6556d" stroke="#d6556d" stroke-width="0.7"/>
<path d="M628.3,937.0C629.7,935.2 632.8,933.7 635.0,933.7C637.2,933.7 640.3,935.2 641.7,937.0C643.3,939.1 644.4,942.7 644.2,945.3C643.9,948.1 641.6,951.4 640.0,953.7C638.3,956.0 635.3,958.3 633.3,960.3C631.3,962.5 629.6,967.3 626.7,967.8C624.8,968.2 624.3,963.9 624.2,962.0C624.0,959.0 625.3,955.0 625.8,952.0C626.3,949.5 627.1,946.2 627.5,943.7C627.8,941.7 627.1,938.6 628.3,937.0Z" fill="#d6556d" stroke="#d6556d" stroke-width="0.7"/>
<path d="M701.9,890.9C702.2,891.4 702.1,892.3 701.9,892.8C701.6,893.6 700.9,894.5 700.3,895.1C699.6,895.8 698.5,896.6 697.6,897.0C696.8,897.4 695.7,897.8 694.9,897.8C694.3,897.8 693.5,897.5 693.1,897.1C692.8,896.6 692.9,895.7 693.1,895.2C693.4,894.4 694.1,893.5 694.7,892.9C695.4,892.2 696.5,891.4 697.4,891.0C698.2,890.6 699.3,890.2 700.1,890.2C700.7,890.2 701.5,890.5 701.9,890.9Z" fill="#d6556d" stroke="#d6556d" stroke-width="0.7"/>
<path d="M710.0,940.3C710.7,938.9 713.8,941.0 715.0,942.0C716.4,943.1 718.2,945.2 718.3,947.0C718.5,948.9 717.7,952.4 715.8,952.8C714.1,953.3 712.4,950.3 711.7,948.7C710.6,946.4 708.9,942.6 710.0,940.3Z" fill="#d6556d" stroke="#d6556d" stroke-width="0.7"/>
<path d="M719.2,962.8C720.9,962.0 720.7,967.0 721.7,968.7C723.0,970.8 724.8,973.6 726.7,975.3C728.1,976.7 731.6,976.9 732.5,978.7C733.4,980.5 733.3,984.2 731.7,985.3C730.0,986.5 726.8,984.6 725.0,983.7C723.0,982.6 720.2,980.7 719.2,978.7C718.0,976.4 718.3,972.8 718.3,970.3C718.3,968.1 717.1,963.8 719.2,962.8Z" fill="#d6556d" stroke="#d6556d" stroke-width="0.7"/>
<path d="M745.0,998.7C745.6,997.3 747.9,995.5 749.2,996.2C751.1,997.3 752.3,1000.6 752.5,1002.8C752.6,1004.3 751.4,1006.8 750.0,1007.0C748.4,1007.2 746.7,1005.0 745.8,1003.7C745.1,1002.4 744.4,1000.1 745.0,998.7Z" fill="#d6556d" stroke="#d6556d" stroke-width="0.7"/>
<path d="M734.2,788.7C736.8,786.4 743.4,786.2 745.8,788.7C748.0,790.8 745.7,796.1 744.2,798.7C743.2,800.3 740.2,801.3 738.3,801.2C736.9,801.0 735.4,799.2 735.0,797.8C734.1,795.2 732.1,790.5 734.2,788.7Z" fill="#d6556d" stroke="#d6556d" stroke-width="0.7"/>
<path d="M746.2,912.3C746.2,912.7 745.8,913.3 745.5,913.5C745.0,913.9 744.2,914.1 743.6,914.2C743.0,914.4 742.0,914.4 741.4,914.2C740.8,914.1 740.0,913.9 739.5,913.5C739.2,913.3 738.8,912.7 738.8,912.3C738.8,911.9 739.2,911.4 739.5,911.2C740.0,910.8 740.8,910.5 741.4,910.4C742.0,910.3 743.0,910.3 743.6,910.4C744.2,910.5 745.0,910.8 745.5,911.2C745.8,911.4 746.2,911.9 746.2,912.3Z" fill="#d6556d" stroke="#d6556d" stroke-width="0.7"/>
<path d="M662.8,799.4C662.4,799.8 661.7,800.2 661.1,800.3C660.5,800.4 659.6,800.2 659.0,799.9C658.4,799.6 657.7,799.0 657.3,798.5C656.9,797.9 656.6,797.1 656.6,796.4C656.6,795.9 656.8,795.1 657.2,794.6C657.6,794.2 658.3,793.8 658.9,793.7C659.5,793.6 660.4,793.8 661.0,794.1C661.6,794.4 662.3,795.0 662.7,795.5C663.1,796.1 663.4,796.9 663.4,797.6C663.4,798.1 663.2,798.9 662.8,799.4Z" fill="#d6556d" stroke="#d6556d" stroke-width="0.7"/>
<path d="M583.3,788.7C580.4,789.5 583.4,796.1 585.0,798.7C586.2,800.6 589.5,801.7 591.7,802.0C594.6,802.4 598.7,800.9 601.7,801.2C604.3,801.4 607.5,802.9 610.0,803.7C613.5,804.7 618.5,805.3 621.7,807.0C624.1,808.4 625.9,812.2 628.3,813.7C630.1,814.8 633.0,815.6 635.0,815.3C637.2,815.1 639.6,811.2 641.7,812.0C644.7,813.1 645.3,819.5 648.3,820.3C650.4,820.9 652.3,817.2 653.3,815.3C654.4,813.5 653.5,810.1 655.0,808.7C656.5,807.2 659.6,807.0 661.7,807.0C663.7,807.0 666.9,807.2 668.3,808.7C670.2,810.6 671.0,814.4 671.7,817.0C672.5,819.9 672.2,824.2 673.3,827.0C674.3,829.3 677.1,831.5 678.3,833.7C679.6,836.0 680.7,839.5 681.7,842.0C683.0,845.5 685.2,850.0 685.8,853.7C686.2,855.6 685.8,858.5 685.0,860.3C684.2,862.1 682.2,866.7 680.8,865.3C678.7,863.2 680.6,858.3 680.0,855.3C679.4,852.2 677.7,848.3 676.7,845.3C675.7,842.8 674.1,839.6 673.3,837.0C672.3,833.6 672.0,828.7 670.8,825.3C669.9,822.7 664.5,818.8 666.7,817.0C669.1,814.9 673.6,820.9 676.7,820.3C679.8,819.8 682.9,816.1 685.0,813.7C686.5,812.0 686.9,808.7 688.3,807.0C689.5,805.6 693.0,805.4 693.3,803.7C693.7,801.5 690.7,799.1 690.0,797.0C689.2,794.6 690.8,789.2 688.3,788.7C678.1,786.3 663.8,788.7 653.3,788.7C642.8,788.7 628.8,788.7 618.3,788.7C607.8,788.7 593.4,785.6 583.3,788.7Z" fill="#a11b9b" stroke="#a11b9b" stroke-width="0.7"/>
<path d="M662.8,799.4C662.4,799.8 661.7,800.2 661.1,800.3C660.5,800.4 659.6,800.2 659.0,799.9C658.4,799.6 657.7,799.0 657.3,798.5C656.9,797.9 656.6,797.1 656.6,796.4C656.6,795.9 656.8,795.1 657.2,794.6C657.6,794.2 658.3,793.8 658.9,793.7C659.5,793.6 660.4,793.8 661.0,794.1C661.6,794.4 662.3,795.0 662.7,795.5C663.1,796.1 663.4,796.9 663.4,797.6C663.4,798.1 663.2,798.9 662.8,799.4Z" fill="#d6556d" stroke="#d6556d" stroke-width="0.7"/>
<path d="M625.0,788.7C631.7,785.3 643.2,785.4 650.0,788.7C653.2,790.2 649.9,796.9 649.2,800.3C648.8,802.0 648.3,805.3 646.7,805.3C644.5,805.3 643.5,801.5 641.7,800.3C639.4,798.9 635.5,798.5 633.3,797.0C630.4,795.0 621.8,790.2 625.0,788.7Z" fill="#7e03a8" stroke="#7e03a8" stroke-width="0.7"/>
<path d="M671.7,788.7C673.9,785.9 681.4,785.8 683.3,788.7C685.2,791.5 680.4,796.0 678.3,798.7C677.3,800.0 674.3,802.6 673.3,801.2C671.2,798.0 669.3,791.6 671.7,788.7Z" fill="#7e03a8" stroke="#7e03a8" stroke-width="0.7"/>
<path d="M621.7,832.0C622.3,830.8 624.6,829.7 625.8,830.3C628.2,831.5 629.6,835.3 631.7,837.0C633.4,838.4 637.0,838.5 638.3,840.3C639.8,842.4 640.1,846.1 640.0,848.7C639.9,851.3 638.9,854.8 637.5,857.0C636.3,859.0 633.5,860.6 631.7,862.0C630.0,863.3 627.4,864.7 625.8,866.2C624.4,867.5 623.6,871.3 621.7,871.2C619.4,871.0 617.8,867.4 616.7,865.3C615.7,863.5 614.5,860.7 615.0,858.7C615.6,856.2 618.8,854.2 620.0,852.0C621.3,849.6 622.9,846.3 623.3,843.7C623.7,841.7 622.8,839.0 622.5,837.0C622.3,835.5 621.0,833.4 621.7,832.0Z" fill="#a11b9b" stroke="#a11b9b" stroke-width="0.7"/>
<path d="M606.7,921.2C607.7,919.3 611.6,919.9 613.3,918.7C615.7,917.1 617.9,913.9 620.0,912.0C621.9,910.4 624.4,908.1 626.7,907.0C628.5,906.1 631.4,904.7 633.3,905.3C635.0,905.9 636.3,908.6 636.7,910.3C637.1,912.8 636.7,916.3 635.8,918.7C635.1,920.5 633.3,922.6 631.7,923.7C629.9,924.7 626.9,924.5 625.0,925.3C622.8,926.3 620.5,928.6 618.3,929.5C616.7,930.2 614.2,930.9 612.5,930.3C611.0,929.8 610.0,927.5 609.2,926.2C608.3,924.8 605.9,922.6 606.7,921.2Z" fill="#a11b9b" stroke="#a11b9b" stroke-width="0.7"/>
<path d="M634.4,917.1C634.1,918.1 633.3,919.2 632.6,919.8C631.9,920.4 630.7,920.9 629.9,920.9C629.1,920.9 627.9,920.5 627.3,920.0C626.7,919.4 626.1,918.3 626.0,917.4C625.8,916.5 625.9,915.1 626.3,914.2C626.6,913.3 627.4,912.1 628.1,911.5C628.8,911.0 629.9,910.5 630.8,910.4C631.6,910.4 632.7,910.8 633.3,911.4C634.0,911.9 634.5,913.1 634.7,913.9C634.9,914.9 634.7,916.2 634.4,917.1Z" fill="#7e03a8" stroke="#7e03a8" stroke-width="0.7"/>
<path d="M659.2,927.0C660.2,925.2 663.0,924.0 665.0,923.7C667.5,923.2 670.9,925.2 673.3,924.5C675.7,923.8 677.6,920.2 680.0,919.5C681.9,918.9 685.0,919.2 686.7,920.3C688.0,921.2 688.9,923.8 688.3,925.3C687.7,927.2 685.1,928.7 683.3,929.5C681.5,930.3 678.7,930.4 676.7,930.3C674.1,930.2 670.9,928.8 668.3,928.7C666.3,928.6 663.6,929.9 661.7,929.5C660.6,929.3 658.6,927.9 659.2,927.0Z" fill="#a11b9b" stroke="#a11b9b" stroke-width="0.7"/>
<path d="M723.7,922.7C723.0,924.0 721.4,925.4 720.0,926.0C718.3,926.7 715.7,927.0 713.9,926.9C711.7,926.7 708.9,925.9 707.0,925.0C705.0,924.1 702.6,922.4 701.1,920.9C699.8,919.5 698.3,917.4 697.8,915.6C697.3,914.2 697.4,912.0 698.0,910.7C698.6,909.3 700.3,907.9 701.7,907.3C703.4,906.6 705.9,906.3 707.8,906.5C709.9,906.6 712.8,907.4 714.7,908.4C716.7,909.3 719.1,910.9 720.6,912.5C721.9,913.8 723.4,915.9 723.9,917.7C724.3,919.1 724.3,921.3 723.7,922.7Z" fill="#a11b9b" stroke="#a11b9b" stroke-width="0.7"/>
<path d="M718.3,920.0C717.9,921.0 716.4,921.9 715.4,922.1C713.9,922.5 711.9,922.3 710.4,922.0C708.8,921.5 706.7,920.6 705.3,919.6C704.1,918.7 702.6,917.2 702.0,915.9C701.5,914.9 701.2,913.3 701.7,912.3C702.1,911.3 703.6,910.4 704.6,910.2C706.1,909.8 708.1,910.0 709.6,910.4C711.2,910.8 713.3,911.8 714.7,912.8C715.9,913.6 717.4,915.1 718.0,916.5C718.5,917.4 718.8,919.1 718.3,920.0Z" fill="#7e03a8" stroke="#7e03a8" stroke-width="0.7"/>
<path d="M713.9,918.0C713.7,918.4 713.1,918.8 712.6,918.9C711.9,919.0 710.9,918.9 710.3,918.7C709.5,918.5 708.5,918.1 707.8,917.6C707.3,917.2 706.6,916.5 706.2,915.9C706.0,915.5 705.9,914.8 706.1,914.3C706.3,913.9 706.9,913.5 707.4,913.4C708.1,913.3 709.1,913.4 709.7,913.6C710.5,913.8 711.5,914.3 712.2,914.7C712.7,915.1 713.4,915.8 713.8,916.4C714.0,916.8 714.1,917.6 713.9,918.0Z" fill="#5601a4" stroke="#5601a4" stroke-width="0.7"/>
<path d="M618.3,949.5C619.2,948.9 621.7,947.6 621.7,948.7C621.7,951.8 619.1,955.6 618.3,958.7C617.6,961.6 616.4,965.6 616.7,968.7C616.9,970.9 618.9,973.4 620.0,975.3C620.9,976.9 623.6,978.5 623.3,980.3C623.0,982.8 619.8,985.0 618.3,987.0C616.8,989.0 615.7,993.0 613.3,993.7C611.2,994.3 608.2,991.9 606.7,990.3C604.6,988.3 603.0,984.6 601.7,982.0C600.5,979.6 599.4,976.1 598.3,973.7C597.9,972.6 596.1,971.3 596.7,970.3C598.4,967.3 602.5,964.5 605.0,962.0C607.0,960.0 609.6,957.3 611.7,955.3C613.6,953.5 616.1,951.0 618.3,949.5Z" fill="#a11b9b" stroke="#a11b9b" stroke-width="0.7"/>
<path d="M705.9,835.3C705.6,836.0 705.1,837.0 704.6,837.5C704.2,838.0 703.5,838.5 702.9,838.6C702.5,838.7 701.9,838.5 701.6,838.1C701.2,837.7 701.0,836.8 701.0,836.2C701.0,835.5 701.2,834.4 701.5,833.7C701.7,833.0 702.3,832.0 702.8,831.5C703.2,831.0 703.8,830.5 704.4,830.4C704.8,830.3 705.5,830.5 705.8,830.9C706.1,831.3 706.3,832.2 706.3,832.8C706.3,833.5 706.1,834.6 705.9,835.3Z" fill="#a11b9b" stroke="#a11b9b" stroke-width="0.7"/>
<path d="M714.6,845.0C714.8,845.5 714.4,846.3 714.1,846.7C713.5,847.4 712.4,848.0 711.6,848.5C710.7,849.0 709.3,849.5 708.2,849.7C707.3,849.9 706.1,850.0 705.2,849.9C704.7,849.8 703.9,849.5 703.7,849.0C703.5,848.5 703.9,847.7 704.3,847.3C704.9,846.6 705.9,846.0 706.7,845.5C707.7,845.0 709.0,844.5 710.1,844.3C711.0,844.1 712.2,844.0 713.1,844.1C713.7,844.2 714.5,844.5 714.6,845.0Z" fill="#a11b9b" stroke="#a11b9b" stroke-width="0.7"/>
<path d="M755.8,992.0C756.6,990.3 760.0,988.6 761.7,989.5C763.8,990.7 763.7,994.9 765.0,997.0C766.4,999.2 769.5,1001.4 770.8,1003.7C771.6,1005.0 772.3,1007.3 771.7,1008.7C770.9,1010.3 768.4,1012.5 766.7,1012.0C764.1,1011.2 762.3,1007.5 760.8,1005.3C759.6,1003.5 758.3,1000.8 757.5,998.7C756.8,996.7 755.0,993.9 755.8,992.0Z" fill="#a11b9b" stroke="#a11b9b" stroke-width="0.7"/>
<path d="M743.6,979.5C743.9,980.6 744.2,982.1 744.2,983.2C744.2,983.9 744.2,985.0 743.8,985.7C743.6,986.0 742.9,986.2 742.6,986.0C742.0,985.6 741.4,984.7 741.1,984.0C740.5,983.0 740.0,981.6 739.7,980.5C739.4,979.4 739.2,977.9 739.1,976.8C739.1,976.1 739.1,975.0 739.5,974.3C739.7,974.0 740.4,973.8 740.7,974.0C741.4,974.4 741.9,975.3 742.3,976.0C742.8,977.0 743.3,978.4 743.6,979.5Z" fill="#a11b9b" stroke="#a11b9b" stroke-width="0.7"/>
<path d="M615.0,1003.7C615.4,1001.9 616.7,999.4 618.3,998.7C620.2,997.9 623.0,999.2 625.0,999.5C626.5,999.7 629.6,998.9 630.0,1000.3C630.4,1001.7 627.3,1002.6 625.8,1002.8C624.1,1003.1 621.7,1001.4 620.0,1002.0C618.5,1002.5 618.2,1005.7 616.7,1006.2C615.8,1006.5 614.8,1004.5 615.0,1003.7Z" fill="#a11b9b" stroke="#a11b9b" stroke-width="0.7"/>
<path d="M639.4,1010.0C639.0,1010.4 638.3,1010.7 637.7,1010.7C637.1,1010.7 636.1,1010.4 635.5,1010.1C634.8,1009.7 634.0,1009.1 633.6,1008.4C633.1,1007.9 632.7,1007.0 632.6,1006.4C632.5,1005.8 632.6,1005.1 633.0,1004.7C633.3,1004.3 634.1,1004.0 634.6,1004.0C635.3,1003.9 636.2,1004.2 636.8,1004.6C637.5,1004.9 638.3,1005.6 638.8,1006.2C639.2,1006.8 639.7,1007.6 639.8,1008.3C639.8,1008.8 639.7,1009.6 639.4,1010.0Z" fill="#a11b9b" stroke="#a11b9b" stroke-width="0.7"/>
<path d="M652.5,1024.0C652.5,1024.6 652.1,1025.5 651.7,1026.0C651.2,1026.5 650.3,1027.0 649.6,1027.2C648.9,1027.4 647.8,1027.4 647.0,1027.2C646.3,1027.0 645.4,1026.5 645.0,1026.0C644.5,1025.5 644.2,1024.6 644.2,1024.0C644.2,1023.4 644.5,1022.5 645.0,1022.0C645.4,1021.5 646.3,1021.0 647.0,1020.8C647.8,1020.6 648.9,1020.6 649.6,1020.8C650.3,1021.0 651.2,1021.5 651.7,1022.0C652.1,1022.5 652.5,1023.4 652.5,1024.0Z" fill="#a11b9b" stroke="#a11b9b" stroke-width="0.7"/>
<path d="M662.5,1028.7C663.3,1027.3 665.1,1025.0 666.7,1025.3C668.6,1025.7 670.1,1028.5 670.8,1030.3C672.2,1033.7 672.9,1038.4 673.3,1042.0C673.7,1045.0 675.4,1049.8 673.3,1052.0C671.5,1054.0 665.6,1054.3 664.2,1052.0C661.2,1047.3 662.1,1039.2 661.7,1033.7C661.6,1032.1 661.7,1030.0 662.5,1028.7Z" fill="#a11b9b" stroke="#a11b9b" stroke-width="0.7"/>
<path d="M670.1,887.6C669.9,888.4 669.4,889.5 668.9,890.1C668.6,890.6 668.0,891.3 667.4,891.5C667.0,891.6 666.3,891.4 666.0,891.1C665.6,890.6 665.4,889.8 665.3,889.2C665.2,888.3 665.4,887.2 665.6,886.4C665.8,885.6 666.2,884.5 666.7,883.9C667.1,883.4 667.7,882.7 668.3,882.5C668.7,882.4 669.4,882.6 669.7,882.9C670.1,883.4 670.3,884.2 670.4,884.8C670.4,885.7 670.3,886.8 670.1,887.6Z" fill="#a11b9b" stroke="#a11b9b" stroke-width="0.7"/>
<path d="M257.3,968.7C263.2,964.8 275.2,964.3 280.7,968.7C285.4,972.4 282.1,982.7 282.3,988.7C282.6,993.7 282.0,1000.3 282.3,1005.3C282.7,1010.4 283.8,1017.0 284.8,1022.0C285.8,1027.1 287.7,1033.7 289.0,1038.7C289.9,1042.2 292.3,1046.7 292.3,1050.3C292.3,1053.0 291.3,1057.3 289.0,1058.7C287.5,1059.6 285.8,1055.6 284.0,1055.3C282.0,1055.0 279.4,1057.3 277.3,1057.0C275.1,1056.7 271.3,1055.8 270.7,1053.7C269.9,1051.1 273.1,1047.9 274.0,1045.3C275.1,1042.4 276.7,1038.4 277.3,1035.3C278.2,1031.4 279.3,1026.0 279.0,1022.0C278.8,1019.3 276.5,1016.2 275.7,1013.7C274.5,1010.2 273.6,1005.4 272.3,1002.0C271.1,998.9 269.0,994.9 267.3,992.0C265.5,988.9 262.1,985.3 260.7,982.0C259.0,978.2 253.9,971.0 257.3,968.7Z" fill="#bf3984" stroke="#bf3984" stroke-width="0.7"/>
<path d="M279.0,1080.3C279.9,1079.0 282.7,1077.8 284.0,1078.7C286.4,1080.3 287.4,1084.5 289.0,1087.0C290.9,1090.0 293.8,1093.9 295.7,1097.0C296.8,1098.9 299.3,1101.4 299.0,1103.7C298.7,1106.1 295.0,1108.0 294.0,1110.3C293.0,1112.7 292.1,1116.1 292.3,1118.7C292.6,1121.3 293.0,1126.6 295.7,1127.0C298.5,1127.5 299.7,1121.3 302.3,1120.3C304.3,1119.6 307.4,1120.8 309.0,1122.0C311.6,1123.9 313.4,1128.1 315.7,1130.3C317.4,1132.1 320.6,1133.6 322.3,1135.3C325.1,1138.1 328.2,1142.3 330.7,1145.3C332.7,1147.8 335.5,1151.0 337.3,1153.7C339.0,1156.1 341.1,1159.3 342.3,1162.0C343.6,1164.9 344.0,1169.3 345.7,1172.0C347.1,1174.4 350.3,1176.7 352.3,1178.7C353.8,1180.2 357.0,1181.6 357.3,1183.7C357.6,1185.4 355.7,1188.2 354.0,1188.7C351.5,1189.4 348.2,1186.7 345.7,1187.0C343.0,1187.3 340.0,1190.1 337.3,1190.3C334.8,1190.6 331.4,1189.5 329.0,1188.7C326.9,1188.0 324.6,1185.6 322.3,1185.3C319.3,1185.0 315.4,1186.7 312.3,1187.0C309.3,1187.2 305.0,1188.3 302.3,1187.0C299.5,1185.6 297.1,1181.5 295.7,1178.7C294.5,1176.4 295.8,1172.1 294.0,1170.3C292.2,1168.5 288.1,1168.0 285.7,1168.7C283.6,1169.2 280.9,1171.6 280.7,1173.7C280.3,1176.8 282.6,1180.8 284.0,1183.7C285.1,1185.9 289.0,1187.8 289.0,1190.3C289.0,1192.5 286.0,1194.8 284.0,1195.3C282.0,1195.9 279.2,1194.6 277.3,1193.7C275.1,1192.5 271.6,1191.0 270.7,1188.7C268.9,1184.0 270.5,1176.8 269.0,1172.0C267.9,1168.6 264.5,1164.9 262.3,1162.0C260.5,1159.4 256.0,1156.9 255.7,1153.7C255.4,1150.8 258.9,1147.6 260.7,1145.3C262.4,1143.1 265.5,1140.8 267.3,1138.7C269.5,1136.3 272.0,1132.8 274.0,1130.3C276.0,1127.8 279.3,1124.9 280.7,1122.0C281.9,1119.2 282.1,1115.0 282.3,1112.0C282.6,1109.0 281.4,1104.8 282.3,1102.0C283.0,1100.0 287.3,1099.1 287.3,1097.0C287.3,1094.9 283.8,1093.6 282.3,1092.0C281.0,1090.6 278.7,1088.9 278.2,1087.0C277.6,1085.1 277.8,1082.0 279.0,1080.3Z" fill="#bf3984" stroke="#bf3984" stroke-width="0.7"/>
<path d="M225.7,1188.7C228.1,1185.9 233.8,1186.4 237.3,1185.3C239.8,1184.6 243.1,1182.6 245.7,1182.8C248.4,1183.1 252.0,1185.1 254.0,1187.0C255.6,1188.5 257.6,1191.4 257.3,1193.7C257.0,1196.1 254.2,1198.6 252.3,1200.3C250.6,1201.9 248.0,1204.2 245.7,1204.5C243.5,1204.8 241.0,1202.6 239.0,1202.0C237.0,1201.4 234.3,1200.8 232.3,1200.3C230.3,1199.8 226.7,1200.5 225.7,1198.7C224.2,1196.1 223.7,1190.9 225.7,1188.7Z" fill="#bf3984" stroke="#bf3984" stroke-width="0.7"/>
<path d="M245.7,1208.7C247.9,1206.2 252.7,1205.2 255.7,1203.7C257.7,1202.7 260.1,1200.0 262.3,1200.3C264.1,1200.6 266.1,1203.6 265.7,1205.3C264.9,1208.4 261.0,1211.2 259.0,1213.7C257.0,1216.2 253.4,1219.0 252.3,1222.0C251.3,1224.8 254.7,1230.2 252.3,1232.0C249.1,1234.4 242.2,1234.4 239.0,1232.0C236.6,1230.2 238.2,1224.9 239.0,1222.0C240.2,1217.7 242.7,1212.0 245.7,1208.7Z" fill="#bf3984" stroke="#bf3984" stroke-width="0.7"/>
<path d="M284.0,1198.7C286.0,1196.9 289.7,1196.0 292.3,1195.3C295.3,1194.5 299.3,1194.2 302.3,1193.7C305.3,1193.2 309.3,1192.5 312.3,1192.0C315.3,1191.5 319.4,1189.7 322.3,1190.3C324.8,1190.8 326.6,1194.7 329.0,1195.3C331.0,1195.8 333.6,1194.1 335.7,1193.7C338.6,1193.1 342.6,1191.7 345.7,1192.0C347.9,1192.2 351.5,1193.2 352.3,1195.3C353.4,1198.2 351.8,1202.5 350.7,1205.3C349.7,1207.7 347.7,1210.5 345.7,1212.0C343.5,1213.6 340.0,1215.3 337.3,1215.3C334.6,1215.3 331.5,1213.1 329.0,1212.0C327.0,1211.1 324.3,1209.7 322.3,1208.7C320.3,1207.7 317.8,1205.9 315.7,1205.3C313.7,1204.8 310.7,1204.3 309.0,1205.3C306.8,1206.6 305.3,1209.9 304.0,1212.0C302.3,1214.9 299.8,1218.7 299.0,1222.0C298.3,1224.9 301.7,1230.7 299.0,1232.0C293.6,1234.7 284.4,1234.7 279.0,1232.0C276.3,1230.7 279.2,1225.0 279.0,1222.0C278.7,1219.0 277.0,1215.0 277.3,1212.0C277.6,1209.8 279.7,1207.3 280.7,1205.3C281.7,1203.3 282.3,1200.1 284.0,1198.7Z" fill="#bf3984" stroke="#bf3984" stroke-width="0.7"/>
<path d="M337.3,978.7C339.6,977.2 343.0,975.3 345.7,975.3C348.8,975.3 352.9,977.2 355.7,978.7C358.5,980.2 361.6,983.2 364.0,985.3C366.1,987.2 367.9,991.3 370.7,992.0C372.8,992.5 375.4,987.6 377.3,988.7C379.6,989.9 379.2,994.5 379.8,997.0C380.7,1001.0 382.5,1006.3 382.3,1010.3C382.3,1012.1 380.2,1014.0 379.0,1015.3C377.2,1017.5 375.0,1021.1 372.3,1022.0C369.9,1022.8 366.1,1021.8 364.0,1020.3C362.2,1019.0 361.8,1015.6 360.7,1013.7C359.3,1011.1 357.3,1007.7 355.7,1005.3C353.8,1002.7 352.0,998.1 349.0,997.0C346.9,996.2 343.9,998.8 342.3,1000.3C340.3,1002.4 338.0,1005.8 337.3,1008.7C336.9,1010.2 337.5,1013.1 339.0,1013.7C340.9,1014.4 344.0,1013.1 345.7,1012.0C347.2,1011.0 347.2,1007.0 349.0,1007.0C351.1,1007.0 354.0,1009.9 354.0,1012.0C354.0,1013.8 350.7,1014.6 349.0,1015.3C347.1,1016.1 344.4,1017.3 342.3,1017.0C340.1,1016.7 337.1,1015.4 335.7,1013.7C333.9,1011.6 333.3,1007.9 332.3,1005.3C331.3,1002.4 329.3,998.5 329.0,995.3C328.7,992.3 329.3,988.1 330.7,985.3C331.9,982.8 335.0,980.2 337.3,978.7Z" fill="#bf3984" stroke="#bf3984" stroke-width="0.7"/>
<path d="M339.0,983.7C339.5,981.7 343.7,981.6 345.7,982.0C348.5,982.6 351.8,985.1 354.0,987.0C356.4,989.1 358.7,992.8 360.7,995.3C362.7,997.8 365.2,1001.3 367.3,1003.7C369.2,1005.8 373.1,1007.7 374.0,1010.3C374.4,1011.7 372.1,1013.9 370.7,1013.7C368.2,1013.3 365.8,1010.4 364.0,1008.7C361.7,1006.4 359.3,1002.8 357.3,1000.3C355.3,997.8 353.1,994.1 350.7,992.0C349.0,990.5 345.8,990.0 344.0,988.7C342.3,987.4 338.5,985.7 339.0,983.7Z" fill="#d6556d" stroke="#d6556d" stroke-width="0.7"/>
<path d="M339.0,1035.3C340.9,1032.7 345.8,1030.9 349.0,1031.2C352.5,1031.5 355.9,1035.3 359.0,1037.0C361.9,1038.6 365.7,1041.4 369.0,1042.0C372.0,1042.5 376.0,1040.3 379.0,1040.3C383.0,1040.3 388.6,1040.6 392.3,1042.0C394.2,1042.7 396.0,1045.1 396.5,1047.0C397.1,1049.4 396.1,1052.9 395.7,1055.3C395.3,1057.4 393.8,1060.0 394.0,1062.0C394.3,1064.7 396.0,1068.0 397.3,1070.3C398.8,1073.0 402.9,1075.6 403.2,1078.7C403.5,1081.9 400.2,1085.7 399.0,1088.7C398.0,1091.2 398.0,1095.7 395.7,1097.0C393.5,1098.3 389.7,1096.3 387.3,1095.3C384.6,1094.3 381.4,1092.0 379.0,1090.3C376.9,1088.9 374.8,1085.7 372.3,1085.3C370.5,1085.1 368.5,1087.3 367.3,1088.7C365.4,1090.9 364.4,1094.9 362.3,1097.0C361.2,1098.1 358.7,1099.4 357.3,1098.7C355.1,1097.5 354.5,1093.3 352.3,1092.0C350.2,1090.6 346.4,1091.1 344.0,1090.3C341.4,1089.6 338.2,1087.9 335.7,1087.0C332.7,1085.9 328.5,1085.1 325.7,1083.7C323.4,1082.5 320.6,1080.6 319.0,1078.7C318.4,1077.9 318.0,1075.6 319.0,1075.3C321.9,1074.6 326.0,1076.8 329.0,1076.2C331.3,1075.7 333.5,1073.0 335.7,1072.0C338.6,1070.7 342.7,1069.9 345.7,1068.7C348.8,1067.4 352.8,1065.4 355.7,1063.7C357.8,1062.4 362.3,1061.2 362.3,1058.7C362.3,1056.2 357.7,1055.1 355.7,1053.7C354.2,1052.6 351.7,1051.8 350.7,1050.3C349.1,1048.1 349.1,1044.1 347.3,1042.0C346.3,1040.8 343.6,1041.3 342.3,1040.3C340.9,1039.2 337.9,1036.8 339.0,1035.3Z" fill="#bf3984" stroke="#bf3984" stroke-width="0.7"/>
<path d="M372.3,1057.0C372.6,1055.4 375.9,1054.7 377.3,1055.3C379.9,1056.4 382.1,1059.9 384.0,1062.0C386.1,1064.4 389.8,1067.3 390.7,1070.3C391.1,1071.7 388.7,1073.9 387.3,1073.7C384.9,1073.3 382.6,1070.3 380.7,1068.7C379.1,1067.3 376.9,1065.4 375.7,1063.7C374.4,1061.8 371.9,1059.2 372.3,1057.0Z" fill="#d6556d" stroke="#d6556d" stroke-width="0.7"/>
<path d="M435.7,1092.0C436.9,1090.2 440.3,1089.0 442.3,1089.5C444.9,1090.1 446.8,1093.9 449.0,1095.3C450.3,1096.2 452.8,1098.1 454.0,1097.0C456.0,1095.3 455.9,1091.2 456.5,1088.7C456.9,1087.2 455.8,1083.7 457.3,1083.7C459.3,1083.7 461.0,1086.8 461.5,1088.7C462.3,1092.1 462.2,1096.9 461.5,1100.3C460.9,1103.1 459.0,1106.4 457.3,1108.7C455.7,1111.0 452.7,1113.3 450.7,1115.3C448.7,1117.3 445.9,1119.9 444.0,1122.0C442.4,1123.9 440.6,1126.8 439.0,1128.7C437.1,1130.8 435.0,1134.3 432.3,1135.3C430.4,1136.1 427.3,1134.9 425.7,1133.7C423.6,1132.2 421.5,1129.3 420.7,1127.0C420.0,1125.1 421.8,1122.0 420.7,1120.3C419.0,1118.0 413.8,1117.9 412.3,1115.3C411.3,1113.5 412.7,1110.3 414.0,1108.7C415.4,1106.9 418.5,1104.8 420.7,1105.3C423.4,1106.0 425.3,1110.0 427.3,1112.0C428.8,1113.5 430.4,1117.8 432.3,1117.0C434.8,1116.0 435.3,1111.3 435.7,1108.7C436.0,1106.2 434.8,1102.8 434.8,1100.3C434.8,1097.8 434.2,1094.1 435.7,1092.0Z" fill="#bf3984" stroke="#bf3984" stroke-width="0.7"/>
<path d="M375.7,1137.0C376.8,1135.0 378.4,1131.6 380.7,1131.2C383.3,1130.7 386.4,1133.8 389.0,1134.5C391.4,1135.1 395.4,1133.8 397.3,1135.3C399.5,1137.0 399.6,1141.2 400.7,1143.7C402.1,1146.7 403.8,1150.9 405.7,1153.7C407.8,1156.9 411.4,1160.8 414.0,1163.7C416.9,1166.8 420.8,1170.9 424.0,1173.7C427.3,1176.4 432.0,1179.8 435.7,1182.0C439.5,1184.3 445.0,1186.7 449.0,1188.7C453.0,1190.7 458.3,1193.3 462.3,1195.3C466.3,1197.3 471.6,1200.2 475.7,1202.0C478.6,1203.2 482.7,1204.1 485.7,1205.3C488.8,1206.6 492.3,1210.0 495.7,1210.3C497.9,1210.6 501.5,1209.1 502.3,1207.0C503.0,1205.3 500.4,1203.2 499.0,1202.0C496.3,1199.6 491.9,1197.5 489.0,1195.3C486.4,1193.5 483.0,1190.8 480.7,1188.7C477.5,1185.8 473.8,1181.5 470.7,1178.7C467.3,1175.5 462.4,1171.8 459.0,1168.7C455.9,1165.8 451.6,1162.0 449.0,1158.7C446.5,1155.5 443.1,1151.0 442.3,1147.0C442.0,1145.2 444.1,1142.9 445.7,1142.0C448.8,1140.2 453.8,1139.4 457.3,1138.7C460.8,1137.9 465.5,1137.7 469.0,1137.0C472.6,1136.2 477.3,1135.1 480.7,1133.7C483.4,1132.5 486.5,1130.2 489.0,1128.7C492.0,1126.7 496.1,1124.1 499.0,1122.0C501.6,1120.1 506.4,1118.4 507.3,1115.3C508.2,1112.3 505.0,1108.3 504.0,1105.3C503.0,1102.3 500.4,1098.5 500.7,1095.3C500.9,1092.0 505.2,1088.7 505.7,1085.3C506.2,1081.3 504.6,1076.0 504.0,1072.0C503.6,1069.0 501.4,1064.9 502.3,1062.0C503.1,1059.6 506.8,1058.1 509.0,1057.0C511.8,1055.6 516.3,1055.3 519.0,1053.7C521.4,1052.2 524.3,1049.5 525.7,1047.0C526.9,1044.8 525.4,1040.3 527.3,1038.7C530.1,1036.3 537.7,1031.9 539.0,1035.3C542.6,1044.5 539.0,1058.3 539.0,1068.1C539.0,1077.9 539.0,1091.1 539.0,1100.9C539.0,1110.7 539.0,1123.8 539.0,1133.7C539.0,1143.5 539.0,1156.6 539.0,1166.4C539.0,1176.3 539.0,1189.4 539.0,1199.2C539.0,1209.1 545.7,1224.8 539.0,1232.0C532.8,1238.7 517.7,1232.0 508.6,1232.0C499.5,1232.0 487.3,1232.0 478.2,1232.0C469.0,1232.0 456.9,1232.0 447.8,1232.0C438.6,1232.0 426.0,1234.8 417.3,1232.0C414.5,1231.1 418.4,1224.8 417.3,1222.0C416.2,1219.0 412.8,1216.1 410.7,1213.7C408.8,1211.6 406.5,1208.4 404.0,1207.0C401.8,1205.8 397.7,1206.9 395.7,1205.3C394.0,1204.0 394.1,1200.6 393.2,1198.7C392.1,1196.6 390.3,1193.9 389.0,1192.0C387.6,1189.9 385.3,1187.5 384.0,1185.3C382.3,1182.5 380.5,1178.3 379.0,1175.3C377.5,1172.3 375.3,1168.4 374.0,1165.3C372.8,1162.4 370.9,1158.5 370.7,1155.3C370.4,1152.3 371.5,1148.3 372.3,1145.3C373.0,1142.7 374.3,1139.3 375.7,1137.0Z" fill="#bf3984" stroke="#bf3984" stroke-width="0.7"/>
<path d="M452.3,1202.0C454.3,1199.5 459.2,1198.2 462.3,1198.7C466.8,1199.3 471.5,1203.8 475.7,1205.3C479.5,1206.8 484.9,1208.7 489.0,1208.7C492.2,1208.7 495.9,1204.6 499.0,1205.3C501.2,1205.9 502.9,1209.8 502.3,1212.0C501.6,1214.4 498.1,1216.5 495.7,1217.0C492.7,1217.6 488.7,1215.8 485.7,1215.3C482.7,1214.8 478.6,1214.6 475.7,1213.7C472.5,1212.6 468.8,1209.7 465.7,1208.7C462.8,1207.7 458.4,1208.4 455.7,1207.0C454.1,1206.2 451.2,1203.4 452.3,1202.0Z" fill="#d6556d" stroke="#d6556d" stroke-width="0.7"/>
<path d="M427.3,1183.7C429.3,1182.6 432.3,1185.5 434.0,1187.0C436.9,1189.6 440.1,1193.8 442.3,1197.0C444.6,1200.3 447.3,1205.0 449.0,1208.7C450.3,1211.5 452.8,1215.5 452.3,1218.7C452.1,1220.2 448.5,1221.4 447.3,1220.3C444.3,1217.7 442.7,1212.2 440.7,1208.7C438.7,1205.2 436.3,1200.3 434.0,1197.0C432.5,1194.8 429.4,1192.7 428.2,1190.3C427.3,1188.5 425.6,1184.7 427.3,1183.7Z" fill="#d6556d" stroke="#d6556d" stroke-width="0.7"/>
<path d="M406.1,992.0C405.7,992.9 405.0,994.2 404.4,995.0C403.9,995.5 403.2,996.2 402.5,996.5C402.2,996.6 401.6,996.3 401.4,995.9C401.2,995.3 401.3,994.3 401.4,993.6C401.6,992.6 402.1,991.3 402.5,990.3C403.0,989.4 403.7,988.2 404.3,987.4C404.8,986.8 405.5,986.1 406.1,985.9C406.5,985.8 407.1,986.1 407.2,986.4C407.5,987.1 407.4,988.1 407.2,988.7C407.1,989.8 406.6,991.1 406.1,992.0Z" fill="#bf3984" stroke="#bf3984" stroke-width="0.7"/>
<path d="M459.8,1002.0C460.3,997.9 462.8,992.5 465.7,989.5C467.0,988.0 471.0,987.1 472.3,988.7C473.7,990.2 471.7,993.5 470.7,995.3C469.1,998.1 466.7,1002.0 464.0,1003.7C462.9,1004.4 459.7,1003.3 459.8,1002.0Z" fill="#bf3984" stroke="#bf3984" stroke-width="0.7"/>
<path d="M459.8,1029.4C459.4,1031.2 458.7,1033.5 457.9,1035.2C457.4,1036.3 456.5,1037.8 455.5,1038.5C454.9,1038.8 453.8,1038.6 453.4,1038.1C452.8,1037.0 452.6,1035.3 452.6,1034.0C452.6,1032.2 452.9,1029.8 453.2,1028.0C453.6,1026.2 454.3,1023.8 455.1,1022.2C455.6,1021.0 456.5,1019.5 457.5,1018.8C458.1,1018.5 459.2,1018.7 459.6,1019.3C460.2,1020.3 460.4,1022.1 460.4,1023.3C460.4,1025.1 460.1,1027.6 459.8,1029.4Z" fill="#bf3984" stroke="#bf3984" stroke-width="0.7"/>
<path d="M464.2,1051.3C464.5,1052.6 464.7,1054.4 464.6,1055.7C464.4,1056.7 464.0,1058.2 463.3,1058.9C462.7,1059.4 461.5,1059.8 460.8,1059.6C459.8,1059.3 458.7,1058.3 458.1,1057.5C457.2,1056.4 456.5,1054.7 456.1,1053.4C455.8,1052.1 455.6,1050.3 455.8,1048.9C455.9,1047.9 456.4,1046.5 457.1,1045.8C457.6,1045.2 458.8,1044.9 459.6,1045.1C460.6,1045.4 461.7,1046.4 462.3,1047.2C463.1,1048.3 463.8,1050.0 464.2,1051.3Z" fill="#bf3984" stroke="#bf3984" stroke-width="0.7"/>
<path d="M425.1,1079.1C425.9,1080.6 426.7,1082.8 427.2,1084.4C427.5,1085.5 427.8,1087.0 427.7,1088.0C427.6,1088.4 426.8,1088.8 426.4,1088.6C425.5,1088.1 424.6,1086.8 424.0,1085.9C423.0,1084.5 421.9,1082.5 421.2,1080.9C420.5,1079.4 419.6,1077.2 419.2,1075.6C418.9,1074.5 418.5,1073.0 418.7,1072.0C418.7,1071.6 419.5,1071.2 419.9,1071.4C420.8,1071.9 421.7,1073.2 422.4,1074.1C423.3,1075.5 424.4,1077.5 425.1,1079.1Z" fill="#bf3984" stroke="#bf3984" stroke-width="0.7"/>
<path d="M414.0,1093.3C414.0,1093.8 413.7,1094.5 413.4,1094.9C413.1,1095.3 412.4,1095.7 411.9,1095.9C411.4,1096.0 410.6,1096.0 410.1,1095.9C409.6,1095.7 408.9,1095.3 408.6,1094.9C408.3,1094.5 408.0,1093.8 408.0,1093.3C408.0,1092.8 408.3,1092.2 408.6,1091.8C408.9,1091.4 409.6,1090.9 410.1,1090.8C410.6,1090.6 411.4,1090.6 411.9,1090.8C412.4,1090.9 413.1,1091.4 413.4,1091.8C413.7,1092.2 414.0,1092.8 414.0,1093.3Z" fill="#bf3984" stroke="#bf3984" stroke-width="0.7"/>
<path d="M278.3,1073.2C278.3,1073.7 278.1,1074.5 277.8,1074.9C277.4,1075.4 276.8,1075.8 276.3,1076.0C275.7,1076.2 274.9,1076.2 274.4,1076.0C273.9,1075.8 273.2,1075.4 272.9,1074.9C272.6,1074.5 272.3,1073.7 272.3,1073.2C272.3,1072.6 272.6,1071.9 272.9,1071.4C273.2,1071.0 273.9,1070.5 274.4,1070.3C274.9,1070.1 275.7,1070.1 276.3,1070.3C276.8,1070.5 277.4,1071.0 277.8,1071.4C278.1,1071.9 278.3,1072.6 278.3,1073.2Z" fill="#bf3984" stroke="#bf3984" stroke-width="0.7"/>
<path d="M257.3,1047.8C257.3,1048.3 257.2,1048.9 256.9,1049.3C256.7,1049.7 256.2,1050.1 255.8,1050.2C255.5,1050.4 254.9,1050.4 254.5,1050.2C254.1,1050.1 253.6,1049.7 253.4,1049.3C253.2,1048.9 253.0,1048.3 253.0,1047.8C253.0,1047.4 253.2,1046.8 253.4,1046.4C253.6,1046.0 254.1,1045.6 254.5,1045.5C254.9,1045.3 255.5,1045.3 255.8,1045.5C256.2,1045.6 256.7,1046.0 256.9,1046.4C257.2,1046.8 257.3,1047.4 257.3,1047.8Z" fill="#bf3984" stroke="#bf3984" stroke-width="0.7"/>
<path d="M412.3,1180.3C413.4,1177.9 416.4,1174.8 419.0,1174.5C421.3,1174.2 424.3,1176.8 425.7,1178.7C427.2,1180.8 428.5,1184.4 428.2,1187.0C427.9,1189.3 424.4,1191.3 424.0,1193.7C423.6,1196.2 424.9,1199.6 425.7,1202.0C426.4,1204.1 429.0,1206.4 429.0,1208.7C429.0,1211.4 427.6,1215.1 425.7,1217.0C423.8,1218.9 419.9,1221.0 417.3,1220.3C414.9,1219.7 412.8,1216.1 412.3,1213.7C411.7,1210.2 414.1,1205.5 414.0,1202.0C413.9,1198.9 411.7,1195.1 411.5,1192.0C411.2,1188.5 411.0,1183.6 412.3,1180.3Z" fill="#a11b9b" stroke="#a11b9b" stroke-width="0.7"/>
<path d="M524.8,1155.3C525.5,1153.6 528.9,1153.5 530.7,1153.7C533.3,1154.0 538.3,1154.4 539.0,1157.0C541.2,1165.2 542.2,1177.4 539.0,1185.3C537.8,1188.3 531.4,1184.1 529.0,1182.0C526.5,1179.8 524.5,1175.3 524.0,1172.0C523.2,1167.1 523.1,1160.0 524.8,1155.3Z" fill="#a11b9b" stroke="#a11b9b" stroke-width="0.7"/>
<path d="M518.0,1159.0C518.0,1159.7 517.7,1160.7 517.3,1161.4C516.9,1161.9 516.1,1162.6 515.5,1162.8C514.8,1163.0 513.8,1163.0 513.2,1162.8C512.5,1162.6 511.8,1161.9 511.4,1161.4C511.0,1160.7 510.7,1159.7 510.7,1159.0C510.7,1158.3 511.0,1157.3 511.4,1156.6C511.8,1156.1 512.5,1155.4 513.2,1155.2C513.8,1155.0 514.8,1155.0 515.5,1155.2C516.1,1155.4 516.9,1156.1 517.3,1156.6C517.7,1157.3 518.0,1158.3 518.0,1159.0Z" fill="#a11b9b" stroke="#a11b9b" stroke-width="0.7"/>
<path d="M397.7,1176.3C397.9,1177.0 398.0,1178.0 397.9,1178.7C397.8,1179.3 397.5,1180.2 397.0,1180.6C396.6,1181.0 395.8,1181.3 395.3,1181.2C394.6,1181.2 393.8,1180.8 393.4,1180.4C392.8,1179.9 392.3,1179.0 392.0,1178.4C391.8,1177.7 391.6,1176.7 391.7,1176.0C391.8,1175.3 392.2,1174.5 392.7,1174.1C393.1,1173.7 393.8,1173.4 394.4,1173.4C395.0,1173.5 395.8,1173.9 396.3,1174.3C396.9,1174.8 397.4,1175.6 397.7,1176.3Z" fill="#a11b9b" stroke="#a11b9b" stroke-width="0.7"/>
<path d="M330.3,1152.5C329.9,1153.6 329.1,1155.0 328.3,1155.8C327.6,1156.4 326.5,1157.1 325.6,1157.2C324.9,1157.3 323.8,1156.9 323.3,1156.4C322.7,1155.7 322.3,1154.5 322.2,1153.6C322.1,1152.4 322.4,1150.9 322.7,1149.8C323.1,1148.7 323.9,1147.4 324.7,1146.6C325.4,1145.9 326.5,1145.2 327.4,1145.1C328.1,1145.0 329.2,1145.4 329.7,1145.9C330.3,1146.6 330.7,1147.9 330.8,1148.8C330.9,1149.9 330.6,1151.5 330.3,1152.5Z" fill="#a11b9b" stroke="#a11b9b" stroke-width="0.7"/>
<path d="M510.7,1205.3C511.9,1203.6 513.8,1199.4 515.7,1200.3C517.9,1201.5 515.7,1206.7 517.3,1208.7C519.1,1210.7 523.0,1212.0 525.7,1212.0C529.8,1212.0 536.7,1205.2 539.0,1208.7C542.9,1214.5 544.8,1228.1 539.0,1232.0C530.3,1237.8 514.1,1234.9 504.0,1232.0C501.1,1231.2 503.7,1225.0 504.0,1222.0C504.2,1219.5 504.7,1216.0 505.7,1213.7C506.7,1211.0 508.9,1207.7 510.7,1205.3Z" fill="#a11b9b" stroke="#a11b9b" stroke-width="0.7"/>
<path d="M278.7,1011.1C278.8,1012.4 278.8,1014.1 278.8,1015.5C278.8,1016.3 278.7,1017.5 278.4,1018.2C278.3,1018.5 277.7,1018.5 277.5,1018.3C277.1,1017.6 276.8,1016.5 276.6,1015.7C276.4,1014.4 276.1,1012.6 276.0,1011.3C275.9,1010.0 275.8,1008.2 275.9,1006.9C275.9,1006.0 276.0,1004.9 276.3,1004.1C276.4,1003.9 277.0,1003.8 277.1,1004.0C277.6,1004.7 277.8,1005.9 278.0,1006.7C278.3,1008.0 278.5,1009.7 278.7,1011.1Z" fill="#a11b9b" stroke="#a11b9b" stroke-width="0.7"/>
<path d="M266.3,976.2C266.3,977.2 266.2,978.6 266.0,979.6C265.8,980.3 265.5,981.2 265.0,981.7C264.7,982.0 264.0,982.0 263.7,981.7C263.2,981.2 262.9,980.3 262.7,979.6C262.5,978.6 262.3,977.2 262.3,976.2C262.3,975.1 262.5,973.7 262.7,972.7C262.9,972.1 263.2,971.1 263.7,970.6C264.0,970.4 264.7,970.4 265.0,970.6C265.5,971.1 265.8,972.1 266.0,972.7C266.2,973.7 266.3,975.1 266.3,976.2Z" fill="#a11b9b" stroke="#a11b9b" stroke-width="0.7"/>
<path d="M402.3,1143.7C404.2,1140.3 410.4,1139.8 414.0,1138.7C416.9,1137.8 421.1,1136.0 424.0,1137.0C427.7,1138.2 431.0,1142.8 434.0,1145.3C437.5,1148.3 442.3,1152.2 445.7,1155.3C449.8,1159.2 454.9,1164.8 459.0,1168.7C462.4,1171.8 467.3,1175.5 470.7,1178.7C473.8,1181.5 477.5,1185.8 480.7,1188.7C483.0,1190.8 486.4,1193.5 489.0,1195.3C491.9,1197.5 496.3,1199.6 499.0,1202.0C500.4,1203.2 503.0,1205.3 502.3,1207.0C501.5,1209.1 497.9,1210.6 495.7,1210.3C492.3,1210.0 488.8,1206.6 485.7,1205.3C482.7,1204.1 478.6,1203.2 475.7,1202.0C471.6,1200.2 466.3,1197.3 462.3,1195.3C458.3,1193.3 453.0,1190.7 449.0,1188.7C445.0,1186.7 439.5,1184.3 435.7,1182.0C432.0,1179.8 427.3,1176.4 424.0,1173.7C420.8,1170.9 416.9,1166.8 414.0,1163.7C411.4,1160.8 407.6,1157.0 405.7,1153.7C404.1,1150.9 400.8,1146.4 402.3,1143.7Z" fill="#d6556d" stroke="#d6556d" stroke-width="0.7"/>
<path d="M409.0,1148.7C410.4,1144.4 417.9,1142.0 422.3,1142.0C425.5,1142.0 428.3,1146.5 430.7,1148.7C433.8,1151.5 437.5,1155.8 440.7,1158.7C444.1,1161.8 448.9,1165.5 452.3,1168.7C455.5,1171.5 459.2,1175.8 462.3,1178.7C465.2,1181.3 469.6,1184.2 472.3,1187.0C474.1,1188.8 476.6,1191.3 477.3,1193.7C477.8,1195.2 477.2,1198.4 475.7,1198.7C473.0,1199.1 469.7,1196.6 467.3,1195.3C464.2,1193.6 460.4,1190.6 457.3,1188.7C453.9,1186.6 449.2,1183.9 445.7,1182.0C442.7,1180.4 438.3,1179.0 435.7,1177.0C432.3,1174.5 428.5,1170.1 425.7,1167.0C423.0,1164.1 420.0,1159.9 417.3,1157.0C415.0,1154.4 407.9,1152.0 409.0,1148.7Z" fill="#ea7457" stroke="#ea7457" stroke-width="0.7"/>
<path d="M284.0,968.7C279.4,972.5 283.2,982.7 283.2,988.7C283.2,993.7 283.5,1000.4 284.0,1005.3C284.5,1010.4 285.5,1017.0 286.5,1022.0C287.5,1027.1 289.4,1033.7 290.7,1038.7C291.7,1042.7 294.0,1047.9 294.0,1052.0C294.0,1055.2 292.0,1059.1 290.7,1062.0C289.7,1064.2 286.3,1066.3 286.5,1068.7C286.8,1072.1 290.7,1075.6 292.3,1078.7C294.4,1082.6 297.0,1088.0 299.0,1092.0C301.0,1096.0 303.4,1101.5 305.7,1105.3C307.9,1109.0 311.2,1113.7 314.0,1117.0C316.7,1120.2 321.1,1123.9 324.0,1127.0C326.6,1129.9 329.8,1134.0 332.3,1137.0C334.8,1140.0 338.8,1143.6 340.7,1147.0C342.4,1150.2 342.6,1155.3 344.0,1158.7C345.6,1162.4 348.5,1166.9 350.7,1170.3C353.0,1174.0 358.0,1177.8 359.0,1182.0C359.7,1184.6 356.0,1187.7 355.7,1190.3C355.4,1192.4 356.0,1195.4 357.3,1197.0C359.2,1199.2 363.3,1200.3 365.7,1202.0C368.3,1203.8 371.3,1206.9 374.0,1208.7C376.8,1210.5 380.7,1213.3 384.0,1213.7C386.5,1213.9 389.8,1212.1 391.5,1210.3C392.6,1209.3 392.9,1206.8 392.3,1205.3C391.0,1202.0 387.7,1198.3 385.7,1195.3C383.7,1192.3 380.7,1188.5 379.0,1185.3C377.2,1182.0 375.6,1177.1 374.0,1173.7C372.1,1169.6 369.2,1164.4 367.3,1160.3C365.7,1156.9 363.4,1152.3 362.3,1148.7C361.4,1145.3 361.4,1140.5 360.7,1137.0C359.9,1133.4 357.9,1128.9 357.3,1125.3C356.9,1122.4 358.1,1118.2 357.3,1115.3C356.5,1112.1 354.3,1108.0 352.3,1105.3C350.3,1102.5 346.9,1099.1 344.0,1097.0C341.3,1095.0 336.7,1093.9 334.0,1092.0C331.7,1090.4 329.3,1087.3 327.3,1085.3C324.8,1082.8 321.0,1079.9 319.0,1077.0C317.5,1074.8 315.1,1071.3 315.7,1068.7C316.3,1065.5 320.9,1063.2 322.3,1060.3C323.5,1058.1 324.5,1054.5 324.0,1052.0C323.4,1049.1 320.3,1046.3 319.0,1043.7C317.8,1041.3 315.7,1038.0 315.7,1035.3C315.7,1031.7 319.6,1027.3 319.0,1023.7C318.5,1020.5 313.8,1018.2 312.3,1015.3C311.0,1012.6 310.0,1008.4 309.8,1005.3C309.5,1000.3 311.0,993.7 310.7,988.7C310.3,982.6 312.2,972.3 307.3,968.7C301.7,964.5 289.4,964.2 284.0,968.7Z" fill="#d6556d" stroke="#d6556d" stroke-width="9"/>
<path d="M284.0,968.7C279.4,972.5 283.2,982.7 283.2,988.7C283.2,993.7 283.5,1000.4 284.0,1005.3C284.5,1010.4 285.5,1017.0 286.5,1022.0C287.5,1027.1 289.4,1033.7 290.7,1038.7C291.7,1042.7 294.0,1047.9 294.0,1052.0C294.0,1055.2 292.0,1059.1 290.7,1062.0C289.7,1064.2 286.3,1066.3 286.5,1068.7C286.8,1072.1 290.7,1075.6 292.3,1078.7C294.4,1082.6 297.0,1088.0 299.0,1092.0C301.0,1096.0 303.4,1101.5 305.7,1105.3C307.9,1109.0 311.2,1113.7 314.0,1117.0C316.7,1120.2 321.1,1123.9 324.0,1127.0C326.6,1129.9 329.8,1134.0 332.3,1137.0C334.8,1140.0 338.8,1143.6 340.7,1147.0C342.4,1150.2 342.6,1155.3 344.0,1158.7C345.6,1162.4 348.5,1166.9 350.7,1170.3C353.0,1174.0 358.0,1177.8 359.0,1182.0C359.7,1184.6 356.0,1187.7 355.7,1190.3C355.4,1192.4 356.0,1195.4 357.3,1197.0C359.2,1199.2 363.3,1200.3 365.7,1202.0C368.3,1203.8 371.3,1206.9 374.0,1208.7C376.8,1210.5 380.7,1213.3 384.0,1213.7C386.5,1213.9 389.8,1212.1 391.5,1210.3C392.6,1209.3 392.9,1206.8 392.3,1205.3C391.0,1202.0 387.7,1198.3 385.7,1195.3C383.7,1192.3 380.7,1188.5 379.0,1185.3C377.2,1182.0 375.6,1177.1 374.0,1173.7C372.1,1169.6 369.2,1164.4 367.3,1160.3C365.7,1156.9 363.4,1152.3 362.3,1148.7C361.4,1145.3 361.4,1140.5 360.7,1137.0C359.9,1133.4 357.9,1128.9 357.3,1125.3C356.9,1122.4 358.1,1118.2 357.3,1115.3C356.5,1112.1 354.3,1108.0 352.3,1105.3C350.3,1102.5 346.9,1099.1 344.0,1097.0C341.3,1095.0 336.7,1093.9 334.0,1092.0C331.7,1090.4 329.3,1087.3 327.3,1085.3C324.8,1082.8 321.0,1079.9 319.0,1077.0C317.5,1074.8 315.1,1071.3 315.7,1068.7C316.3,1065.5 320.9,1063.2 322.3,1060.3C323.5,1058.1 324.5,1054.5 324.0,1052.0C323.4,1049.1 320.3,1046.3 319.0,1043.7C317.8,1041.3 315.7,1038.0 315.7,1035.3C315.7,1031.7 319.6,1027.3 319.0,1023.7C318.5,1020.5 313.8,1018.2 312.3,1015.3C311.0,1012.6 310.0,1008.4 309.8,1005.3C309.5,1000.3 311.0,993.7 310.7,988.7C310.3,982.6 312.2,972.3 307.3,968.7C301.7,964.5 289.4,964.2 284.0,968.7Z" fill="#ea7457" stroke="#ea7457" stroke-width="0.7"/>
<path d="M243.2,982.0C243.4,980.6 246.1,978.8 247.3,979.5C249.7,980.8 250.9,984.7 252.3,987.0C253.9,989.5 255.7,992.9 257.3,995.3C258.7,997.4 261.3,999.7 262.3,1002.0C263.3,1004.1 265.3,1007.6 264.0,1009.5C263.1,1010.9 260.3,1008.0 259.0,1007.0C256.8,1005.3 254.1,1002.5 252.3,1000.3C250.1,997.5 247.3,993.6 245.7,990.3C244.5,988.0 242.8,984.6 243.2,982.0Z" fill="#ea7457" stroke="#ea7457" stroke-width="0.7"/>
<path d="M264.0,1222.0C265.1,1218.6 268.1,1214.5 270.7,1212.0C272.2,1210.4 275.1,1208.3 277.3,1208.7C279.1,1209.0 280.9,1211.9 280.7,1213.7C280.3,1216.6 276.4,1219.2 275.7,1222.0C274.9,1224.9 277.9,1230.0 275.7,1232.0C273.0,1234.3 266.7,1234.3 264.0,1232.0C261.7,1230.0 263.1,1224.8 264.0,1222.0Z" fill="#ea7457" stroke="#ea7457" stroke-width="0.7"/>
<path d="M322.0,1198.6C322.2,1199.1 322.0,1200.0 321.7,1200.4C321.2,1201.1 320.4,1201.8 319.7,1202.2C318.8,1202.6 317.7,1203.1 316.7,1203.2C316.0,1203.4 314.8,1203.4 314.1,1203.2C313.5,1203.0 312.8,1202.6 312.6,1202.0C312.4,1201.5 312.7,1200.7 313.0,1200.2C313.4,1199.6 314.3,1198.9 315.0,1198.5C315.8,1198.0 317.0,1197.6 317.9,1197.4C318.7,1197.3 319.8,1197.3 320.6,1197.5C321.1,1197.6 321.8,1198.1 322.0,1198.6Z" fill="#ea7457" stroke="#ea7457" stroke-width="0.7"/>
<path d="M311.5,1215.3C311.5,1216.4 311.3,1217.8 311.0,1218.8C310.8,1219.5 310.4,1220.4 309.8,1220.9C309.4,1221.2 308.6,1221.2 308.2,1220.9C307.6,1220.4 307.2,1219.5 307.0,1218.8C306.7,1217.8 306.5,1216.4 306.5,1215.3C306.5,1214.3 306.7,1212.9 307.0,1211.9C307.2,1211.2 307.6,1210.2 308.2,1209.8C308.6,1209.5 309.4,1209.5 309.8,1209.8C310.4,1210.2 310.8,1211.2 311.0,1211.9C311.3,1212.9 311.5,1214.3 311.5,1215.3Z" fill="#ea7457" stroke="#ea7457" stroke-width="0.7"/>
<path d="M569.2,968.7C564.7,969.5 558.6,972.9 556.7,977.0C553.4,983.8 553.2,994.4 553.3,1002.0C553.4,1005.7 557.5,1010.0 557.5,1013.7C557.5,1017.4 555.0,1022.0 553.3,1025.3C551.7,1028.6 549.8,1033.5 546.7,1035.3C542.7,1037.6 533.5,1033.6 531.7,1037.8C527.8,1046.8 531.7,1060.5 531.7,1070.2C531.7,1079.9 531.7,1092.8 531.7,1102.6C531.7,1112.3 531.7,1125.2 531.7,1134.9C531.7,1144.6 531.7,1157.6 531.7,1167.3C531.7,1177.0 531.7,1189.9 531.7,1199.6C531.7,1209.3 524.9,1225.0 531.7,1232.0C538.1,1238.7 553.4,1232.0 562.8,1232.0C572.1,1232.0 584.6,1232.0 593.9,1232.0C603.2,1232.0 616.1,1234.9 625.0,1232.0C627.9,1231.1 624.5,1225.0 625.0,1222.0C625.5,1219.4 626.9,1216.0 628.3,1213.7C630.0,1210.9 633.1,1207.9 635.0,1205.3C637.1,1202.4 639.9,1198.5 641.7,1195.3C643.0,1193.0 643.6,1189.3 645.0,1187.0C646.6,1184.3 649.2,1180.7 651.7,1178.7C654.3,1176.6 658.6,1175.0 661.7,1173.7C664.6,1172.5 668.6,1171.1 671.7,1170.3C674.6,1169.6 678.8,1169.8 681.7,1168.7C684.0,1167.7 686.5,1165.3 688.3,1163.7C690.5,1161.8 692.2,1157.0 695.0,1157.0C697.2,1157.0 698.6,1161.4 698.3,1163.7C698.0,1167.0 693.7,1170.3 693.3,1173.7C693.1,1175.9 695.5,1178.4 696.7,1180.3C698.0,1182.5 699.2,1187.5 701.7,1187.0C704.3,1186.5 703.9,1181.1 705.0,1178.7C706.4,1175.6 710.0,1172.0 710.0,1168.7C710.0,1165.8 704.6,1163.2 705.0,1160.3C705.3,1158.1 709.5,1157.7 711.7,1157.0C715.1,1155.9 719.8,1155.0 723.3,1154.5C726.8,1154.0 732.7,1156.3 735.0,1153.7C736.6,1151.8 730.5,1150.0 728.3,1148.7C725.5,1146.9 720.6,1146.1 718.3,1143.7C716.8,1142.0 715.3,1138.0 716.7,1136.2C718.2,1134.1 722.5,1134.5 725.0,1134.5C727.5,1134.5 730.9,1137.0 733.3,1136.2C735.4,1135.5 736.3,1132.1 737.5,1130.3C738.8,1128.4 739.6,1124.8 741.7,1123.7C744.8,1122.0 750.1,1123.3 753.3,1122.0C755.3,1121.2 757.4,1118.9 758.3,1117.0C760.0,1113.7 759.9,1108.5 761.7,1105.3C763.0,1102.9 766.3,1100.7 768.3,1098.7C771.3,1095.7 776.1,1092.3 778.3,1088.7C780.0,1086.0 781.1,1081.7 780.8,1078.7C780.6,1075.4 777.2,1071.9 776.7,1068.7C776.0,1064.7 775.8,1059.2 776.7,1055.3C777.4,1052.1 780.2,1048.3 781.7,1045.3C783.2,1042.3 786.2,1038.7 786.7,1035.3C787.2,1031.3 784.7,1026.0 785.0,1022.0C785.2,1018.8 787.9,1015.1 788.3,1012.0C788.9,1008.5 789.4,1003.7 788.3,1000.3C787.3,997.3 784.2,993.9 781.7,992.0C778.1,989.3 770.6,989.2 768.3,985.3C765.9,981.0 772.8,970.9 768.3,968.7C759.4,964.2 745.1,968.7 735.1,968.7C725.2,968.7 711.9,968.7 701.9,968.7C692.0,968.7 678.7,968.7 668.8,968.7C658.8,968.7 645.5,968.7 635.6,968.7C625.6,968.7 612.3,968.7 602.4,968.7C592.4,968.7 579.0,966.9 569.2,968.7Z" fill="#bf3984" stroke="#bf3984" stroke-width="0.7"/>
<path d="M590.0,1055.3C592.0,1053.0 595.4,1050.4 598.3,1049.5C600.7,1048.8 604.3,1049.4 606.7,1050.3C607.7,1050.8 607.3,1053.4 608.3,1053.7C611.2,1054.5 615.8,1052.1 618.3,1053.7C620.0,1054.7 619.3,1058.3 619.2,1060.3C618.8,1063.9 617.3,1068.5 616.7,1072.0C616.1,1075.0 615.5,1079.0 615.0,1082.0C614.5,1084.5 615.6,1089.2 613.3,1090.3C611.4,1091.3 610.1,1086.6 608.3,1085.3C606.5,1084.0 603.7,1082.9 601.7,1082.0C599.2,1080.9 595.6,1080.2 593.3,1078.7C591.0,1077.1 588.2,1074.4 586.7,1072.0C585.6,1070.3 584.6,1067.4 585.0,1065.3C585.7,1062.0 587.8,1057.9 590.0,1055.3Z" fill="#d6556d" stroke="#d6556d" stroke-width="0.7"/>
<path d="M617.0,1098.3C617.2,1099.4 617.3,1101.0 617.2,1102.2C617.1,1103.0 617.0,1104.1 616.5,1104.8C616.2,1105.1 615.4,1105.3 615.1,1105.0C614.4,1104.6 613.8,1103.6 613.5,1102.9C613.0,1101.8 612.6,1100.2 612.4,1099.1C612.2,1097.9 612.0,1096.3 612.1,1095.1C612.2,1094.3 612.4,1093.2 612.9,1092.5C613.1,1092.2 613.9,1092.1 614.3,1092.3C615.0,1092.7 615.5,1093.7 615.8,1094.5C616.3,1095.6 616.8,1097.1 617.0,1098.3Z" fill="#d6556d" stroke="#d6556d" stroke-width="0.7"/>
<path d="M613.3,1108.7C616.1,1108.2 617.6,1113.8 620.0,1115.3C621.7,1116.4 624.8,1117.8 626.7,1117.0C629.9,1115.6 632.4,1111.0 635.0,1108.7C637.4,1106.5 640.3,1103.1 643.3,1102.0C645.0,1101.4 648.2,1102.2 649.2,1103.7C650.6,1105.8 650.8,1109.6 650.0,1112.0C648.9,1115.4 645.5,1119.1 643.3,1122.0C641.0,1125.1 637.6,1129.1 635.0,1132.0C632.6,1134.6 629.2,1137.8 626.7,1140.3C624.2,1142.8 621.0,1146.3 618.3,1148.7C616.0,1150.8 612.5,1153.3 610.0,1155.3C607.0,1157.8 603.2,1161.4 600.0,1163.7C597.2,1165.7 593.4,1168.7 590.0,1169.5C588.4,1169.9 584.5,1168.6 585.0,1167.0C586.0,1163.6 590.7,1161.0 593.3,1158.7C595.7,1156.5 603.4,1154.7 601.7,1152.0C599.4,1148.7 592.1,1152.6 588.3,1151.2C586.9,1150.6 585.7,1147.4 586.7,1146.2C588.8,1143.4 593.8,1142.3 596.7,1140.3C599.3,1138.5 602.7,1135.9 605.0,1133.7C606.8,1131.9 609.2,1129.4 610.0,1127.0C611.0,1124.2 610.3,1120.0 610.8,1117.0C611.3,1114.4 610.8,1109.1 613.3,1108.7Z" fill="#d6556d" stroke="#d6556d" stroke-width="0.7"/>
<path d="M648.3,1129.5C649.2,1127.0 652.5,1122.7 655.0,1123.7C657.6,1124.7 657.6,1130.2 656.7,1132.8C656.2,1134.3 653.1,1134.2 651.7,1133.7C650.2,1133.1 647.8,1131.0 648.3,1129.5Z" fill="#d6556d" stroke="#d6556d" stroke-width="0.7"/>
<path d="M710.0,1088.7C712.2,1086.7 715.9,1085.2 718.3,1083.7C721.4,1081.7 725.0,1078.5 728.3,1077.0C729.7,1076.4 732.4,1075.8 733.3,1077.0C734.5,1078.6 734.2,1081.9 733.3,1083.7C732.1,1086.2 727.9,1087.8 726.7,1090.3C725.8,1092.1 727.3,1095.1 726.7,1097.0C725.7,1099.8 722.7,1102.6 721.7,1105.3C720.7,1107.7 721.7,1111.7 720.0,1113.7C718.2,1115.7 713.9,1115.6 711.7,1117.0C709.9,1118.1 707.5,1120.1 706.7,1122.0C705.7,1124.3 706.7,1128.0 705.8,1130.3C705.1,1132.2 703.6,1135.6 701.7,1135.3C698.9,1134.9 696.7,1130.9 695.0,1128.7C693.7,1126.9 691.4,1124.2 691.7,1122.0C692.0,1119.9 695.8,1118.9 696.7,1117.0C697.9,1114.2 697.2,1109.8 698.3,1107.0C699.3,1104.7 701.4,1101.9 703.3,1100.3C705.5,1098.6 710.1,1098.5 711.7,1096.2C712.5,1095.0 709.5,1093.4 709.2,1092.0C708.9,1091.0 709.2,1089.4 710.0,1088.7Z" fill="#d6556d" stroke="#d6556d" stroke-width="0.7"/>
<path d="M718.3,968.7C718.7,967.2 722.1,967.9 723.3,968.7C726.3,970.5 729.8,974.0 731.7,977.0C733.0,979.2 734.9,983.3 733.3,985.3C732.1,987.0 728.6,984.4 726.7,983.7C724.6,982.9 721.1,982.3 720.0,980.3C718.3,977.2 717.4,972.1 718.3,968.7Z" fill="#d6556d" stroke="#d6556d" stroke-width="0.7"/>
<path d="M777.5,1140.3C779.1,1136.9 782.5,1133.2 785.0,1130.3C787.8,1127.1 791.7,1123.0 795.0,1120.3C797.3,1118.5 800.5,1114.9 803.3,1115.3C805.4,1115.7 806.3,1119.9 805.8,1122.0C805.2,1125.4 802.0,1129.2 800.0,1132.0C797.7,1135.2 794.2,1139.0 791.7,1142.0C789.2,1145.0 785.9,1149.0 783.3,1152.0C781.6,1154.0 779.9,1159.9 777.5,1158.7C774.8,1157.3 776.7,1151.7 776.7,1148.7C776.7,1146.2 776.5,1142.6 777.5,1140.3Z" fill="#bf3984" stroke="#bf3984" stroke-width="0.7"/>
<path d="M666.7,1212.0C667.8,1208.4 669.3,1203.3 671.7,1200.3C674.0,1197.4 678.0,1193.5 681.7,1192.8C684.4,1192.3 687.5,1195.8 690.0,1197.0C693.0,1198.5 696.8,1200.9 700.0,1202.0C702.9,1203.0 707.0,1204.2 710.0,1203.7C712.9,1203.1 715.5,1198.2 718.3,1198.7C720.4,1199.0 720.2,1203.3 720.0,1205.3C719.7,1208.5 715.8,1212.3 716.7,1215.3C717.2,1217.3 721.4,1217.6 723.3,1217.0C726.8,1216.0 731.5,1213.4 733.3,1210.3C735.1,1207.3 732.6,1201.8 734.2,1198.7C735.4,1196.2 739.3,1194.9 741.7,1193.7C744.0,1192.4 747.4,1189.7 750.0,1190.3C752.8,1190.9 754.8,1194.9 756.7,1197.0C758.8,1199.4 761.7,1202.6 763.3,1205.3C764.7,1207.6 766.1,1211.0 766.7,1213.7C767.2,1216.1 766.7,1219.5 766.7,1222.0C766.7,1225.0 769.5,1231.2 766.7,1232.0C756.9,1234.9 742.9,1232.0 732.8,1232.0C722.6,1232.0 709.1,1232.0 698.9,1232.0C688.7,1232.0 674.8,1234.9 665.0,1232.0C662.1,1231.2 664.8,1225.0 665.0,1222.0C665.3,1219.0 665.8,1214.9 666.7,1212.0Z" fill="#bf3984" stroke="#bf3984" stroke-width="0.7"/>
<path d="M703.3,1212.0C703.9,1209.4 707.3,1206.2 710.0,1206.2C712.2,1206.2 713.6,1209.9 714.2,1212.0C714.7,1213.9 714.7,1217.2 713.3,1218.7C712.0,1220.2 708.4,1221.5 706.7,1220.3C704.4,1218.8 702.7,1214.6 703.3,1212.0Z" fill="#d6556d" stroke="#d6556d" stroke-width="0.7"/>
<path d="M774.2,1183.7C774.5,1181.9 776.6,1179.5 778.3,1179.5C780.7,1179.5 783.1,1182.3 785.0,1183.7C787.1,1185.1 789.8,1187.0 791.7,1188.7C793.8,1190.5 796.6,1193.1 798.3,1195.3C800.1,1197.6 802.7,1200.8 803.3,1203.7C803.8,1205.7 803.1,1208.9 801.7,1210.3C799.3,1212.7 795.0,1214.7 791.7,1215.3C789.2,1215.8 785.5,1215.1 783.3,1213.7C782.0,1212.8 780.5,1209.8 781.7,1208.7C783.9,1206.4 789.8,1207.9 791.7,1205.3C793.1,1203.3 791.2,1199.2 790.0,1197.0C788.6,1194.5 785.7,1191.8 783.3,1190.3C781.6,1189.2 778.3,1189.9 776.7,1188.7C775.3,1187.7 773.9,1185.3 774.2,1183.7Z" fill="#bf3984" stroke="#bf3984" stroke-width="0.7"/>
<path d="M598.3,968.7C604.2,964.8 615.3,965.7 621.7,968.7C624.9,970.2 624.0,976.9 623.3,980.3C622.9,982.8 620.0,985.1 618.3,987.0C616.5,989.1 614.4,992.9 611.7,993.7C609.9,994.2 607.8,991.7 606.7,990.3C604.8,988.1 602.7,984.7 601.7,982.0C600.2,978.2 594.9,971.0 598.3,968.7Z" fill="#a11b9b" stroke="#a11b9b" stroke-width="0.7"/>
<path d="M615.0,1002.8C615.5,1001.0 618.1,999.1 620.0,998.7C622.9,998.0 627.2,998.4 630.0,999.5C632.0,1000.3 633.3,1003.2 635.0,1004.5C636.3,1005.5 639.2,1005.5 640.0,1007.0C640.6,1008.2 639.6,1010.8 638.3,1011.2C636.7,1011.6 634.7,1009.6 633.3,1008.7C631.2,1007.1 629.2,1003.5 626.7,1002.8C624.2,1002.2 620.9,1004.5 618.3,1004.5C617.2,1004.5 614.7,1003.9 615.0,1002.8Z" fill="#a11b9b" stroke="#a11b9b" stroke-width="0.7"/>
<path d="M652.5,1024.8C652.5,1025.5 652.1,1026.4 651.7,1026.9C651.2,1027.4 650.3,1028.0 649.6,1028.2C648.9,1028.4 647.8,1028.4 647.0,1028.2C646.3,1028.0 645.4,1027.4 645.0,1026.9C644.5,1026.4 644.2,1025.5 644.2,1024.8C644.2,1024.2 644.5,1023.3 645.0,1022.8C645.4,1022.2 646.3,1021.7 647.0,1021.5C647.8,1021.3 648.9,1021.3 649.6,1021.5C650.3,1021.7 651.2,1022.2 651.7,1022.8C652.1,1023.3 652.5,1024.2 652.5,1024.8Z" fill="#a11b9b" stroke="#a11b9b" stroke-width="0.7"/>
<path d="M662.5,1028.7C662.8,1027.2 665.4,1025.5 666.7,1026.2C669.0,1027.5 670.6,1031.2 671.7,1033.7C672.4,1035.5 673.0,1038.4 672.5,1040.3C671.9,1042.6 669.8,1045.2 668.3,1047.0C667.3,1048.2 665.1,1051.6 664.2,1050.3C662.4,1047.9 663.6,1043.3 663.3,1040.3C663.1,1036.8 661.7,1032.1 662.5,1028.7Z" fill="#a11b9b" stroke="#a11b9b" stroke-width="0.7"/>
<path d="M696.7,1043.7C697.7,1041.0 699.6,1036.2 702.5,1036.2C705.2,1036.2 706.9,1041.0 707.5,1043.7C707.8,1045.1 706.4,1047.3 705.0,1047.8C703.1,1048.5 700.1,1047.9 698.3,1047.0C697.3,1046.5 696.3,1044.7 696.7,1043.7Z" fill="#a11b9b" stroke="#a11b9b" stroke-width="0.7"/>
<path d="M682.5,1086.2C683.0,1084.8 685.2,1083.5 686.7,1083.7C688.5,1083.8 691.0,1085.3 691.7,1087.0C692.5,1089.1 691.8,1092.5 690.8,1094.5C690.4,1095.4 688.4,1095.8 687.5,1095.3C686.1,1094.6 684.9,1092.6 684.2,1091.2C683.4,1089.8 682.0,1087.7 682.5,1086.2Z" fill="#a11b9b" stroke="#a11b9b" stroke-width="0.7"/>
<path d="M665.0,1110.3C665.6,1108.9 668.7,1111.1 670.0,1112.0C672.3,1113.6 674.9,1116.5 676.7,1118.7C678.2,1120.5 680.3,1123.0 680.8,1125.3C681.4,1128.0 681.8,1132.4 680.0,1134.5C678.9,1135.8 676.5,1132.7 675.0,1132.0C673.0,1131.2 670.4,1130.1 668.3,1129.5C666.9,1129.1 663.6,1130.2 663.3,1128.7C662.9,1126.0 666.4,1123.0 666.7,1120.3C666.9,1117.3 663.9,1113.2 665.0,1110.3Z" fill="#a11b9b" stroke="#a11b9b" stroke-width="0.7"/>
<path d="M723.3,1124.5C724.0,1121.9 727.8,1117.1 730.0,1118.7C732.9,1120.7 732.6,1126.9 731.7,1130.3C731.3,1131.8 727.9,1132.0 726.7,1131.2C724.8,1129.9 722.8,1126.7 723.3,1124.5Z" fill="#a11b9b" stroke="#a11b9b" stroke-width="0.7"/>
<path d="M658.4,1104.6C658.6,1105.3 658.8,1106.2 658.8,1107.0C658.8,1107.4 658.7,1108.1 658.4,1108.6C658.3,1108.8 657.8,1108.9 657.5,1108.8C657.1,1108.6 656.7,1108.0 656.4,1107.6C656.1,1107.0 655.7,1106.1 655.6,1105.4C655.4,1104.7 655.2,1103.8 655.2,1103.0C655.2,1102.6 655.3,1101.9 655.6,1101.4C655.7,1101.2 656.2,1101.1 656.5,1101.2C656.9,1101.4 657.3,1102.0 657.6,1102.4C657.9,1103.0 658.3,1103.9 658.4,1104.6Z" fill="#a11b9b" stroke="#a11b9b" stroke-width="0.7"/>
<path d="M531.7,1158.7C533.8,1155.3 541.2,1158.2 545.0,1159.5C547.3,1160.3 550.8,1162.9 550.8,1165.3C550.8,1168.4 547.4,1171.7 545.0,1173.7C541.5,1176.6 534.7,1184.6 531.7,1181.2C527.2,1176.1 528.1,1164.4 531.7,1158.7Z" fill="#a11b9b" stroke="#a11b9b" stroke-width="0.7"/>
<path d="M643.3,1142.8C645.1,1141.1 649.5,1140.7 651.7,1142.0C653.4,1143.1 652.8,1146.7 652.5,1148.7C652.2,1150.8 650.2,1153.2 650.0,1155.3C649.9,1156.7 650.3,1159.5 651.7,1159.5C654.9,1159.5 658.6,1156.4 661.7,1155.3C664.6,1154.4 668.6,1153.5 671.7,1152.8C673.2,1152.5 675.5,1151.0 676.7,1152.0C678.2,1153.4 679.1,1156.8 678.3,1158.7C677.3,1161.0 674.0,1162.7 671.7,1163.7C668.8,1164.8 664.5,1164.2 661.7,1165.3C658.3,1166.7 654.2,1169.5 651.7,1172.0C649.6,1174.1 648.0,1177.7 646.7,1180.3C645.5,1182.7 644.5,1186.3 643.3,1188.7C642.0,1191.3 640.0,1194.6 638.3,1197.0C636.5,1199.6 634.0,1203.2 631.7,1205.3C629.0,1207.7 624.4,1209.7 621.7,1212.0C618.4,1214.7 613.6,1218.2 611.7,1222.0C610.3,1224.7 614.6,1231.2 611.7,1232.0C601.1,1234.9 585.6,1234.9 575.0,1232.0C572.1,1231.2 573.9,1224.8 575.0,1222.0C576.5,1218.0 581.7,1214.3 583.3,1210.3C584.8,1206.6 583.6,1200.8 585.0,1197.0C586.1,1194.0 590.6,1191.7 591.7,1188.7C592.7,1185.8 590.2,1181.3 591.7,1178.7C593.5,1175.2 598.8,1172.9 601.7,1170.3C603.8,1168.4 605.7,1164.8 608.3,1163.7C612.1,1162.1 617.7,1162.6 621.7,1162.0C624.7,1161.6 628.8,1161.3 631.7,1160.3C634.8,1159.3 639.1,1157.5 641.7,1155.3C643.3,1153.9 644.7,1150.9 645.0,1148.7C645.2,1146.9 642.0,1144.1 643.3,1142.8Z" fill="#a11b9b" stroke="#a11b9b" stroke-width="0.7"/>
<path d="M755.8,992.0C756.6,990.3 760.0,988.6 761.7,989.5C763.8,990.7 763.7,994.9 765.0,997.0C766.4,999.2 769.5,1001.4 770.8,1003.7C771.6,1005.0 772.3,1007.3 771.7,1008.7C770.9,1010.3 768.4,1012.5 766.7,1012.0C764.1,1011.2 762.3,1007.5 760.8,1005.3C759.6,1003.5 758.3,1000.8 757.5,998.7C756.8,996.7 755.0,993.9 755.8,992.0Z" fill="#a11b9b" stroke="#a11b9b" stroke-width="0.7"/>
<path d="M743.6,979.5C743.9,980.6 744.2,982.1 744.2,983.2C744.2,983.9 744.2,985.0 743.8,985.7C743.6,986.0 742.9,986.2 742.6,986.0C742.0,985.6 741.4,984.7 741.1,984.0C740.5,983.0 740.0,981.6 739.7,980.5C739.4,979.4 739.2,977.9 739.1,976.8C739.1,976.1 739.1,975.0 739.5,974.3C739.7,974.0 740.4,973.8 740.7,974.0C741.4,974.4 741.9,975.3 742.3,976.0C742.8,977.0 743.3,978.4 743.6,979.5Z" fill="#a11b9b" stroke="#a11b9b" stroke-width="0.7"/>
<path d="M804.0,1053.0C805.2,1050.6 810.7,1050.1 812.8,1051.8C815.5,1054.0 815.3,1059.6 816.5,1063.0C817.6,1066.0 818.8,1070.1 820.2,1073.0C821.1,1074.7 823.2,1076.3 824.0,1078.0C825.3,1080.9 826.9,1084.9 827.0,1088.0C827.1,1090.0 826.5,1094.5 824.5,1094.2C821.2,1093.9 818.9,1089.0 816.5,1086.8C814.2,1084.5 810.8,1081.8 809.0,1079.2C807.1,1076.5 804.6,1072.5 804.0,1069.2C803.1,1064.5 801.8,1057.4 804.0,1053.0Z" fill="#d6556d" stroke="#d6556d" stroke-width="0.7"/>
<path d="M829.0,1005.5C831.0,1003.8 835.3,1003.2 837.8,1004.2C840.2,1005.4 842.0,1009.2 842.8,1011.8C843.5,1014.3 843.1,1017.9 842.8,1020.5C842.4,1023.2 841.1,1026.7 840.2,1029.2C839.6,1031.3 839.2,1034.4 837.8,1036.0C836.0,1038.0 832.8,1041.0 830.2,1040.5C828.3,1040.2 827.9,1036.3 827.8,1034.2C827.5,1030.9 829.0,1026.4 829.0,1023.0C829.0,1020.0 827.8,1016.0 827.8,1013.0C827.8,1010.7 827.3,1007.0 829.0,1005.5Z" fill="#d6556d" stroke="#d6556d" stroke-width="0.7"/>
<path d="M831.5,1165.5C833.7,1162.5 837.5,1159.2 840.2,1156.8C841.3,1155.8 843.6,1153.0 844.0,1154.2C845.0,1157.1 843.8,1161.4 842.8,1164.2C841.5,1167.6 839.7,1172.7 836.5,1174.2C834.5,1175.2 831.3,1172.4 830.2,1170.5C829.5,1169.2 830.6,1166.8 831.5,1165.5Z" fill="#d6556d" stroke="#d6556d" stroke-width="0.7"/>
<path d="M329.0,292.5V1223.5M485.0,292.5V1223.5M641.0,292.5V1223.5M797.0,292.5V1223.5M953.0,292.5V1223.5M1109.0,292.5V1223.5M1265.0,292.5V1223.5M229.4,1146.8H1366.5M229.4,1016.8H1366.5M229.4,886.8H1366.5M229.4,756.8H1366.5M229.4,626.8H1366.5M229.4,496.8H1366.5M229.4,366.8H1366.5" stroke="#a8a8a8" stroke-opacity="0.29" stroke-width="2" fill="none"/>
<path d="M542.8,289.5L542.8,307.0L539.0,313.2L529.0,318.2L522.8,319.5L516.5,315.8L509.0,315.8L501.5,317.0L495.2,317.0L494.0,324.5L495.2,329.5L491.5,334.5L486.5,339.5L485.2,345.8L489.0,350.8L497.8,352.0L504.0,354.5L514.0,355.8L521.5,358.2L529.0,363.2L535.2,368.2L540.2,377.0L546.5,384.5L551.5,392.0L560.2,397.0L565.2,404.5L569.0,405.8L574.0,412.0L579.0,424.5L582.8,434.5L587.8,442.0L589.0,452.0L594.0,462.0L601.5,469.5L605.2,475.8L611.5,474.5L621.5,477.0L629.0,478.2L631.5,484.5L629.0,497.0L630.2,507.0L635.2,514.5L641.5,524.5L654.0,525.8L669.0,525.8L686.5,526.2L694.0,529.5L709.0,540.8L724.0,552.0L739.0,562.0L747.8,568.2L759.0,568.2L769.0,567.0L772.8,567.0L776.5,569.5L784.0,572.0L794.0,573.2L804.0,574.5L811.5,575.8L819.0,575.8L824.0,579.5L829.0,572.0L836.5,564.5L841.5,554.5L851.5,550.8L864.0,544.5L879.0,538.2L889.0,534.0L896.5,540.8L904.0,549.5L911.5,552.0L924.0,550.8L936.5,549.0L946.5,550.8L950.2,544.5L959.0,538.2L974.0,537.0L989.0,534.5L999.0,530.8L1002.8,522.0L1011.5,514.5L1027.0,507.5L1034.0,504.5L1056.5,499.0L1084.0,500.8L1106.5,501.5L1121.5,484.5L1144.0,459.5L1169.0,434.5L1194.0,409.5L1219.0,384.5L1244.0,359.5L1264.0,340.8L1279.0,317.0L1296.5,289.5M539.0,538.2L549.0,527.0L559.0,515.8L569.0,509.5L584.0,504.5L601.5,498.2L610.2,495.8L611.5,500.8L616.5,502.0L619.0,509.5L624.0,517.0L630.2,514.5L635.2,514.5M226.5,527.0L239.0,529.5L245.2,534.0L254.0,528.2L261.5,520.8L269.0,523.2L276.5,523.2L287.8,530.8L295.2,524.5L301.5,513.2L309.0,514.5L317.8,518.2L319.0,528.2L325.2,533.2L331.5,540.8L339.0,549.5L349.0,553.2L356.5,555.8L359.0,568.2L367.8,565.8L374.0,574.5L379.0,564.5L389.0,559.5L396.5,560.8L407.8,565.8L415.2,563.2L421.5,558.2L426.5,562.0L431.5,569.5L441.5,573.2L444.0,568.2L452.8,563.2L464.0,561.5L475.2,560.0L484.0,554.5L491.5,560.0L501.5,561.5L510.2,561.5L519.0,554.5L539.0,538.2M539.0,538.2L541.5,549.5L546.5,557.0L551.5,562.0L559.0,567.0L557.8,577.0L561.5,587.0L564.0,594.5L570.2,604.5L576.5,614.5L581.5,624.5L584.0,637.0L586.5,649.5L587.8,667.0L584.0,675.0L579.0,686.2L574.0,692.5L564.0,700.0L559.0,712.5L551.5,720.0L542.8,730.0L539.0,740.0L531.5,750.0L534.0,762.5L532.8,782.5L532.8,808.8M374.0,574.5L376.5,582.0L370.2,592.0L369.0,599.5L372.8,607.0L371.5,617.0L366.5,628.2L374.0,632.0L381.5,634.5L389.0,638.2L395.2,644.5L389.0,654.5L379.0,667.0L369.0,675.0L359.0,685.0L351.5,692.5L342.8,696.2L339.0,706.2L329.0,711.2L325.2,717.5L324.0,730.0L320.2,740.0L314.0,750.0L312.8,765.0L310.2,782.5L309.0,795.0L306.5,805.0L306.5,817.5L307.8,827.5M1069.0,290.8L1109.0,304.5L1146.5,317.0L1184.0,329.5L1211.5,340.2L1264.0,340.2M946.5,550.8L939.0,562.0L926.5,579.5L914.0,594.5L900.2,609.5L900.2,667.0L900.2,670.0L900.2,802.5L929.0,841.2M1369.0,333.2L1362.8,340.8L1360.2,349.5L1359.0,357.0L1351.5,369.5L1344.0,379.5L1334.0,394.5L1326.5,409.5L1321.5,422.0L1321.5,432.0L1315.2,444.5L1306.5,459.5L1299.0,472.0L1289.0,484.5L1276.5,499.5L1269.0,514.5L1259.0,527.0L1244.0,542.0L1229.0,557.0L1214.0,572.0L1199.0,589.5L1184.0,604.5L1174.0,617.0L1164.0,628.2L1149.0,639.5L1129.0,652.0L1109.0,662.0L1099.0,667.0L1094.0,668.8L1079.0,680.0L1064.0,692.5L1049.0,705.0L1039.0,713.8L1026.5,726.2L1014.0,740.0L1001.5,752.5L986.5,768.8L976.5,780.0L966.5,792.5L956.5,803.8L951.5,807.5L952.8,802.5L950.2,810.0L946.5,818.8L944.0,816.2L945.2,821.2L936.5,833.8L930.2,842.5L921.5,853.8L915.2,860.0L909.0,861.2L904.0,868.8L896.5,872.5L889.0,878.8L881.5,886.2L869.0,890.0L861.5,897.5L859.0,910.0L856.5,920.0L849.0,930.0L844.0,940.0L841.5,945.0L840.2,946.8L837.8,944.2L839.0,950.5L836.5,958.0L831.5,965.5L827.8,966.8L832.8,961.8L830.2,969.2L829.0,973.0L824.0,988.0L816.5,995.5L809.0,999.2L807.8,1010.5L805.2,1015.5L801.5,1020.5L802.8,1023.0L797.8,1038.0L792.8,1050.5L787.8,1063.0L786.5,1073.0L790.2,1085.5L796.5,1093.0L804.0,1098.0L811.5,1105.5L819.0,1110.5L825.2,1118.0L824.0,1128.0L816.5,1135.5L812.8,1148.0L812.8,1160.5L811.5,1163.0L819.0,1170.5L816.5,1183.0L812.8,1193.0L815.2,1205.5L819.0,1215.5L822.8,1223.0M894.0,857.5L896.0,861.2L897.8,855.0L898.5,863.8L901.5,857.5L900.2,866.2L905.2,862.5L909.0,865.0L904.0,868.8L899.0,870.0L896.5,876.2L899.5,871.2M532.8,808.8L539.0,811.2L687.0,892.5L687.0,892.8L726.5,915.0L726.5,914.2L729.0,928.0L722.8,934.2L731.5,941.8L734.0,945.5L809.0,999.2M307.8,827.5L320.2,825.0L324.0,832.5L334.0,827.5L341.5,820.0L347.8,812.5L364.0,811.2L370.2,808.8L532.8,808.8M307.8,827.5L299.0,832.5L290.2,842.5L285.2,852.5L284.0,865.0L279.0,875.0L271.5,881.2L270.2,890.0L275.2,896.2L279.0,893.8M279.0,893.8L291.5,895.0L295.2,902.5L304.0,902.5L316.5,900.0L322.8,895.0L325.2,878.8L334.0,882.5L341.5,878.8L354.0,877.5L364.0,880.0L372.8,877.5M352.8,813.8L356.5,822.5L364.0,828.8L370.2,837.5L372.8,847.5L371.5,857.5L375.2,865.0L372.8,877.5M373.5,877.5L359.0,881.8L354.0,889.2L351.5,896.8L356.5,901.8L352.8,908.0L364.0,910.5L372.8,912.5L370.2,923.0L361.5,930.5L357.8,939.2L351.5,945.5L346.5,955.5L336.5,968.0L329.0,978.0L316.5,985.5L314.0,988.5L299.0,988.0M275.2,895.5L279.0,905.5L287.8,913.0L290.2,920.5L287.8,928.0L289.0,948.0L292.8,963.0L297.8,978.0L299.0,988.0L295.2,1000.5L294.0,1013.0L297.8,1025.5L302.8,1038.0L307.8,1048.0L309.0,1055.5L302.8,1068.0L304.0,1080.5L311.5,1095.5L321.5,1105.5L331.5,1111.8L341.5,1123.0L349.0,1135.5L351.5,1148.0L356.5,1158.0L364.0,1173.0L367.8,1183.0L371.5,1193.0L379.0,1201.8L389.0,1204.2L391.5,1201.8L399.0,1205.5L406.5,1209.2L409.0,1214.2L412.8,1218.0L419.0,1220.5L429.0,1223.0M271.5,1196.8L367.8,1183.0M271.5,1196.8L274.0,1205.5L269.0,1215.5L264.0,1223.0M832.8,1010.5L837.8,1013.0L841.5,1011.8L842.8,1018.0L840.2,1028.0L837.8,1035.5L832.8,1038.0L829.0,1040.5L827.8,1034.2L831.5,1025.5L832.8,1018.0L832.8,1010.5M812.8,1054.2L815.2,1063.0L819.0,1073.0L822.8,1071.8L824.0,1078.0L826.5,1088.0L824.0,1093.0L816.5,1085.5L812.8,1081.8L810.2,1078.0L806.5,1068.0L807.8,1058.0L812.8,1054.2M844.0,1154.2L842.8,1164.2L836.5,1175.5L834.0,1171.8L832.8,1173.0L829.0,1169.2L834.0,1163.0L840.2,1158.0L844.0,1154.2" stroke="#000" stroke-width="2" fill="none" stroke-linejoin="round" stroke-linecap="round"/>
</g>
<rect x="229.4" y="292.5" width="1137.1" height="931.0" fill="none" stroke="#000" stroke-width="3.2"/>
<text x="330.1" y="1276.5" font-size="41.10" text-anchor="middle">30°E</text>
<text x="486.1" y="1276.5" font-size="41.10" text-anchor="middle">33°E</text>
<text x="642.1" y="1276.5" font-size="41.10" text-anchor="middle">36°E</text>
<text x="798.1" y="1276.5" font-size="41.10" text-anchor="middle">39°E</text>
<text x="954.1" y="1276.5" font-size="41.10" text-anchor="middle">42°E</text>
<text x="1110.1" y="1276.5" font-size="41.10" text-anchor="middle">45°E</text>
<text x="1266.1" y="1276.5" font-size="41.10" text-anchor="middle">48°E</text>
<text x="208" y="378.7" font-size="41.10" text-anchor="end">7.5°N</text>
<text x="208" y="508.7" font-size="41.10" text-anchor="end">5°N</text>
<text x="208" y="638.7" font-size="41.10" text-anchor="end">2.5°N</text>
<text x="208" y="768.7" font-size="41.10" text-anchor="end">0°</text>
<text x="208" y="898.7" font-size="41.10" text-anchor="end">2.5°S</text>
<text x="208" y="1028.7" font-size="41.10" text-anchor="end">5°S</text>
<text x="208" y="1158.7" font-size="41.10" text-anchor="end">7.5°S</text>
<text x="797.5" y="210" font-size="50" text-anchor="middle">Temp(°C) @ 20250806_21</text>
<text x="812.5" y="267" font-size="50" text-anchor="middle">Simulation Time: 20250803_12</text>
<rect x="1437.0" y="1178.0" width="57.5" height="105.5" fill="#2a0593"/>
<rect x="1437.0" y="1073.0" width="57.5" height="105.5" fill="#5601a4"/>
<rect x="1437.0" y="968.0" width="57.5" height="105.5" fill="#7e03a8"/>
<rect x="1437.0" y="863.0" width="57.5" height="105.5" fill="#a11b9b"/>
<rect x="1437.0" y="758.0" width="57.5" height="105.5" fill="#bf3984"/>
<rect x="1437.0" y="653.0" width="57.5" height="105.5" fill="#d6556d"/>
<rect x="1437.0" y="548.0" width="57.5" height="105.5" fill="#ea7457"/>
<rect x="1437.0" y="443.0" width="57.5" height="105.5" fill="#f89540"/>
<rect x="1437.0" y="338.0" width="57.5" height="105.5" fill="#feba2c"/>
<rect x="1437.0" y="233.0" width="57.5" height="105.5" fill="#f7e425"/>
<path d="M1437.0,233.0L1465.8,180.5L1494.5,233.0Z" fill="#f0f921"/>
<path d="M1437.0,1283.0L1465.8,1335.5L1494.5,1283.0Z" fill="#0d0887"/>
<path d="M1437.0,233.0L1465.8,180.5L1494.5,233.0L1494.5,1283.0L1465.8,1335.5L1437.0,1283.0Z" fill="none" stroke="#000" stroke-width="3.2" stroke-linejoin="miter"/>
<text x="1524.3" y="1193.0" font-size="41.10">0</text>
<text x="1524.3" y="983.0" font-size="41.10">10</text>
<text x="1524.3" y="773.0" font-size="41.10">20</text>
<text x="1524.3" y="563.0" font-size="41.10">30</text>
<text x="1524.3" y="353.0" font-size="41.10">40</text>
<path d="M1494.5,1178.0h16M1494.5,968.0h16M1494.5,758.0h16M1494.5,548.0h16M1494.5,338.0h16" stroke="#000" stroke-width="3.3" fill="none"/>
</svg></body></html>
